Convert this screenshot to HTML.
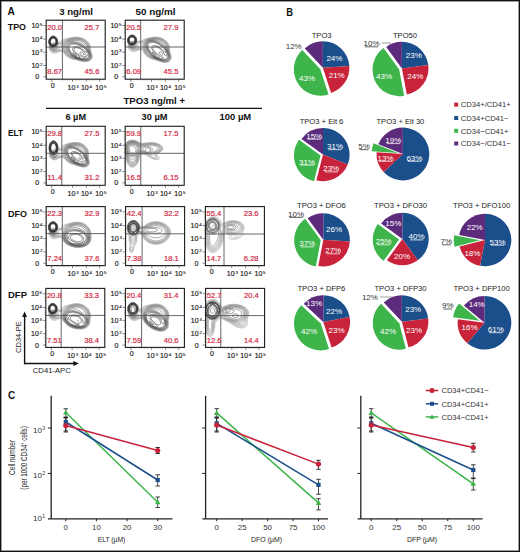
<!DOCTYPE html>
<html><head><meta charset="utf-8"><style>
html,body{margin:0;padding:0;background:#fff;}
svg{display:block;font-family:"Liberation Sans", sans-serif;}
</style></head><body>
<svg width="520" height="552" viewBox="0 0 520 552" font-family='"Liberation Sans", sans-serif'>
<rect x="0" y="0" width="520" height="552" fill="#fff" stroke="#111" stroke-width="2.8"/>
<text x="7.60" y="15.44" font-size="10.4" text-anchor="start" fill="#111" font-weight="bold" textLength="7.3" lengthAdjust="spacingAndGlyphs" >A</text>
<text x="59.20" y="15.00" font-size="8.6" text-anchor="start" fill="#111" font-weight="bold" textLength="33.7" lengthAdjust="spacingAndGlyphs" >3 ng/ml</text>
<text x="135.50" y="15.00" font-size="8.6" text-anchor="start" fill="#111" font-weight="bold" textLength="40" lengthAdjust="spacingAndGlyphs" >50 ng/ml</text>
<text x="7.80" y="29.81" font-size="9.2" text-anchor="start" fill="#111" font-weight="bold" textLength="18.2" lengthAdjust="spacingAndGlyphs" >TPO</text>
<text x="123.50" y="103.90" font-size="8.6" text-anchor="start" fill="#111" font-weight="bold" textLength="61.5" lengthAdjust="spacingAndGlyphs" >TPO3 ng/ml +</text>
<line x1="46" y1="108.3" x2="262" y2="108.3" stroke="#111" stroke-width="1.2"/>
<text x="65.50" y="119.70" font-size="8.6" text-anchor="start" fill="#111" font-weight="bold" textLength="20.5" lengthAdjust="spacingAndGlyphs" >6 µM</text>
<text x="141.60" y="119.70" font-size="8.6" text-anchor="start" fill="#111" font-weight="bold" textLength="26" lengthAdjust="spacingAndGlyphs" >30 µM</text>
<text x="219.50" y="119.70" font-size="8.6" text-anchor="start" fill="#111" font-weight="bold" textLength="31.7" lengthAdjust="spacingAndGlyphs" >100 µM</text>
<text x="8.00" y="136.31" font-size="9.2" text-anchor="start" fill="#111" font-weight="bold" textLength="15" lengthAdjust="spacingAndGlyphs" >ELT</text>
<text x="8.00" y="217.31" font-size="9.2" text-anchor="start" fill="#111" font-weight="bold" textLength="19" lengthAdjust="spacingAndGlyphs" >DFO</text>
<text x="8.00" y="298.31" font-size="9.2" text-anchor="start" fill="#111" font-weight="bold" textLength="19" lengthAdjust="spacingAndGlyphs" >DFP</text>
<g fill="none" stroke-width="0.5">
<path d="M87.7,61.5 85.2,61.7 82.2,61.4 71.0,58.6 68.5,57.4 66.5,56.0 64.9,54.5 63.1,52.0 62.2,51.4 61.2,51.3 59.7,51.7 56.5,53.2 55.2,53.5 53.5,53.4 52.0,52.8 50.0,51.0 49.1,48.7 49.0,47.2 49.5,45.5 48.8,43.0 48.7,41.2 49.0,39.7 49.5,38.5 50.5,37.2 51.7,36.3 53.2,36.0 54.7,36.3 56.0,37.2 56.9,38.5 57.6,40.2 57.9,42.5 58.2,42.5 59.6,42.0 62.0,40.1 64.0,39.2 68.5,38.0 73.0,37.2 76.2,37.0 79.5,37.3 82.2,38.1 85.0,39.4 87.8,41.7 89.8,44.7 90.5,47.2 90.9,51.2 92.3,55.7 92.2,57.7 91.4,59.5 89.7,60.8 87.7,61.5M51.4,43.5 53.0,42.8 55.5,42.7 55.7,42.4 55.7,40.3 55.2,39.3 54.3,38.5 53.2,38.2 52.2,38.4 51.0,39.7 50.5,42.0 50.7,42.9 51.0,43.3 51.4,43.5" stroke="#b9b9b9"/>
<path d="M86.2,61.5 84.0,61.4 81.7,61.1 73.2,59.0 70.5,58.1 68.5,57.1 66.7,55.9 65.0,54.2 63.2,51.7 62.2,51.1 60.1,51.2 55.0,52.9 53.5,52.8 52.0,52.1 50.2,50.5 49.4,48.5 49.3,47.2 49.6,45.7 49.0,43.7 48.8,41.7 49.1,39.7 49.6,38.5 50.7,37.1 52.0,36.3 53.5,36.1 55.0,36.5 56.1,37.5 57.1,39.0 57.6,40.5 58.0,42.9 60.5,42.2 62.7,40.4 65.0,39.4 69.7,38.1 73.5,37.4 76.7,37.3 79.7,37.6 82.5,38.4 85.0,39.6 87.7,42.0 89.5,44.7 90.2,47.2 90.6,51.0 91.8,54.5 92.1,56.2 91.8,58.2 90.7,59.8 88.7,61.0 86.2,61.5M51.5,43.7 53.2,43.1 55.5,43.0 55.7,42.7 55.9,41.5 55.7,40.2 55.2,39.2 54.3,38.5 53.7,38.2 52.6,38.2 51.7,38.7 51.0,39.6 50.5,41.1 50.5,42.2 51.0,43.5 51.5,43.7" stroke="#acacac"/>
<path d="M86.7,61.2 84.5,61.3 81.5,60.8 73.2,58.8 70.5,57.8 68.5,56.8 66.7,55.5 65.2,54.0 63.5,51.5 62.2,50.8 60.5,50.8 54.7,52.2 53.2,52.1 52.0,51.5 50.5,50.1 49.7,48.2 49.9,46.0 49.1,43.7 48.8,41.7 49.0,40.0 49.8,38.2 50.7,37.1 52.2,36.3 53.5,36.1 55.0,36.6 56.0,37.5 57.0,39.0 57.6,40.7 57.7,43.2 58.0,43.3 61.2,42.5 63.7,40.6 66.0,39.5 69.7,38.4 73.0,37.7 76.2,37.5 79.2,37.8 82.2,38.6 84.7,39.8 87.5,42.1 89.3,45.0 89.9,47.0 90.3,51.0 91.5,54.5 91.8,56.0 91.6,58.0 90.7,59.5 89.0,60.6 86.7,61.2M51.7,44.0 53.2,43.4 55.2,43.3 55.7,42.9 56.0,41.5 55.7,40.0 55.0,38.9 54.0,38.2 53.0,38.1 52.0,38.4 50.7,40.0 50.4,41.0 50.5,42.5 51.0,43.7 51.7,44.0" stroke="#9f9f9f"/>
<path d="M86.7,61.0 84.2,61.0 81.5,60.6 73.5,58.6 70.7,57.6 68.7,56.6 67.0,55.3 65.6,54.0 63.7,51.2 62.2,50.3 60.7,50.2 54.7,51.7 53.2,51.5 52.0,51.0 51.0,50.1 50.3,49.0 50.0,47.7 50.1,46.2 49.0,43.2 48.8,41.7 49.0,40.2 49.8,38.2 51.0,37.0 52.2,36.3 54.0,36.2 55.2,36.8 56.4,38.0 57.1,39.2 57.6,41.2 57.6,43.5 57.7,43.8 58.0,43.8 61.8,43.0 64.5,40.8 67.0,39.6 70.0,38.6 73.0,38.0 76.2,37.8 79.2,38.1 82.0,38.8 84.5,40.0 87.1,42.2 88.8,44.7 89.5,47.0 90.0,50.7 91.5,55.7 91.3,57.7 90.5,59.2 89.0,60.3 86.7,61.0M51.8,44.2 53.2,43.7 55.2,43.6 55.7,43.1 56.0,41.7 55.7,40.0 55.0,38.8 54.1,38.2 53.2,38.0 52.3,38.2 51.5,38.8 50.7,39.9 50.4,41.2 50.5,42.7 51.0,43.8 51.5,44.2 51.8,44.2" stroke="#929292"/>
<path d="M86.7,60.7 84.2,60.8 81.2,60.4 74.2,58.5 70.7,57.3 67.4,55.2 65.9,53.7 64.0,50.9 61.7,49.5 60.7,49.4 55.0,51.1 53.5,51.1 52.2,50.6 51.2,49.8 50.5,48.7 50.3,46.2 49.0,43.2 49.0,40.5 49.7,38.5 51.0,37.0 52.5,36.3 54.0,36.3 55.5,37.0 56.5,38.2 57.3,40.0 57.5,41.7 57.4,44.0 57.7,44.3 60.0,44.2 62.0,43.6 63.1,43.0 65.0,41.2 66.5,40.3 69.5,39.1 72.7,38.4 76.0,38.1 79.0,38.3 81.7,39.1 84.2,40.3 86.8,42.5 88.5,45.0 89.1,46.7 89.7,50.5 91.2,55.5 91.1,57.5 90.3,59.0 88.7,60.1 86.7,60.7M51.9,44.5 53.2,44.0 55.2,43.8 56.0,42.7 56.0,41.2 55.7,39.8 55.0,38.7 54.2,38.2 53.2,38.0 52.2,38.2 51.2,39.0 50.5,40.4 50.5,42.9 51.2,44.2 51.9,44.5" stroke="#868686"/>
<path d="M55.5,50.5 53.2,50.6 52.2,50.1 51.5,49.5 50.7,48.2 50.6,46.5 49.6,44.7 49.1,43.2 49.0,40.7 49.5,39.0 50.7,37.3 52.5,36.4 53.5,36.3 54.5,36.5 55.5,37.1 56.3,38.0 57.1,39.5 57.4,40.7 57.2,44.9 58.9,45.7 59.4,46.5 59.3,48.0 58.8,49.0 57.8,49.7 55.5,50.5M52.8,44.5 55.2,44.0 56.0,42.9 56.1,42.0 56.0,40.3 55.5,39.2 54.7,38.4 53.5,37.9 52.2,38.1 51.4,38.7 50.7,39.7 50.3,41.2 50.4,43.0 51.0,44.0 52.0,44.7 52.8,44.5M86.7,60.5 83.7,60.6 79.7,59.8 73.0,57.8 69.5,56.2 66.9,54.2 64.6,51.0 62.6,49.0 61.1,46.0 61.3,45.2 66.5,40.8 68.7,39.8 71.5,39.0 74.7,38.5 78.0,38.6 81.0,39.2 83.7,40.5 86.2,42.5 88.0,45.0 90.9,55.2 90.8,57.2 90.1,58.7 88.7,59.8 86.7,60.5" stroke="#797979"/>
<path d="M55.5,50.0 53.5,50.1 52.5,49.8 51.7,49.2 51.1,48.2 50.9,46.7 49.6,44.5 49.1,43.0 49.1,40.7 49.9,38.5 51.2,37.0 52.7,36.4 54.5,36.6 55.7,37.4 56.8,39.0 57.3,40.5 57.4,42.7 56.8,45.5 57.5,46.7 57.6,48.0 56.9,49.2 55.5,50.0M53.3,44.7 54.7,44.5 55.5,44.0 56.0,43.1 56.2,41.7 56.0,40.1 55.5,39.1 54.5,38.2 53.2,37.9 52.0,38.2 51.0,39.1 50.5,40.1 50.2,41.7 50.5,43.2 51.2,44.4 52.2,44.9 53.3,44.7M86.5,60.2 83.2,60.3 78.7,59.4 73.2,57.5 69.5,55.6 67.0,53.5 63.6,49.0 62.9,46.5 63.0,45.5 63.3,44.7 65.5,42.2 67.0,41.1 69.5,40.0 72.5,39.2 75.7,38.9 78.7,39.2 81.5,39.9 84.0,41.2 86.0,43.0 87.4,45.2 90.6,55.2 90.5,57.0 89.8,58.5 88.5,59.6 86.5,60.2" stroke="#6c6c6c"/>
<path d="M54.2,49.7 53.0,49.5 51.9,48.7 51.3,47.0 49.6,44.5 49.1,42.5 49.3,40.0 50.1,38.2 51.5,36.9 53.0,36.4 54.5,36.7 55.9,37.7 56.9,39.2 57.3,41.2 57.1,43.7 56.4,46.0 56.7,47.2 56.6,48.2 55.7,49.2 54.2,49.7M53.8,45.0 54.7,44.7 55.7,43.8 56.2,42.3 56.2,41.0 55.7,39.5 55.0,38.5 54.1,38.0 53.0,37.8 51.7,38.3 50.7,39.4 50.2,40.9 50.2,42.5 50.7,43.9 51.5,44.7 52.5,45.1 53.8,45.0M86.0,60.0 82.5,59.9 77.7,58.8 73.5,57.3 69.8,55.2 67.6,53.2 64.4,48.7 64.0,47.5 63.9,46.2 64.5,44.5 66.2,42.5 67.7,41.3 70.0,40.4 73.0,39.7 76.0,39.5 79.0,39.9 81.5,40.7 83.7,42.0 85.5,43.5 86.7,45.5 89.5,52.5 90.2,55.2 90.1,57.0 89.3,58.5 88.0,59.4 86.0,60.0" stroke="#606060"/>
<path d="M54.7,49.0 53.5,49.1 52.5,48.6 51.8,47.2 49.8,44.7 49.2,43.0 49.2,41.0 49.9,38.7 51.2,37.2 52.7,36.5 54.2,36.7 55.7,37.6 56.8,39.2 57.2,41.0 57.1,43.5 55.8,46.5 55.8,48.0 55.5,48.5 54.7,49.0M53.7,45.2 55.0,44.7 55.7,43.9 56.2,42.7 56.3,41.0 55.8,39.5 55.0,38.5 54.2,37.9 53.0,37.7 51.7,38.2 50.7,39.3 50.2,40.7 50.1,42.2 50.5,43.6 51.3,44.7 52.2,45.2 53.7,45.2M85.5,59.7 81.7,59.5 77.0,58.4 73.0,56.6 69.8,54.5 67.7,52.2 65.6,49.0 65.0,47.7 64.8,46.5 65.0,45.5 66.4,43.2 67.9,42.0 69.7,41.1 72.0,40.6 74.7,40.4 77.5,40.6 79.8,41.2 82.0,42.2 83.7,43.4 85.5,45.4 87.7,49.1 89.1,52.2 89.8,55.0 89.7,56.7 88.9,58.2 87.5,59.2 85.5,59.7" stroke="#535353"/>
<path d="M54.5,48.2 54.0,48.4 53.2,48.2 51.0,46.1 49.8,44.5 49.3,42.7 49.3,40.5 50.0,38.7 51.2,37.3 52.7,36.6 54.2,36.8 55.5,37.5 56.6,39.0 57.1,40.7 57.2,42.5 56.8,44.2 54.5,48.2M53.0,45.5 54.3,45.2 55.5,44.4 56.2,43.0 56.4,41.7 56.2,40.3 55.5,38.8 54.5,37.9 53.2,37.6 52.0,37.9 51.0,38.8 50.2,40.3 50.0,41.7 50.2,43.1 50.9,44.5 51.8,45.2 53.0,45.5M86.0,59.2 82.7,59.3 78.5,58.5 74.5,57.0 71.2,55.0 68.6,52.2 66.1,48.0 65.9,46.7 66.0,45.7 67.1,43.7 68.2,42.7 70.0,41.8 72.2,41.4 74.5,41.5 77.0,42.0 79.7,43.0 82.2,44.3 84.2,45.8 86.2,47.8 87.6,49.7 88.6,52.0 89.3,54.5 89.3,56.2 88.7,57.5 87.7,58.5 86.0,59.2" stroke="#464646"/>
<path d="M54.0,47.2 52.5,47.0 51.0,46.0 49.9,44.5 49.3,42.5 49.4,40.5 50.2,38.5 51.5,37.2 53.0,36.7 54.4,37.0 55.7,37.9 56.7,39.5 57.1,41.2 57.0,43.2 56.3,45.0 55.2,46.4 54.0,47.2M54.0,45.5 55.2,44.8 56.0,43.7 56.4,42.2 56.4,40.7 55.8,39.2 55.0,38.1 54.0,37.6 52.7,37.5 51.5,38.1 50.6,39.2 50.0,40.7 50.0,42.5 50.5,43.9 51.5,45.1 52.7,45.6 54.0,45.5M85.5,58.7 82.2,58.9 78.2,58.2 74.7,56.8 71.9,55.0 69.3,52.2 67.3,48.5 66.9,46.2 67.8,44.2 69.0,43.2 70.5,42.6 72.5,42.3 74.7,42.5 77.2,43.1 80.0,44.1 82.2,45.3 84.5,46.8 86.1,48.5 87.4,50.2 88.3,52.2 88.7,54.2 88.6,56.0 88.1,57.2 87.0,58.2 85.5,58.7M83.3,55.2 83.7,55.0 83.9,54.5 83.5,53.3 82.0,52.0 81.2,51.7 80.7,51.8 79.9,53.0 80.1,54.0 81.5,55.0 82.5,55.3 83.3,55.2" stroke="#3a3a3a"/>
<path d="M53.7,47.0 52.5,46.8 50.9,45.7 49.9,44.2 49.4,42.2 49.7,40.0 50.2,38.7 51.4,37.5 53.0,36.9 54.5,37.1 55.7,38.1 56.5,39.2 57.0,41.2 57.0,42.7 56.2,44.9 55.0,46.4 53.7,47.0M53.5,45.7 54.9,45.2 55.9,44.2 56.5,42.7 56.6,41.2 56.3,40.0 55.5,38.4 54.2,37.5 53.0,37.3 51.7,37.8 50.5,39.0 49.9,40.7 49.8,42.2 50.3,44.0 51.1,45.0 52.2,45.6 53.5,45.7M83.2,58.2 80.4,58.2 77.2,57.5 74.2,56.1 71.7,54.2 69.5,51.5 68.1,48.5 68.0,46.2 68.9,44.5 70.2,43.6 72.0,43.2 74.0,43.2 76.2,43.5 78.7,44.3 81.2,45.4 83.5,46.8 85.2,48.2 86.5,49.7 87.4,51.5 87.9,53.0 87.8,54.5 87.5,55.6 86.7,56.4 85.0,57.7 83.2,58.2M85.5,56.7 86.0,56.3 86.1,55.7 85.5,54.0 83.8,51.7 81.6,49.7 79.4,48.5 77.2,47.8 75.2,47.9 74.1,48.7 73.9,50.0 74.5,51.2 75.8,52.5 78.8,54.7 80.7,55.9 82.5,56.6 84.2,56.9 85.5,56.7" stroke="#2d2d2d"/>
<path d="M56.5,43.9 56.5,43.6 56.5,43.9M80.0,57.3 78.0,57.2 75.5,56.3 73.2,54.8 71.4,53.0 69.8,50.5 69.0,48.0 69.2,46.2 70.2,44.8 71.5,44.2 73.2,43.9 75.5,44.1 77.7,44.7 79.8,45.5 82.2,46.7 84.0,48.0 85.5,49.5 86.5,51.2 86.5,52.3 85.7,52.1 81.5,48.7 78.5,47.2 76.7,46.9 75.2,46.8 73.8,47.2 72.9,48.0 72.6,49.5 73.3,51.2 74.8,52.7 79.7,56.5 80.2,57.0 80.0,57.3M54.0,46.7 53.2,46.8 52.2,46.5 51.4,46.0 50.8,45.2 52.5,45.8 54.0,45.8 55.2,45.2 56.2,44.0 56.2,44.6 55.5,45.7 54.0,46.7M50.7,45.0 50.7,45.0" stroke="#202020"/>
<path d="M53.7,46.5 52.8,46.5 52.4,46.2 54.8,46.0 53.7,46.5M76.5,55.6 75.6,55.5 74.0,54.5 72.9,53.2 72.9,52.7 75.6,54.5 76.4,55.2 76.5,55.6" stroke="#141414"/>
</g>
<line x1="62.400000000000006" y1="20.2" x2="62.400000000000006" y2="79.2" stroke="#555" stroke-width="0.9"/>
<line x1="46.2" y1="47.0" x2="105.2" y2="47.0" stroke="#555" stroke-width="0.9"/>
<rect x="46.2" y="20.2" width="59" height="59" fill="none" stroke="#1a1a1a" stroke-width="1.1"/>
<text x="47.30" y="29.93" font-size="8.0" text-anchor="start" fill="#d2283f" font-weight="normal" textLength="14.8" lengthAdjust="spacingAndGlyphs" stroke="#d2283f" stroke-width="0.2">20.0</text>
<text x="99.40" y="29.93" font-size="8.0" text-anchor="end" fill="#d2283f" font-weight="normal" textLength="14.8" lengthAdjust="spacingAndGlyphs" stroke="#d2283f" stroke-width="0.2">25.7</text>
<text x="47.30" y="74.38" font-size="8.0" text-anchor="start" fill="#d2283f" font-weight="normal" textLength="14.8" lengthAdjust="spacingAndGlyphs" stroke="#d2283f" stroke-width="0.2">8.67</text>
<text x="99.40" y="74.38" font-size="8.0" text-anchor="end" fill="#d2283f" font-weight="normal" textLength="14.8" lengthAdjust="spacingAndGlyphs" stroke="#d2283f" stroke-width="0.2">45.6</text>
<line x1="43.400000000000006" y1="25.5" x2="46.2" y2="25.5" stroke="#333" stroke-width="0.6"/>
<text x="39.20" y="28.01" font-size="7.0" text-anchor="end" fill="#222" stroke="#222" stroke-width="0.18">10</text>
<text x="40.00" y="25.70" font-size="4.4" fill="#222" stroke="#222" stroke-width="0.12">5</text>
<line x1="43.400000000000006" y1="39.2" x2="46.2" y2="39.2" stroke="#333" stroke-width="0.6"/>
<text x="39.20" y="41.71" font-size="7.0" text-anchor="end" fill="#222" stroke="#222" stroke-width="0.18">10</text>
<text x="40.00" y="39.40" font-size="4.4" fill="#222" stroke="#222" stroke-width="0.12">4</text>
<line x1="43.400000000000006" y1="52.2" x2="46.2" y2="52.2" stroke="#333" stroke-width="0.6"/>
<text x="39.20" y="54.71" font-size="7.0" text-anchor="end" fill="#222" stroke="#222" stroke-width="0.18">10</text>
<text x="40.00" y="52.40" font-size="4.4" fill="#222" stroke="#222" stroke-width="0.12">3</text>
<line x1="43.400000000000006" y1="65.5" x2="46.2" y2="65.5" stroke="#333" stroke-width="0.6"/>
<text x="39.20" y="68.01" font-size="7.0" text-anchor="end" fill="#222" stroke="#222" stroke-width="0.18">10</text>
<text x="40.00" y="65.70" font-size="4.4" fill="#222" stroke="#222" stroke-width="0.12">2</text>
<line x1="43.400000000000006" y1="76.8" x2="46.2" y2="76.8" stroke="#333" stroke-width="0.6"/>
<text x="39.20" y="79.32" font-size="7.0" text-anchor="end" fill="#222" font-weight="normal" stroke="#222" stroke-width="0.18">0</text>
<line x1="44.800000000000004" y1="28.2" x2="46.2" y2="28.2" stroke="#555" stroke-width="0.4"/>
<line x1="44.800000000000004" y1="30.2" x2="46.2" y2="30.2" stroke="#555" stroke-width="0.4"/>
<line x1="44.800000000000004" y1="32.2" x2="46.2" y2="32.2" stroke="#555" stroke-width="0.4"/>
<line x1="44.800000000000004" y1="42.2" x2="46.2" y2="42.2" stroke="#555" stroke-width="0.4"/>
<line x1="44.800000000000004" y1="44.2" x2="46.2" y2="44.2" stroke="#555" stroke-width="0.4"/>
<line x1="44.800000000000004" y1="46.2" x2="46.2" y2="46.2" stroke="#555" stroke-width="0.4"/>
<line x1="44.800000000000004" y1="55.2" x2="46.2" y2="55.2" stroke="#555" stroke-width="0.4"/>
<line x1="44.800000000000004" y1="57.2" x2="46.2" y2="57.2" stroke="#555" stroke-width="0.4"/>
<line x1="44.800000000000004" y1="59.2" x2="46.2" y2="59.2" stroke="#555" stroke-width="0.4"/>
<line x1="44.800000000000004" y1="68.2" x2="46.2" y2="68.2" stroke="#555" stroke-width="0.4"/>
<line x1="44.800000000000004" y1="70.2" x2="46.2" y2="70.2" stroke="#555" stroke-width="0.4"/>
<line x1="44.800000000000004" y1="73.2" x2="46.2" y2="73.2" stroke="#555" stroke-width="0.4"/>
<line x1="51.800000000000004" y1="79.2" x2="51.800000000000004" y2="81.8" stroke="#333" stroke-width="0.6"/>
<line x1="72.5" y1="79.2" x2="72.5" y2="81.8" stroke="#333" stroke-width="0.6"/>
<line x1="86.4" y1="79.2" x2="86.4" y2="81.8" stroke="#333" stroke-width="0.6"/>
<line x1="99.7" y1="79.2" x2="99.7" y2="81.8" stroke="#333" stroke-width="0.6"/>
<line x1="60.2" y1="79.2" x2="60.2" y2="80.5" stroke="#555" stroke-width="0.4"/>
<line x1="63.2" y1="79.2" x2="63.2" y2="80.5" stroke="#555" stroke-width="0.4"/>
<line x1="65.2" y1="79.2" x2="65.2" y2="80.5" stroke="#555" stroke-width="0.4"/>
<line x1="67.2" y1="79.2" x2="67.2" y2="80.5" stroke="#555" stroke-width="0.4"/>
<line x1="69.2" y1="79.2" x2="69.2" y2="80.5" stroke="#555" stroke-width="0.4"/>
<line x1="75.2" y1="79.2" x2="75.2" y2="80.5" stroke="#555" stroke-width="0.4"/>
<line x1="77.2" y1="79.2" x2="77.2" y2="80.5" stroke="#555" stroke-width="0.4"/>
<line x1="79.2" y1="79.2" x2="79.2" y2="80.5" stroke="#555" stroke-width="0.4"/>
<line x1="81.2" y1="79.2" x2="81.2" y2="80.5" stroke="#555" stroke-width="0.4"/>
<line x1="83.2" y1="79.2" x2="83.2" y2="80.5" stroke="#555" stroke-width="0.4"/>
<line x1="89.2" y1="79.2" x2="89.2" y2="80.5" stroke="#555" stroke-width="0.4"/>
<line x1="91.2" y1="79.2" x2="91.2" y2="80.5" stroke="#555" stroke-width="0.4"/>
<line x1="93.2" y1="79.2" x2="93.2" y2="80.5" stroke="#555" stroke-width="0.4"/>
<line x1="95.2" y1="79.2" x2="95.2" y2="80.5" stroke="#555" stroke-width="0.4"/>
<line x1="97.2" y1="79.2" x2="97.2" y2="80.5" stroke="#555" stroke-width="0.4"/>
<text x="52.60" y="88.02" font-size="7.0" text-anchor="middle" fill="#222" font-weight="normal" stroke="#222" stroke-width="0.18">0</text>
<text x="75.40" y="90.01" font-size="7.0" text-anchor="end" fill="#222" stroke="#222" stroke-width="0.18">10</text>
<text x="76.20" y="87.70" font-size="4.4" fill="#222" stroke="#222" stroke-width="0.12">3</text>
<text x="88.70" y="90.01" font-size="7.0" text-anchor="end" fill="#222" stroke="#222" stroke-width="0.18">10</text>
<text x="89.50" y="87.70" font-size="4.4" fill="#222" stroke="#222" stroke-width="0.12">4</text>
<text x="103.10" y="90.01" font-size="7.0" text-anchor="end" fill="#222" stroke="#222" stroke-width="0.18">10</text>
<text x="103.90" y="87.70" font-size="4.4" fill="#222" stroke="#222" stroke-width="0.12">5</text>
<g fill="none" stroke-width="0.5">
<path d="M166.4,62.5 164.4,62.5 161.9,62.1 156.5,60.2 151.7,58.9 149.2,57.8 147.2,56.5 145.5,55.0 144.1,53.0 142.9,50.5 141.9,49.7 140.7,49.7 138.5,50.2 135.4,51.6 134.2,52.0 132.4,51.9 130.7,51.1 128.9,49.2 128.0,46.7 128.0,45.2 128.3,43.7 127.6,41.2 127.5,40.0 127.8,38.5 128.5,37.0 129.7,35.8 131.2,35.1 132.7,35.0 134.2,35.6 135.3,36.5 136.1,37.7 136.6,39.0 136.9,41.2 137.2,41.4 140.7,40.8 143.9,39.2 146.4,38.4 153.9,37.0 156.9,37.0 159.4,37.4 162.2,38.3 164.4,39.5 167.2,42.0 168.8,44.7 169.5,47.2 169.7,51.5 170.9,55.0 171.2,57.0 171.1,59.0 170.2,60.7 168.7,61.9 166.4,62.5M130.1,41.7 131.7,41.1 134.4,41.1 134.7,40.8 134.7,39.0 133.9,37.7 133.1,37.2 131.9,37.0 131.1,37.2 130.2,37.8 129.4,39.1 129.3,40.0 129.4,41.1 129.7,41.6 130.1,41.7" stroke="#b9b9b9"/>
<path d="M166.7,62.2 164.4,62.3 161.9,61.9 152.2,58.8 149.7,57.8 147.7,56.6 145.9,55.0 144.4,53.0 143.1,50.2 142.1,49.5 141.2,49.3 139.4,49.6 133.9,51.3 132.4,51.2 130.9,50.5 129.3,49.0 128.4,46.7 128.3,45.5 128.5,44.0 127.8,42.0 127.5,40.2 127.8,38.5 128.6,37.0 129.7,35.8 131.4,35.1 132.7,35.1 134.2,35.6 135.4,36.7 136.1,37.7 136.6,39.2 136.7,41.4 136.9,41.7 141.0,41.2 146.4,38.7 150.2,37.8 153.9,37.3 156.9,37.3 159.4,37.6 161.7,38.3 164.2,39.6 166.9,42.0 168.7,45.0 169.3,47.5 169.5,51.5 171.0,56.7 170.9,58.7 170.0,60.5 168.7,61.6 166.7,62.2M130.2,42.0 131.9,41.3 134.2,41.4 134.7,41.1 134.9,40.0 134.7,39.0 133.9,37.7 133.2,37.2 131.9,36.9 131.0,37.2 130.2,37.8 129.4,38.9 129.3,40.2 129.7,41.7 130.2,42.0" stroke="#acacac"/>
<path d="M166.7,62.0 164.4,62.1 161.7,61.6 152.2,58.5 149.7,57.5 147.7,56.2 146.0,54.7 144.6,52.7 143.3,50.0 142.2,49.1 140.4,49.0 133.7,50.6 132.2,50.4 130.9,49.8 129.4,48.4 128.6,46.5 128.7,44.0 127.8,42.0 127.6,40.5 127.8,38.7 128.3,37.5 129.4,36.1 130.7,35.3 132.2,35.1 133.9,35.5 135.4,36.7 136.2,38.0 136.6,39.5 136.6,41.7 136.9,42.0 141.9,41.5 145.2,39.7 147.2,38.9 150.4,38.0 153.9,37.5 156.7,37.5 159.2,37.8 161.7,38.6 163.9,39.8 166.5,42.0 167.6,43.5 168.3,45.0 168.9,47.2 169.3,51.2 170.7,56.2 170.7,58.2 170.0,60.0 168.7,61.2 166.7,62.0M130.3,42.2 132.2,41.6 134.2,41.7 134.7,41.3 134.9,40.5 134.9,39.5 134.4,38.3 133.7,37.5 132.7,37.0 131.5,37.0 129.9,38.0 129.4,38.8 129.2,40.3 129.4,41.4 129.9,42.1 130.3,42.2" stroke="#9f9f9f"/>
<path d="M166.4,61.7 164.2,61.8 161.4,61.3 152.2,58.3 149.7,57.2 147.8,56.0 146.2,54.5 144.8,52.5 143.4,49.6 142.2,48.6 140.7,48.5 133.7,50.0 132.2,49.8 130.9,49.2 129.9,48.3 129.2,47.2 128.9,46.0 129.0,44.2 127.8,41.5 127.8,39.0 128.5,37.2 129.4,36.1 130.9,35.3 132.4,35.2 134.2,35.7 135.3,36.7 136.1,38.0 136.6,39.7 136.5,42.2 136.9,42.4 142.4,41.8 145.7,39.9 147.4,39.1 150.4,38.3 153.7,37.8 156.4,37.8 158.9,38.1 161.4,38.8 163.7,40.0 166.3,42.2 168.0,45.0 168.6,47.2 169.0,51.0 170.4,56.2 170.4,58.2 169.7,60.0 168.4,61.0 166.4,61.7M131.0,42.2 132.4,41.8 134.2,41.9 134.7,41.5 134.9,40.8 134.9,39.4 134.5,38.2 133.8,37.5 132.8,37.0 131.7,36.9 130.8,37.2 129.9,37.9 129.4,38.7 129.2,40.2 129.4,41.5 130.2,42.4 131.0,42.2" stroke="#929292"/>
<path d="M166.4,61.5 164.2,61.6 161.4,61.1 152.4,58.0 149.7,56.8 147.9,55.6 146.5,54.2 145.2,52.5 143.7,49.2 141.9,47.8 140.4,47.7 137.2,48.8 133.9,49.4 132.4,49.3 130.9,48.7 130.1,48.0 129.5,47.0 129.2,46.0 129.2,44.5 128.4,43.0 127.8,41.5 127.8,39.2 128.6,37.2 129.7,36.0 131.2,35.3 132.9,35.3 134.2,35.8 135.6,37.2 136.3,38.7 136.6,40.2 136.4,42.7 137.4,43.0 139.9,42.9 142.7,42.4 143.7,41.9 145.9,40.2 147.4,39.5 149.9,38.7 153.4,38.2 156.2,38.1 158.7,38.4 161.2,39.1 163.4,40.2 165.9,42.4 167.6,45.0 168.2,47.0 168.7,51.0 170.1,56.0 170.1,58.0 169.4,59.7 168.2,60.8 166.4,61.5M131.2,42.5 132.4,42.1 134.2,42.1 134.9,41.0 135.0,39.7 134.7,38.5 133.9,37.5 133.0,37.0 131.7,36.8 130.7,37.2 129.7,38.2 129.2,39.3 129.2,40.7 129.4,41.7 130.2,42.5 130.7,42.6 131.2,42.5" stroke="#868686"/>
<path d="M134.7,48.7 132.2,48.7 130.4,47.7 129.7,46.5 129.5,44.7 128.3,42.7 127.9,41.5 127.8,39.5 128.3,37.7 129.7,36.1 131.2,35.4 132.4,35.3 133.7,35.6 134.7,36.2 135.6,37.2 136.3,38.7 136.5,40.0 136.1,43.2 137.8,44.5 138.3,45.2 138.3,46.5 137.7,47.5 136.6,48.2 134.7,48.7M131.4,42.7 133.9,42.4 134.4,42.1 135.0,41.2 135.1,39.7 134.7,38.4 133.9,37.4 132.7,36.8 131.7,36.8 130.6,37.2 129.7,38.1 129.2,39.2 129.2,41.0 129.7,42.2 130.4,42.8 131.4,42.7M165.9,61.2 163.4,61.2 160.4,60.6 152.2,57.6 148.9,55.9 147.3,54.5 146.1,53.0 144.2,49.1 141.6,45.5 141.2,44.7 141.4,44.2 146.9,40.1 148.9,39.3 151.4,38.8 154.9,38.4 157.9,38.6 160.9,39.4 163.4,40.7 165.7,42.7 167.2,45.2 167.7,47.0 168.4,51.0 169.8,56.0 169.8,58.0 169.2,59.5 167.9,60.6 165.9,61.2" stroke="#797979"/>
<path d="M134.2,48.3 132.2,48.2 130.7,47.3 130.0,46.2 129.9,45.0 128.4,42.7 127.9,41.2 127.8,39.5 128.5,37.5 129.7,36.1 131.4,35.4 132.9,35.4 134.4,36.1 135.7,37.5 136.3,39.2 136.3,41.5 135.7,43.7 136.4,45.2 136.5,46.5 135.7,47.6 134.2,48.3M131.7,43.0 133.7,42.7 134.2,42.5 134.9,41.4 135.2,40.5 135.0,39.0 134.4,37.9 133.7,37.2 132.4,36.7 131.2,36.8 130.2,37.4 129.4,38.4 129.1,39.7 129.2,41.2 129.7,42.3 130.5,43.0 131.7,43.0M165.7,61.0 162.7,60.9 158.9,59.8 152.4,57.3 148.9,55.2 147.5,54.0 146.4,52.5 143.6,47.0 143.2,45.2 143.7,43.7 145.7,41.5 147.2,40.4 149.4,39.5 152.4,39.0 155.7,38.9 158.7,39.2 161.4,40.2 163.7,41.5 165.4,43.3 166.7,45.5 169.5,56.0 169.4,58.0 168.7,59.4 167.4,60.4 165.7,61.0" stroke="#6c6c6c"/>
<path d="M133.7,47.8 132.2,47.7 130.9,47.0 130.5,46.2 130.2,45.0 128.6,43.0 127.9,41.0 128.1,38.7 128.8,37.2 129.9,36.0 131.7,35.4 133.2,35.5 134.7,36.4 135.7,37.7 136.3,39.5 136.1,42.0 135.2,44.2 135.5,45.5 135.5,46.2 134.9,47.2 133.7,47.8M132.1,43.2 133.6,43.0 134.4,42.4 134.9,41.6 135.2,40.2 135.0,38.7 134.4,37.8 133.4,37.0 132.2,36.6 130.9,36.9 129.9,37.6 129.2,38.8 128.9,40.2 129.2,41.6 129.9,42.7 130.8,43.2 132.1,43.2M164.7,60.7 161.2,60.3 155.4,58.3 151.3,56.2 148.4,54.0 146.5,51.5 144.2,46.2 144.3,44.2 146.1,41.7 147.7,40.6 149.9,39.8 152.7,39.4 155.7,39.4 158.2,39.8 160.5,40.5 162.4,41.5 164.2,43.0 165.4,44.6 166.3,46.5 168.6,53.5 169.2,56.5 168.9,58.2 168.1,59.5 166.7,60.3 164.7,60.7" stroke="#606060"/>
<path d="M133.2,47.2 132.2,47.1 131.2,46.5 130.7,45.2 128.8,43.2 128.0,41.2 128.0,39.2 128.5,37.7 129.7,36.3 131.4,35.5 132.9,35.5 134.4,36.3 135.7,37.7 136.2,39.5 136.1,41.7 134.7,44.7 134.6,46.2 133.9,46.9 133.2,47.2M132.0,43.5 133.4,43.2 134.4,42.5 135.0,41.7 135.3,40.2 135.0,38.7 134.4,37.7 133.4,36.9 132.2,36.6 131.2,36.7 129.9,37.5 129.2,38.6 128.9,40.0 129.1,41.5 129.7,42.5 130.7,43.3 132.0,43.5M165.4,60.2 163.7,60.3 161.9,60.1 156.9,58.6 152.7,56.6 149.5,54.2 147.2,51.2 145.0,46.5 144.9,45.2 145.1,44.2 146.6,42.0 147.9,40.9 149.7,40.3 151.9,39.9 154.7,40.0 157.4,40.4 159.7,41.2 161.6,42.2 163.2,43.5 164.9,45.7 166.6,48.7 167.9,52.0 168.7,55.5 168.7,57.2 168.1,58.7 167.0,59.7 165.4,60.2" stroke="#535353"/>
<path d="M132.9,46.5 132.0,46.2 131.4,45.5 129.3,43.7 128.4,42.2 128.0,41.0 128.1,39.2 128.8,37.5 130.2,36.1 131.7,35.6 133.4,35.8 134.7,36.6 135.7,38.0 136.2,39.7 136.1,41.5 135.6,43.0 134.0,45.0 133.7,46.0 132.9,46.5M133.1,43.5 134.2,42.9 134.9,41.9 135.3,40.7 135.3,39.2 134.7,38.0 133.7,37.0 132.7,36.5 131.4,36.5 130.2,37.2 129.3,38.2 128.8,39.7 128.9,41.2 129.4,42.3 130.4,43.3 131.7,43.6 133.1,43.5M165.4,59.7 163.9,59.9 162.2,59.8 157.7,58.6 153.7,56.8 150.6,54.5 147.9,51.2 145.8,46.7 145.6,45.5 145.7,44.5 146.9,42.3 148.4,41.2 150.2,40.6 152.2,40.4 154.4,40.6 156.7,41.1 158.9,42.1 160.9,43.3 163.2,45.1 164.9,47.0 166.3,49.2 167.5,52.0 168.2,54.7 168.3,56.5 167.9,58.0 166.9,59.0 165.4,59.7" stroke="#464646"/>
<path d="M132.9,45.2 131.4,45.1 129.9,44.2 128.7,42.7 128.1,41.0 128.2,39.2 128.9,37.5 130.2,36.2 131.7,35.7 133.2,35.8 134.4,36.5 135.5,37.7 136.1,39.5 136.1,41.2 135.6,42.7 134.4,44.2 132.9,45.2M132.6,43.7 133.9,43.2 134.7,42.5 135.3,41.2 135.4,39.7 135.0,38.2 134.2,37.2 132.9,36.5 131.7,36.4 130.4,36.9 129.4,38.0 128.8,39.2 128.8,40.7 129.1,42.0 129.9,43.1 131.2,43.7 132.6,43.7M164.7,59.2 161.4,59.2 157.4,58.2 153.9,56.5 151.2,54.4 148.4,51.0 146.6,47.0 146.4,44.7 146.7,43.7 147.4,42.6 148.7,41.7 150.4,41.1 152.4,40.9 154.7,41.3 156.9,42.0 159.2,43.1 161.4,44.6 163.4,46.3 165.2,48.2 166.3,50.0 167.2,52.2 167.6,54.5 167.6,56.2 167.1,57.7 166.1,58.7 164.7,59.2M162.4,55.2 162.8,54.5 162.2,53.2 160.9,51.9 160.4,51.7 159.9,51.8 159.3,53.0 159.7,54.0 160.9,55.0 161.7,55.2 162.4,55.2" stroke="#3a3a3a"/>
<path d="M132.7,45.0 131.2,44.8 129.7,43.8 128.7,42.4 128.2,40.5 128.4,38.7 129.2,37.2 130.4,36.2 131.7,35.8 133.2,35.9 134.5,36.7 135.5,38.0 136.0,39.7 135.9,41.1 135.2,43.1 134.2,44.3 132.7,45.0M133.1,43.7 134.2,43.1 135.0,42.2 135.6,40.7 135.5,39.2 134.8,37.7 133.9,36.8 132.7,36.3 131.2,36.3 129.9,37.1 129.1,38.2 128.6,39.7 128.8,41.5 129.4,42.7 130.4,43.5 131.7,43.9 133.1,43.7M161.9,58.5 158.9,58.2 155.9,57.2 153.1,55.5 150.8,53.2 148.5,50.0 147.2,46.7 147.1,45.5 147.2,44.5 148.4,42.7 149.7,41.9 151.4,41.5 153.4,41.6 155.4,42.1 157.9,43.2 160.4,44.6 162.7,46.4 164.3,48.0 165.9,50.2 166.7,52.5 166.8,54.7 166.4,55.6 165.9,56.1 165.4,56.0 163.7,53.0 161.9,50.5 158.9,47.9 156.9,47.0 154.9,46.7 153.7,47.0 152.9,48.1 153.2,49.7 154.9,51.7 159.4,55.5 163.4,57.7 163.5,58.0 163.1,58.2 161.9,58.5" stroke="#2d2d2d"/>
<path d="M135.4,42.0 135.4,42.0M132.9,44.7 131.2,44.6 129.6,43.5 131.4,44.0 132.7,44.0 134.2,43.3 135.2,42.3 135.2,42.8 134.5,43.7 132.9,44.7M159.2,57.2 157.4,57.2 154.7,56.0 152.4,54.2 150.3,51.7 148.7,48.7 148.0,46.2 148.2,44.5 149.4,43.0 150.9,42.4 152.7,42.3 154.7,42.6 156.7,43.3 159.0,44.5 161.2,46.0 163.2,47.7 164.7,49.5 165.5,51.2 165.6,52.0 165.4,52.5 164.7,52.3 160.4,48.0 157.4,46.2 155.7,45.7 154.2,45.6 152.9,45.9 152.0,46.7 151.6,48.2 152.4,50.2 154.0,52.0 158.7,56.2 159.3,57.0 159.2,57.2" stroke="#202020"/>
<path d="M132.9,44.5 131.5,44.5 133.5,44.2 132.9,44.5M155.7,55.5 154.6,55.0 153.3,54.0 152.4,52.9 152.2,52.1 152.9,52.4 155.1,54.2 155.9,55.2 155.7,55.5" stroke="#141414"/>
</g>
<line x1="140.7" y1="20.2" x2="140.7" y2="79.2" stroke="#555" stroke-width="0.9"/>
<line x1="125.2" y1="47.0" x2="184.2" y2="47.0" stroke="#555" stroke-width="0.9"/>
<rect x="125.2" y="20.2" width="59" height="59" fill="none" stroke="#1a1a1a" stroke-width="1.1"/>
<text x="126.30" y="29.93" font-size="8.0" text-anchor="start" fill="#d2283f" font-weight="normal" textLength="14.8" lengthAdjust="spacingAndGlyphs" stroke="#d2283f" stroke-width="0.2">20.5</text>
<text x="178.40" y="29.93" font-size="8.0" text-anchor="end" fill="#d2283f" font-weight="normal" textLength="14.8" lengthAdjust="spacingAndGlyphs" stroke="#d2283f" stroke-width="0.2">27.9</text>
<text x="126.30" y="74.38" font-size="8.0" text-anchor="start" fill="#d2283f" font-weight="normal" textLength="14.8" lengthAdjust="spacingAndGlyphs" stroke="#d2283f" stroke-width="0.2">6.09</text>
<text x="178.40" y="74.38" font-size="8.0" text-anchor="end" fill="#d2283f" font-weight="normal" textLength="14.8" lengthAdjust="spacingAndGlyphs" stroke="#d2283f" stroke-width="0.2">45.5</text>
<line x1="122.4" y1="25.5" x2="125.2" y2="25.5" stroke="#333" stroke-width="0.6"/>
<text x="118.20" y="28.01" font-size="7.0" text-anchor="end" fill="#222" stroke="#222" stroke-width="0.18">10</text>
<text x="119.00" y="25.70" font-size="4.4" fill="#222" stroke="#222" stroke-width="0.12">5</text>
<line x1="122.4" y1="39.2" x2="125.2" y2="39.2" stroke="#333" stroke-width="0.6"/>
<text x="118.20" y="41.71" font-size="7.0" text-anchor="end" fill="#222" stroke="#222" stroke-width="0.18">10</text>
<text x="119.00" y="39.40" font-size="4.4" fill="#222" stroke="#222" stroke-width="0.12">4</text>
<line x1="122.4" y1="52.2" x2="125.2" y2="52.2" stroke="#333" stroke-width="0.6"/>
<text x="118.20" y="54.71" font-size="7.0" text-anchor="end" fill="#222" stroke="#222" stroke-width="0.18">10</text>
<text x="119.00" y="52.40" font-size="4.4" fill="#222" stroke="#222" stroke-width="0.12">3</text>
<line x1="122.4" y1="65.5" x2="125.2" y2="65.5" stroke="#333" stroke-width="0.6"/>
<text x="118.20" y="68.01" font-size="7.0" text-anchor="end" fill="#222" stroke="#222" stroke-width="0.18">10</text>
<text x="119.00" y="65.70" font-size="4.4" fill="#222" stroke="#222" stroke-width="0.12">2</text>
<line x1="122.4" y1="76.8" x2="125.2" y2="76.8" stroke="#333" stroke-width="0.6"/>
<text x="118.20" y="79.32" font-size="7.0" text-anchor="end" fill="#222" font-weight="normal" stroke="#222" stroke-width="0.18">0</text>
<line x1="123.8" y1="28.2" x2="125.2" y2="28.2" stroke="#555" stroke-width="0.4"/>
<line x1="123.8" y1="30.2" x2="125.2" y2="30.2" stroke="#555" stroke-width="0.4"/>
<line x1="123.8" y1="32.2" x2="125.2" y2="32.2" stroke="#555" stroke-width="0.4"/>
<line x1="123.8" y1="42.2" x2="125.2" y2="42.2" stroke="#555" stroke-width="0.4"/>
<line x1="123.8" y1="44.2" x2="125.2" y2="44.2" stroke="#555" stroke-width="0.4"/>
<line x1="123.8" y1="46.2" x2="125.2" y2="46.2" stroke="#555" stroke-width="0.4"/>
<line x1="123.8" y1="55.2" x2="125.2" y2="55.2" stroke="#555" stroke-width="0.4"/>
<line x1="123.8" y1="57.2" x2="125.2" y2="57.2" stroke="#555" stroke-width="0.4"/>
<line x1="123.8" y1="59.2" x2="125.2" y2="59.2" stroke="#555" stroke-width="0.4"/>
<line x1="123.8" y1="68.2" x2="125.2" y2="68.2" stroke="#555" stroke-width="0.4"/>
<line x1="123.8" y1="70.2" x2="125.2" y2="70.2" stroke="#555" stroke-width="0.4"/>
<line x1="123.8" y1="73.2" x2="125.2" y2="73.2" stroke="#555" stroke-width="0.4"/>
<line x1="130.8" y1="79.2" x2="130.8" y2="81.8" stroke="#333" stroke-width="0.6"/>
<line x1="151.5" y1="79.2" x2="151.5" y2="81.8" stroke="#333" stroke-width="0.6"/>
<line x1="165.4" y1="79.2" x2="165.4" y2="81.8" stroke="#333" stroke-width="0.6"/>
<line x1="178.7" y1="79.2" x2="178.7" y2="81.8" stroke="#333" stroke-width="0.6"/>
<line x1="139.2" y1="79.2" x2="139.2" y2="80.5" stroke="#555" stroke-width="0.4"/>
<line x1="142.2" y1="79.2" x2="142.2" y2="80.5" stroke="#555" stroke-width="0.4"/>
<line x1="144.2" y1="79.2" x2="144.2" y2="80.5" stroke="#555" stroke-width="0.4"/>
<line x1="146.2" y1="79.2" x2="146.2" y2="80.5" stroke="#555" stroke-width="0.4"/>
<line x1="148.2" y1="79.2" x2="148.2" y2="80.5" stroke="#555" stroke-width="0.4"/>
<line x1="154.2" y1="79.2" x2="154.2" y2="80.5" stroke="#555" stroke-width="0.4"/>
<line x1="156.2" y1="79.2" x2="156.2" y2="80.5" stroke="#555" stroke-width="0.4"/>
<line x1="158.2" y1="79.2" x2="158.2" y2="80.5" stroke="#555" stroke-width="0.4"/>
<line x1="160.2" y1="79.2" x2="160.2" y2="80.5" stroke="#555" stroke-width="0.4"/>
<line x1="162.2" y1="79.2" x2="162.2" y2="80.5" stroke="#555" stroke-width="0.4"/>
<line x1="168.2" y1="79.2" x2="168.2" y2="80.5" stroke="#555" stroke-width="0.4"/>
<line x1="170.2" y1="79.2" x2="170.2" y2="80.5" stroke="#555" stroke-width="0.4"/>
<line x1="172.2" y1="79.2" x2="172.2" y2="80.5" stroke="#555" stroke-width="0.4"/>
<line x1="174.2" y1="79.2" x2="174.2" y2="80.5" stroke="#555" stroke-width="0.4"/>
<line x1="176.2" y1="79.2" x2="176.2" y2="80.5" stroke="#555" stroke-width="0.4"/>
<text x="131.60" y="88.02" font-size="7.0" text-anchor="middle" fill="#222" font-weight="normal" stroke="#222" stroke-width="0.18">0</text>
<text x="154.40" y="90.01" font-size="7.0" text-anchor="end" fill="#222" stroke="#222" stroke-width="0.18">10</text>
<text x="155.20" y="87.70" font-size="4.4" fill="#222" stroke="#222" stroke-width="0.12">3</text>
<text x="167.70" y="90.01" font-size="7.0" text-anchor="end" fill="#222" stroke="#222" stroke-width="0.18">10</text>
<text x="168.50" y="87.70" font-size="4.4" fill="#222" stroke="#222" stroke-width="0.12">4</text>
<text x="182.10" y="90.01" font-size="7.0" text-anchor="end" fill="#222" stroke="#222" stroke-width="0.18">10</text>
<text x="182.90" y="87.70" font-size="4.4" fill="#222" stroke="#222" stroke-width="0.12">5</text>
<g fill="none" stroke-width="0.5">
<path d="M85.7,167.1 83.7,167.2 81.2,166.9 70.7,163.7 67.2,161.6 65.7,160.2 64.0,158.0 63.0,157.4 62.0,157.4 60.1,157.8 57.0,159.5 55.5,159.9 53.5,159.9 51.5,159.0 49.9,157.3 49.3,155.1 49.7,152.6 49.1,149.3 49.1,146.8 49.5,144.6 50.5,142.6 51.7,141.4 52.7,140.9 54.2,140.8 55.5,141.5 56.6,142.8 57.4,144.3 57.9,146.1 58.2,148.6 58.5,148.7 59.9,148.1 61.6,146.1 63.7,144.7 66.7,143.7 72.2,142.5 75.5,142.3 78.7,142.6 81.5,143.5 84.0,144.9 85.5,146.2 86.7,147.6 87.6,149.1 88.3,150.8 88.7,153.6 88.5,157.6 89.5,162.1 89.4,163.8 88.7,165.3 87.5,166.4 85.7,167.1M52.1,150.3 53.5,149.7 55.7,149.2 56.0,148.9 56.2,147.6 56.0,145.9 55.2,144.4 54.1,143.6 53.0,143.5 52.2,144.0 51.5,144.9 51.0,146.2 50.8,147.8 51.0,149.3 51.5,150.3 52.1,150.3" stroke="#b9b9b9"/>
<path d="M85.7,166.8 83.7,167.0 81.2,166.7 70.7,163.4 67.5,161.5 65.9,160.1 64.1,157.8 63.0,157.1 61.7,157.1 59.8,157.6 56.5,159.1 55.2,159.5 53.5,159.5 51.7,158.7 50.5,157.6 49.7,156.1 49.6,154.6 49.9,152.8 49.1,148.8 49.3,145.6 49.8,144.1 50.6,142.6 51.7,141.4 53.0,140.9 54.5,141.0 55.7,141.8 56.6,142.8 57.3,144.3 57.9,146.3 58.2,149.1 58.5,149.2 60.5,148.5 62.5,146.2 64.5,144.9 68.0,143.7 72.2,142.7 75.5,142.5 78.5,142.8 81.2,143.6 83.7,145.0 85.5,146.6 87.0,148.6 87.9,150.6 88.4,152.8 88.2,157.3 89.1,161.3 89.1,163.6 88.7,164.8 88.0,165.7 87.0,166.4 85.7,166.8M52.3,150.6 55.7,149.6 56.2,148.3 56.2,147.0 55.7,145.2 55.0,144.0 54.0,143.5 53.0,143.5 52.2,143.9 51.5,144.8 51.0,146.0 50.7,147.8 51.0,149.5 51.5,150.6 51.7,150.7 52.3,150.6" stroke="#acacac"/>
<path d="M85.7,166.6 83.5,166.8 81.0,166.4 70.7,163.1 67.5,161.2 66.0,159.8 64.3,157.6 63.0,156.8 61.7,156.7 59.5,157.3 55.0,159.1 53.5,159.1 52.0,158.5 50.9,157.6 50.1,156.1 49.9,154.8 50.1,153.1 49.1,148.8 49.3,145.8 50.3,143.1 51.5,141.7 52.7,141.0 54.2,141.0 55.5,141.6 56.5,142.8 57.4,144.6 57.8,146.3 58.0,149.1 58.2,149.6 60.0,149.3 61.4,148.8 63.2,146.4 65.2,145.1 68.2,144.0 71.5,143.1 74.7,142.8 77.7,142.9 80.7,143.7 83.2,145.0 85.1,146.6 86.5,148.3 87.5,150.3 88.1,152.6 88.0,157.1 88.9,161.3 88.9,163.3 88.6,164.3 88.0,165.3 87.0,166.1 85.7,166.6M52.0,151.1 55.5,150.0 56.0,149.5 56.2,148.8 56.2,146.6 55.7,145.0 55.0,144.0 54.0,143.4 53.2,143.4 52.2,143.8 51.5,144.7 51.0,145.9 50.7,147.8 51.0,149.7 51.5,150.7 52.0,151.1" stroke="#9f9f9f"/>
<path d="M84.2,166.6 82.2,166.5 80.0,166.0 70.5,162.7 67.7,161.0 66.2,159.6 64.5,157.3 62.7,156.3 61.5,156.3 59.2,156.9 55.0,158.7 53.5,158.7 52.0,158.1 51.1,157.3 50.4,156.1 50.2,155.1 50.3,153.3 49.2,149.3 49.4,145.8 49.8,144.3 50.5,142.8 52.0,141.4 53.2,140.9 54.5,141.1 55.7,141.9 56.6,143.1 57.3,144.6 57.8,146.8 58.0,149.9 58.2,150.1 60.7,149.7 62.0,149.3 62.5,148.8 64.0,146.6 66.0,145.2 68.7,144.1 71.7,143.4 75.0,143.0 78.0,143.3 81.0,144.1 83.5,145.5 85.8,147.8 87.4,150.8 87.8,153.3 87.7,157.3 88.7,162.1 88.5,163.8 87.6,165.3 86.2,166.2 84.2,166.6M52.3,151.3 55.5,150.4 56.2,149.1 56.3,147.3 56.0,145.5 55.1,144.1 53.9,143.3 53.0,143.4 52.0,144.0 51.2,145.1 50.7,146.8 50.7,148.8 51.0,149.9 51.5,150.9 52.0,151.3 52.3,151.3" stroke="#929292"/>
<path d="M84.2,166.3 82.0,166.2 79.7,165.7 70.5,162.4 67.4,160.3 64.2,156.6 62.0,155.2 61.2,155.4 55.0,158.2 53.5,158.3 52.0,157.6 50.8,156.1 50.6,153.6 49.6,150.8 49.3,149.3 49.4,146.1 49.8,144.3 50.6,142.8 51.7,141.6 53.2,141.0 54.5,141.2 55.8,142.1 56.6,143.1 57.4,144.8 57.8,147.3 57.8,150.3 58.0,150.7 58.2,150.7 60.5,150.5 62.0,150.1 63.0,149.3 64.3,147.1 65.7,145.8 68.2,144.7 71.7,143.7 75.0,143.3 78.0,143.6 80.7,144.4 83.2,145.8 85.6,148.1 87.0,150.8 87.4,153.1 87.5,157.1 88.5,161.8 88.3,163.6 87.5,165.0 86.0,165.9 84.2,166.3M52.5,151.6 55.5,150.7 56.0,150.0 56.3,148.8 56.2,146.3 55.7,144.8 54.9,143.8 53.7,143.2 52.9,143.3 52.0,143.9 51.2,145.0 50.7,146.6 50.6,148.6 51.0,150.1 51.7,151.3 52.5,151.6" stroke="#868686"/>
<path d="M55.0,157.8 54.0,157.9 53.0,157.7 51.4,156.6 51.0,155.6 50.8,153.8 49.8,151.3 49.3,149.1 49.3,146.6 50.1,143.8 51.5,141.9 52.2,141.4 53.2,141.1 54.2,141.2 55.2,141.6 56.8,143.6 57.6,146.3 57.7,151.6 58.9,152.3 59.4,153.6 59.3,154.8 58.8,155.6 56.5,157.1 55.0,157.8M52.8,151.8 55.0,151.3 55.5,150.9 56.2,149.6 56.4,148.3 56.2,146.1 55.7,144.7 54.7,143.6 53.7,143.1 52.7,143.3 51.7,144.1 51.0,145.5 50.6,147.1 50.7,149.3 51.2,150.8 52.0,151.6 52.8,151.8M84.0,166.1 80.5,165.7 73.7,163.4 70.0,161.7 67.5,159.8 63.4,155.1 62.3,152.3 62.5,151.1 65.2,146.8 67.0,145.6 69.5,144.6 72.5,143.9 75.5,143.7 78.0,144.0 80.5,144.7 82.6,145.8 84.4,147.3 85.9,149.3 86.8,151.6 87.1,156.6 88.2,162.1 87.9,163.6 87.1,164.8 85.7,165.7 84.0,166.1" stroke="#797979"/>
<path d="M55.0,157.4 53.2,157.4 52.5,157.0 51.7,156.3 51.1,154.1 49.8,151.3 49.3,149.1 49.5,145.8 50.3,143.6 51.7,141.8 53.2,141.2 54.7,141.4 56.1,142.6 57.1,144.3 57.6,146.6 57.6,149.6 57.2,152.3 57.8,153.8 57.9,154.8 57.5,155.6 56.8,156.3 55.0,157.4M53.0,152.1 54.7,151.7 55.5,151.1 56.2,149.8 56.5,148.6 56.5,147.0 56.0,145.1 55.0,143.6 53.7,143.0 52.5,143.3 51.5,144.3 50.7,146.1 50.5,147.3 50.7,149.6 51.2,150.9 52.0,151.8 53.0,152.1M83.2,165.8 79.5,165.2 73.5,163.0 70.0,161.2 67.5,159.1 64.2,155.1 63.4,152.6 63.6,150.8 64.8,148.1 65.9,146.8 67.7,145.6 70.0,144.9 73.2,144.2 76.0,144.2 78.2,144.5 80.5,145.2 82.5,146.3 84.1,147.8 85.4,149.6 86.2,151.6 86.7,156.0 87.7,160.6 87.9,162.1 87.5,163.6 86.6,164.8 85.2,165.5 83.2,165.8" stroke="#6c6c6c"/>
<path d="M54.2,157.1 53.0,156.8 52.0,155.8 51.5,154.3 49.8,151.1 49.4,148.3 49.6,145.8 50.4,143.6 51.7,141.9 52.5,141.5 53.5,141.2 55.0,141.7 56.3,143.1 57.3,145.3 57.6,147.3 57.6,149.8 56.7,153.1 56.9,155.1 56.0,156.3 54.2,157.1M54.4,152.1 55.5,151.3 56.2,150.0 56.5,148.6 56.5,146.6 56.0,144.9 55.2,143.8 54.2,143.1 53.2,143.0 52.0,143.6 51.2,144.6 50.6,146.3 50.5,148.6 51.0,150.6 51.7,151.7 52.7,152.3 54.4,152.1M84.7,165.3 83.2,165.5 81.5,165.4 76.5,163.9 72.0,161.9 68.7,159.6 65.2,155.3 64.3,153.3 64.2,152.1 64.3,150.8 65.1,148.6 66.0,147.3 67.5,146.2 69.5,145.4 72.5,144.8 75.2,144.7 77.5,144.9 79.6,145.6 81.6,146.6 83.1,147.8 84.5,149.4 85.4,151.3 87.5,161.1 87.4,162.6 86.9,163.8 86.0,164.8 84.7,165.3" stroke="#606060"/>
<path d="M55.0,156.3 53.7,156.5 52.6,155.8 50.3,152.1 49.5,149.3 49.5,146.3 50.3,143.8 51.7,142.0 53.2,141.4 54.7,141.6 56.1,142.8 57.0,144.6 57.5,146.8 57.6,148.8 57.3,150.8 56.2,153.7 56.0,155.3 55.0,156.3M54.3,152.3 55.5,151.5 56.2,150.2 56.6,148.6 56.5,146.8 56.2,145.4 55.5,144.0 54.4,143.1 53.2,142.9 52.0,143.5 51.0,145.0 50.4,146.8 50.4,148.8 51.0,150.8 51.7,151.9 53.0,152.5 54.3,152.3M84.0,165.1 80.7,164.9 76.0,163.5 72.2,161.6 69.2,159.3 65.9,155.1 65.0,153.1 64.8,151.6 65.0,150.3 65.7,148.6 66.5,147.5 68.0,146.5 69.7,145.8 72.2,145.5 74.7,145.4 77.0,145.7 79.0,146.4 80.8,147.3 82.3,148.6 83.5,150.1 84.5,151.8 86.3,157.1 87.1,160.8 87.0,162.6 86.5,163.7 85.5,164.6 84.0,165.1" stroke="#535353"/>
<path d="M54.2,155.8 53.2,155.5 50.8,152.8 49.9,150.8 49.5,148.6 49.7,146.1 50.5,143.6 52.0,142.0 53.5,141.5 55.0,141.9 56.3,143.3 57.1,145.1 57.5,147.6 57.3,150.1 56.9,151.8 55.1,155.3 54.2,155.8M54.1,152.6 55.2,151.9 56.0,151.0 56.5,149.3 56.7,147.3 56.3,145.6 55.7,144.2 54.7,143.1 53.5,142.7 52.2,143.2 51.1,144.6 50.4,146.6 50.3,148.6 50.7,150.3 51.7,152.0 52.7,152.6 54.1,152.6M84.2,164.6 83.0,164.8 81.2,164.7 77.0,163.6 73.2,161.9 70.1,159.6 68.6,157.8 66.8,155.3 65.7,153.1 65.5,151.8 65.6,150.3 66.2,148.8 66.9,147.8 68.2,146.9 70.0,146.3 72.0,146.1 74.2,146.3 76.2,146.9 78.0,147.7 80.2,149.2 82.0,150.7 83.7,152.7 85.0,154.8 86.0,157.3 86.6,159.6 86.7,161.3 86.4,162.8 85.5,163.9 84.2,164.6" stroke="#464646"/>
<path d="M54.2,154.9 53.5,154.9 52.7,154.6 51.1,153.1 50.1,151.1 49.6,148.6 49.8,145.8 50.7,143.6 52.0,142.1 53.5,141.6 55.0,142.0 56.2,143.3 57.0,145.1 57.4,147.6 57.2,150.1 56.6,152.1 55.5,153.9 54.2,154.9M53.8,152.8 55.0,152.3 56.0,151.2 56.6,149.6 56.8,147.6 56.5,145.8 55.8,144.1 54.7,143.0 53.5,142.6 52.2,143.0 51.1,144.3 50.4,146.1 50.2,148.1 50.6,150.3 51.4,151.8 52.5,152.7 53.8,152.8M83.7,164.1 80.7,164.2 77.0,163.3 73.5,161.6 70.7,159.6 68.3,156.6 66.3,153.1 66.1,151.8 66.2,150.6 66.6,149.3 67.2,148.3 68.5,147.4 70.0,146.9 71.7,146.7 73.7,147.0 75.7,147.7 78.0,148.9 82.2,152.1 83.8,153.8 84.9,155.6 85.6,157.3 86.1,159.3 86.1,161.1 85.7,162.5 85.0,163.4 83.7,164.1M80.6,159.8 80.8,159.3 80.5,158.4 79.7,157.6 79.0,157.7 78.7,158.3 78.9,159.1 79.7,159.7 80.6,159.8" stroke="#3a3a3a"/>
<path d="M54.0,154.6 52.5,154.2 51.0,152.6 50.0,150.1 49.7,148.2 50.0,145.7 50.7,143.8 52.0,142.3 53.5,141.8 55.0,142.2 56.2,143.6 57.0,145.3 57.3,147.6 57.2,149.6 56.5,152.1 55.2,153.9 54.0,154.6M54.4,152.8 55.5,152.1 56.3,150.8 56.8,149.1 56.8,146.8 56.3,144.8 55.6,143.6 54.5,142.6 53.2,142.4 52.0,143.0 50.8,144.6 50.1,146.8 50.1,148.8 50.6,150.8 51.6,152.3 53.0,153.0 54.4,152.8M82.2,163.3 79.7,163.5 76.5,162.7 73.5,161.2 70.8,159.1 68.5,156.1 67.0,153.1 66.8,151.8 66.9,150.6 67.2,149.6 67.9,148.6 69.2,147.7 70.7,147.4 72.5,147.5 74.2,147.9 78.5,149.9 82.5,153.1 83.7,154.6 84.7,156.2 85.3,157.8 85.5,159.3 85.2,160.8 84.7,161.7 83.4,162.8 82.2,163.3M82.8,161.8 83.1,161.3 83.2,160.8 82.6,159.1 81.0,156.6 79.2,154.6 77.3,153.3 75.5,152.5 73.7,152.5 72.6,153.1 72.3,154.1 72.7,155.3 73.7,156.6 76.2,158.8 78.1,160.3 80.0,161.4 81.7,161.9 82.8,161.8" stroke="#2d2d2d"/>
<path d="M78.5,162.4 76.7,162.3 74.0,161.0 71.8,159.3 69.9,157.1 68.2,154.1 67.6,152.1 67.9,150.1 69.0,148.8 70.2,148.2 71.7,148.1 73.5,148.4 75.5,149.1 77.9,150.3 80.1,151.8 82.0,153.4 83.3,155.1 84.3,157.1 84.4,158.1 84.2,158.5 83.5,158.2 79.7,154.1 77.0,152.3 75.2,151.6 73.7,151.4 72.5,151.6 71.5,152.3 71.1,153.8 71.8,155.6 73.4,157.3 78.2,161.6 78.6,162.1 78.5,162.4M56.7,151.0 56.5,150.8 56.7,150.3 56.7,151.0M53.7,154.3 52.2,153.8 51.1,152.3 52.7,153.1 54.2,153.1 55.5,152.3 56.5,150.9 56.7,151.1 56.5,151.7 55.5,153.3 54.7,154.0 53.7,154.3M51.0,152.1 51.0,152.1" stroke="#202020"/>
<path d="M71.5,149.8 71.2,149.8 71.5,149.8M54.2,153.9 53.5,154.0 52.7,153.6 55.0,153.2 54.8,153.6 54.2,153.9M75.2,160.7 74.1,160.3 72.8,159.3 71.7,158.1 71.2,157.0 72.0,157.3 74.3,159.3 75.2,160.3 75.2,160.7" stroke="#141414"/>
</g>
<line x1="61.800000000000004" y1="126.3" x2="61.800000000000004" y2="185.3" stroke="#555" stroke-width="0.9"/>
<line x1="46.2" y1="153.3" x2="105.2" y2="153.3" stroke="#555" stroke-width="0.9"/>
<rect x="46.2" y="126.3" width="59" height="59" fill="none" stroke="#1a1a1a" stroke-width="1.1"/>
<text x="47.30" y="136.03" font-size="8.0" text-anchor="start" fill="#d2283f" font-weight="normal" textLength="14.8" lengthAdjust="spacingAndGlyphs" stroke="#d2283f" stroke-width="0.2">29.8</text>
<text x="99.40" y="136.03" font-size="8.0" text-anchor="end" fill="#d2283f" font-weight="normal" textLength="14.8" lengthAdjust="spacingAndGlyphs" stroke="#d2283f" stroke-width="0.2">27.5</text>
<text x="47.30" y="180.48" font-size="8.0" text-anchor="start" fill="#d2283f" font-weight="normal" textLength="14.8" lengthAdjust="spacingAndGlyphs" stroke="#d2283f" stroke-width="0.2">11.4</text>
<text x="99.40" y="180.48" font-size="8.0" text-anchor="end" fill="#d2283f" font-weight="normal" textLength="14.8" lengthAdjust="spacingAndGlyphs" stroke="#d2283f" stroke-width="0.2">31.2</text>
<line x1="43.400000000000006" y1="131.6" x2="46.2" y2="131.6" stroke="#333" stroke-width="0.6"/>
<text x="39.20" y="134.11" font-size="7.0" text-anchor="end" fill="#222" stroke="#222" stroke-width="0.18">10</text>
<text x="40.00" y="131.80" font-size="4.4" fill="#222" stroke="#222" stroke-width="0.12">5</text>
<line x1="43.400000000000006" y1="145.3" x2="46.2" y2="145.3" stroke="#333" stroke-width="0.6"/>
<text x="39.20" y="147.81" font-size="7.0" text-anchor="end" fill="#222" stroke="#222" stroke-width="0.18">10</text>
<text x="40.00" y="145.50" font-size="4.4" fill="#222" stroke="#222" stroke-width="0.12">4</text>
<line x1="43.400000000000006" y1="158.3" x2="46.2" y2="158.3" stroke="#333" stroke-width="0.6"/>
<text x="39.20" y="160.81" font-size="7.0" text-anchor="end" fill="#222" stroke="#222" stroke-width="0.18">10</text>
<text x="40.00" y="158.50" font-size="4.4" fill="#222" stroke="#222" stroke-width="0.12">3</text>
<line x1="43.400000000000006" y1="171.6" x2="46.2" y2="171.6" stroke="#333" stroke-width="0.6"/>
<text x="39.20" y="174.11" font-size="7.0" text-anchor="end" fill="#222" stroke="#222" stroke-width="0.18">10</text>
<text x="40.00" y="171.80" font-size="4.4" fill="#222" stroke="#222" stroke-width="0.12">2</text>
<line x1="43.400000000000006" y1="182.9" x2="46.2" y2="182.9" stroke="#333" stroke-width="0.6"/>
<text x="39.20" y="185.42" font-size="7.0" text-anchor="end" fill="#222" font-weight="normal" stroke="#222" stroke-width="0.18">0</text>
<line x1="44.800000000000004" y1="134.3" x2="46.2" y2="134.3" stroke="#555" stroke-width="0.4"/>
<line x1="44.800000000000004" y1="136.3" x2="46.2" y2="136.3" stroke="#555" stroke-width="0.4"/>
<line x1="44.800000000000004" y1="138.3" x2="46.2" y2="138.3" stroke="#555" stroke-width="0.4"/>
<line x1="44.800000000000004" y1="148.3" x2="46.2" y2="148.3" stroke="#555" stroke-width="0.4"/>
<line x1="44.800000000000004" y1="150.3" x2="46.2" y2="150.3" stroke="#555" stroke-width="0.4"/>
<line x1="44.800000000000004" y1="152.3" x2="46.2" y2="152.3" stroke="#555" stroke-width="0.4"/>
<line x1="44.800000000000004" y1="161.3" x2="46.2" y2="161.3" stroke="#555" stroke-width="0.4"/>
<line x1="44.800000000000004" y1="163.3" x2="46.2" y2="163.3" stroke="#555" stroke-width="0.4"/>
<line x1="44.800000000000004" y1="165.3" x2="46.2" y2="165.3" stroke="#555" stroke-width="0.4"/>
<line x1="44.800000000000004" y1="174.3" x2="46.2" y2="174.3" stroke="#555" stroke-width="0.4"/>
<line x1="44.800000000000004" y1="176.3" x2="46.2" y2="176.3" stroke="#555" stroke-width="0.4"/>
<line x1="44.800000000000004" y1="179.3" x2="46.2" y2="179.3" stroke="#555" stroke-width="0.4"/>
<line x1="51.800000000000004" y1="185.3" x2="51.800000000000004" y2="187.9" stroke="#333" stroke-width="0.6"/>
<line x1="72.5" y1="185.3" x2="72.5" y2="187.9" stroke="#333" stroke-width="0.6"/>
<line x1="86.4" y1="185.3" x2="86.4" y2="187.9" stroke="#333" stroke-width="0.6"/>
<line x1="99.7" y1="185.3" x2="99.7" y2="187.9" stroke="#333" stroke-width="0.6"/>
<line x1="60.2" y1="185.3" x2="60.2" y2="186.60000000000002" stroke="#555" stroke-width="0.4"/>
<line x1="63.2" y1="185.3" x2="63.2" y2="186.60000000000002" stroke="#555" stroke-width="0.4"/>
<line x1="65.2" y1="185.3" x2="65.2" y2="186.60000000000002" stroke="#555" stroke-width="0.4"/>
<line x1="67.2" y1="185.3" x2="67.2" y2="186.60000000000002" stroke="#555" stroke-width="0.4"/>
<line x1="69.2" y1="185.3" x2="69.2" y2="186.60000000000002" stroke="#555" stroke-width="0.4"/>
<line x1="75.2" y1="185.3" x2="75.2" y2="186.60000000000002" stroke="#555" stroke-width="0.4"/>
<line x1="77.2" y1="185.3" x2="77.2" y2="186.60000000000002" stroke="#555" stroke-width="0.4"/>
<line x1="79.2" y1="185.3" x2="79.2" y2="186.60000000000002" stroke="#555" stroke-width="0.4"/>
<line x1="81.2" y1="185.3" x2="81.2" y2="186.60000000000002" stroke="#555" stroke-width="0.4"/>
<line x1="83.2" y1="185.3" x2="83.2" y2="186.60000000000002" stroke="#555" stroke-width="0.4"/>
<line x1="89.2" y1="185.3" x2="89.2" y2="186.60000000000002" stroke="#555" stroke-width="0.4"/>
<line x1="91.2" y1="185.3" x2="91.2" y2="186.60000000000002" stroke="#555" stroke-width="0.4"/>
<line x1="93.2" y1="185.3" x2="93.2" y2="186.60000000000002" stroke="#555" stroke-width="0.4"/>
<line x1="95.2" y1="185.3" x2="95.2" y2="186.60000000000002" stroke="#555" stroke-width="0.4"/>
<line x1="97.2" y1="185.3" x2="97.2" y2="186.60000000000002" stroke="#555" stroke-width="0.4"/>
<text x="52.60" y="194.12" font-size="7.0" text-anchor="middle" fill="#222" font-weight="normal" stroke="#222" stroke-width="0.18">0</text>
<text x="75.40" y="196.11" font-size="7.0" text-anchor="end" fill="#222" stroke="#222" stroke-width="0.18">10</text>
<text x="76.20" y="193.80" font-size="4.4" fill="#222" stroke="#222" stroke-width="0.12">3</text>
<text x="88.70" y="196.11" font-size="7.0" text-anchor="end" fill="#222" stroke="#222" stroke-width="0.18">10</text>
<text x="89.50" y="193.80" font-size="4.4" fill="#222" stroke="#222" stroke-width="0.12">4</text>
<text x="103.10" y="196.11" font-size="7.0" text-anchor="end" fill="#222" stroke="#222" stroke-width="0.18">10</text>
<text x="103.90" y="193.80" font-size="4.4" fill="#222" stroke="#222" stroke-width="0.12">5</text>
<g fill="none" stroke-width="0.5">
<path d="M125.2,143.6 127.0,141.8 128.9,140.7 131.2,140.1 133.9,140.1 136.7,140.9 140.0,142.8 141.4,143.3 150.9,142.6 153.9,142.7 157.2,143.4 159.7,144.4 161.4,145.6 162.6,147.1 163.0,148.6 162.6,150.1 161.6,151.3 157.0,154.3 157.1,155.1 158.7,156.8 159.3,157.8 159.4,158.8 158.7,159.6 156.9,159.9 154.2,159.4 150.9,158.1 146.1,155.1 143.7,154.5 141.4,154.6 140.4,155.1 139.7,156.1 138.5,161.3 137.1,164.3 135.2,166.4 133.2,167.3 131.7,167.2 130.2,166.6 128.9,165.6 127.7,164.1 126.3,160.6 125.2,154.3" stroke="#b9b9b9"/>
<path d="M125.2,143.9 126.7,142.2 128.9,140.9 131.4,140.2 133.7,140.2 136.4,141.0 140.2,143.2 141.3,143.6 150.7,142.7 153.9,142.9 156.7,143.5 159.2,144.4 161.0,145.6 162.3,147.1 162.7,148.6 162.2,150.1 161.2,151.3 157.0,153.8 156.5,154.3 156.6,155.1 158.6,157.6 158.7,158.6 158.2,159.1 156.7,159.5 154.2,159.1 151.2,157.9 147.7,155.6 146.2,154.8 143.4,154.2 141.2,154.3 140.2,154.9 139.5,156.1 138.3,161.1 136.9,164.1 135.2,166.0 133.9,166.7 132.9,166.9 131.7,166.9 130.2,166.2 128.9,165.2 127.9,163.8 126.5,160.6 125.8,155.6 125.2,153.8" stroke="#b1b1b1"/>
<path d="M125.2,144.2 126.7,142.5 128.7,141.2 131.2,140.4 133.7,140.4 136.4,141.2 140.0,143.3 141.2,143.8 150.7,142.9 153.9,143.1 156.7,143.7 159.2,144.6 160.9,145.8 161.9,147.1 162.3,148.6 162.0,149.8 160.9,151.2 159.4,152.2 156.5,153.8 156.0,154.3 156.0,155.1 157.3,156.6 157.9,157.6 157.8,158.3 156.9,158.9 154.9,158.9 152.7,158.2 150.7,157.2 148.0,155.3 145.5,154.3 142.2,153.8 140.5,154.3 139.7,155.1 139.2,156.0 138.1,160.8 136.9,163.6 134.9,165.7 132.9,166.5 131.4,166.4 130.2,165.8 128.9,164.7 128.0,163.3 126.8,160.6 126.0,155.6 125.2,153.4" stroke="#a9a9a9"/>
<path d="M125.2,144.5 126.7,142.7 128.7,141.4 130.9,140.6 133.4,140.6 136.4,141.4 140.2,143.7 141.2,144.1 150.2,143.1 153.2,143.2 156.2,143.7 158.7,144.7 160.5,145.8 161.5,147.1 161.9,148.6 161.5,150.1 160.4,151.2 158.9,152.2 156.3,153.6 155.3,154.3 155.3,155.1 156.9,157.3 156.7,158.0 156.1,158.3 154.7,158.3 152.9,157.8 151.3,157.1 148.3,155.1 145.6,154.1 142.2,153.5 140.4,154.0 139.7,154.6 139.0,155.8 137.9,160.6 136.7,163.3 134.9,165.2 132.9,166.1 131.7,166.0 130.4,165.5 129.2,164.5 128.2,163.1 127.1,160.6 126.2,155.6 125.2,152.9" stroke="#a2a2a2"/>
<path d="M125.2,144.9 126.6,143.1 128.4,141.7 130.7,140.9 133.4,140.7 136.4,141.6 140.2,144.0 141.2,144.4 150.2,143.3 153.2,143.4 156.2,144.0 158.4,144.8 160.2,146.0 161.2,147.3 161.5,148.6 161.0,150.1 159.9,151.2 154.6,154.3 154.4,155.1 155.6,156.8 155.5,157.3 154.9,157.5 152.7,157.1 149.3,155.1 145.7,153.8 142.2,153.2 140.4,153.6 139.4,154.5 138.7,155.8 137.6,160.6 136.4,163.0 134.8,164.8 132.9,165.6 131.7,165.5 130.4,165.0 129.3,164.1 128.4,162.8 127.3,160.3 126.5,155.6 125.2,152.4" stroke="#9a9a9a"/>
<path d="M125.2,145.4 126.5,143.5 128.4,141.9 130.7,141.1 133.2,140.9 136.2,141.7 140.2,144.3 141.2,144.7 150.2,143.5 153.2,143.7 155.9,144.2 158.2,145.1 159.7,146.1 160.7,147.3 161.0,148.6 160.7,149.8 159.6,151.1 158.0,152.1 154.3,153.8 152.4,155.4 143.7,153.1 141.7,152.9 140.4,153.2 139.4,154.1 138.5,155.6 137.3,160.3 136.2,162.7 134.4,164.5 132.7,165.1 131.4,164.9 130.4,164.4 129.4,163.5 128.6,162.3 127.5,159.8 126.6,155.3 125.2,151.9" stroke="#929292"/>
<path d="M125.2,146.0 126.5,143.8 128.4,142.2 130.7,141.3 133.2,141.1 136.2,142.0 140.0,144.6 141.2,145.0 149.9,143.8 152.7,143.9 155.4,144.4 157.4,145.1 159.0,146.1 160.1,147.3 160.4,148.6 159.9,150.1 158.6,151.3 156.7,152.3 151.9,154.2 149.9,154.2 142.4,152.5 141.4,152.5 140.4,152.8 139.2,153.9 138.2,155.6 137.0,160.1 135.9,162.3 134.4,163.8 132.7,164.5 131.7,164.4 130.5,163.8 128.8,161.8 127.9,159.6 127.0,155.6 125.2,151.3" stroke="#8b8b8b"/>
<path d="M125.2,146.8 126.2,144.6 128.0,142.8 130.2,141.7 132.9,141.4 134.7,141.7 136.2,142.2 139.9,144.9 141.2,145.4 149.7,144.2 152.7,144.3 155.2,144.7 156.9,145.3 158.5,146.3 159.4,147.3 159.7,148.6 159.2,150.1 157.7,151.3 154.9,152.5 151.7,153.6 149.2,153.6 142.2,152.1 140.4,152.4 139.2,153.5 137.9,155.3 136.5,160.1 135.6,161.8 134.2,163.2 132.7,163.8 131.7,163.7 130.7,163.2 129.1,161.3 128.3,159.6 127.5,155.8 125.2,150.4" stroke="#838383"/>
<path d="M133.2,162.8 132.2,162.9 131.2,162.6 129.7,161.1 128.9,159.6 127.9,156.1 126.1,152.3 125.5,150.3 125.3,148.1 125.7,146.1 126.7,144.3 128.4,142.8 130.9,141.8 133.7,141.7 136.4,142.7 139.9,145.3 141.2,145.8 142.4,145.8 148.4,144.8 152.2,144.7 156.0,145.6 157.4,146.3 158.4,147.3 158.8,148.8 157.9,150.3 155.9,151.6 152.4,152.8 149.4,153.1 142.2,151.7 141.2,151.7 140.4,152.0 138.9,153.3 137.4,155.6 136.0,159.8 135.2,161.3 134.2,162.3 133.2,162.8" stroke="#7b7b7b"/>
<path d="M133.2,161.6 131.7,161.6 130.2,160.3 128.6,156.3 126.5,152.3 125.8,150.3 125.6,148.1 126.1,146.1 127.1,144.3 128.7,143.0 131.2,142.0 133.7,142.0 136.4,143.0 139.9,145.7 141.2,146.4 142.2,146.4 147.9,145.5 151.7,145.4 154.9,146.1 156.3,146.8 157.0,147.6 157.3,148.8 156.5,150.1 154.9,151.1 151.4,152.3 147.9,152.5 145.7,152.1 141.9,151.1 140.4,151.4 138.9,152.8 137.0,155.6 134.7,160.4 133.2,161.6" stroke="#747474"/>
<path d="M132.9,159.7 131.9,159.6 130.9,158.8 127.6,153.8 126.1,150.3 125.9,148.1 126.4,146.1 127.6,144.3 129.2,143.1 131.7,142.3 134.2,142.5 136.7,143.6 140.2,146.5 141.4,147.2 142.4,147.2 146.2,146.5 148.7,146.5 151.2,147.2 152.7,148.6 152.9,149.6 152.4,150.6 151.2,151.5 149.7,151.9 147.9,152.1 145.9,151.8 141.9,150.4 140.7,150.6 138.7,152.6 133.9,158.9 132.9,159.7" stroke="#6c6c6c"/>
<path d="M133.4,156.8 131.2,156.7 130.2,156.2 129.2,155.3 127.3,152.6 126.4,149.6 126.5,147.1 127.5,145.1 129.2,143.5 131.4,142.7 133.9,142.8 136.3,143.8 139.0,146.1 140.3,147.6 140.9,148.6 140.6,149.6 136.4,154.8 134.9,156.1 133.4,156.8M150.2,150.8 149.7,150.8 150.6,150.1 150.8,149.3 150.3,148.6 149.4,148.1 147.7,148.0 146.2,148.5 145.5,149.3 145.5,150.8 145.2,150.9 143.9,150.6 143.2,150.1 142.6,149.3 142.6,148.8 143.3,148.1 144.9,147.4 146.7,147.1 148.5,147.3 150.2,148.1 150.9,149.0 151.0,150.1 150.2,150.8M149.7,151.1 149.4,151.1 149.7,151.1" stroke="#646464"/>
<path d="M133.4,155.8 131.2,155.7 129.4,154.8 128.0,152.8 127.0,150.1 126.9,147.6 127.7,145.6 129.2,144.0 131.2,143.2 133.7,143.3 136.1,144.3 138.7,146.6 139.4,147.6 139.7,148.6 139.7,149.3 139.2,150.3 136.7,153.8 135.2,155.2 133.4,155.8" stroke="#5d5d5d"/>
<path d="M133.4,155.1 131.2,155.0 129.7,154.1 128.4,152.6 127.6,150.1 127.5,147.8 128.0,146.1 129.4,144.6 131.2,143.8 133.4,143.9 135.7,144.8 137.8,146.6 138.8,148.3 138.5,150.1 136.8,152.8 135.2,154.4 133.4,155.1" stroke="#555555"/>
<path d="M133.9,154.1 132.2,154.3 130.7,153.9 129.5,152.8 128.7,151.3 128.2,149.1 128.4,147.1 129.3,145.6 130.7,144.7 132.4,144.5 134.4,145.2 136.7,146.8 137.7,148.3 137.7,149.8 136.7,151.8 135.4,153.2 133.9,154.1" stroke="#4d4d4d"/>
<path d="M133.2,153.1 131.9,153.0 130.9,152.6 130.2,151.8 129.7,150.6 129.3,148.6 129.4,147.3 130.0,146.3 130.9,145.7 131.9,145.6 133.2,146.1 135.3,147.8 136.1,149.1 136.1,150.3 135.4,151.6 134.4,152.6 133.2,153.1" stroke="#464646"/>
</g>
<line x1="140.8" y1="126.3" x2="140.8" y2="185.3" stroke="#555" stroke-width="0.9"/>
<line x1="125.2" y1="153.3" x2="184.2" y2="153.3" stroke="#555" stroke-width="0.9"/>
<rect x="125.2" y="126.3" width="59" height="59" fill="none" stroke="#1a1a1a" stroke-width="1.1"/>
<text x="126.30" y="136.03" font-size="8.0" text-anchor="start" fill="#d2283f" font-weight="normal" textLength="14.8" lengthAdjust="spacingAndGlyphs" stroke="#d2283f" stroke-width="0.2">59.9</text>
<text x="178.40" y="136.03" font-size="8.0" text-anchor="end" fill="#d2283f" font-weight="normal" textLength="14.8" lengthAdjust="spacingAndGlyphs" stroke="#d2283f" stroke-width="0.2">17.5</text>
<text x="126.30" y="180.48" font-size="8.0" text-anchor="start" fill="#d2283f" font-weight="normal" textLength="14.8" lengthAdjust="spacingAndGlyphs" stroke="#d2283f" stroke-width="0.2">16.5</text>
<text x="178.40" y="180.48" font-size="8.0" text-anchor="end" fill="#d2283f" font-weight="normal" textLength="14.8" lengthAdjust="spacingAndGlyphs" stroke="#d2283f" stroke-width="0.2">6.15</text>
<line x1="122.4" y1="131.6" x2="125.2" y2="131.6" stroke="#333" stroke-width="0.6"/>
<text x="118.20" y="134.11" font-size="7.0" text-anchor="end" fill="#222" stroke="#222" stroke-width="0.18">10</text>
<text x="119.00" y="131.80" font-size="4.4" fill="#222" stroke="#222" stroke-width="0.12">5</text>
<line x1="122.4" y1="145.3" x2="125.2" y2="145.3" stroke="#333" stroke-width="0.6"/>
<text x="118.20" y="147.81" font-size="7.0" text-anchor="end" fill="#222" stroke="#222" stroke-width="0.18">10</text>
<text x="119.00" y="145.50" font-size="4.4" fill="#222" stroke="#222" stroke-width="0.12">4</text>
<line x1="122.4" y1="158.3" x2="125.2" y2="158.3" stroke="#333" stroke-width="0.6"/>
<text x="118.20" y="160.81" font-size="7.0" text-anchor="end" fill="#222" stroke="#222" stroke-width="0.18">10</text>
<text x="119.00" y="158.50" font-size="4.4" fill="#222" stroke="#222" stroke-width="0.12">3</text>
<line x1="122.4" y1="171.6" x2="125.2" y2="171.6" stroke="#333" stroke-width="0.6"/>
<text x="118.20" y="174.11" font-size="7.0" text-anchor="end" fill="#222" stroke="#222" stroke-width="0.18">10</text>
<text x="119.00" y="171.80" font-size="4.4" fill="#222" stroke="#222" stroke-width="0.12">2</text>
<line x1="122.4" y1="182.9" x2="125.2" y2="182.9" stroke="#333" stroke-width="0.6"/>
<text x="118.20" y="185.42" font-size="7.0" text-anchor="end" fill="#222" font-weight="normal" stroke="#222" stroke-width="0.18">0</text>
<line x1="123.8" y1="134.3" x2="125.2" y2="134.3" stroke="#555" stroke-width="0.4"/>
<line x1="123.8" y1="136.3" x2="125.2" y2="136.3" stroke="#555" stroke-width="0.4"/>
<line x1="123.8" y1="138.3" x2="125.2" y2="138.3" stroke="#555" stroke-width="0.4"/>
<line x1="123.8" y1="148.3" x2="125.2" y2="148.3" stroke="#555" stroke-width="0.4"/>
<line x1="123.8" y1="150.3" x2="125.2" y2="150.3" stroke="#555" stroke-width="0.4"/>
<line x1="123.8" y1="152.3" x2="125.2" y2="152.3" stroke="#555" stroke-width="0.4"/>
<line x1="123.8" y1="161.3" x2="125.2" y2="161.3" stroke="#555" stroke-width="0.4"/>
<line x1="123.8" y1="163.3" x2="125.2" y2="163.3" stroke="#555" stroke-width="0.4"/>
<line x1="123.8" y1="165.3" x2="125.2" y2="165.3" stroke="#555" stroke-width="0.4"/>
<line x1="123.8" y1="174.3" x2="125.2" y2="174.3" stroke="#555" stroke-width="0.4"/>
<line x1="123.8" y1="176.3" x2="125.2" y2="176.3" stroke="#555" stroke-width="0.4"/>
<line x1="123.8" y1="179.3" x2="125.2" y2="179.3" stroke="#555" stroke-width="0.4"/>
<line x1="130.8" y1="185.3" x2="130.8" y2="187.9" stroke="#333" stroke-width="0.6"/>
<line x1="151.5" y1="185.3" x2="151.5" y2="187.9" stroke="#333" stroke-width="0.6"/>
<line x1="165.4" y1="185.3" x2="165.4" y2="187.9" stroke="#333" stroke-width="0.6"/>
<line x1="178.7" y1="185.3" x2="178.7" y2="187.9" stroke="#333" stroke-width="0.6"/>
<line x1="139.2" y1="185.3" x2="139.2" y2="186.60000000000002" stroke="#555" stroke-width="0.4"/>
<line x1="142.2" y1="185.3" x2="142.2" y2="186.60000000000002" stroke="#555" stroke-width="0.4"/>
<line x1="144.2" y1="185.3" x2="144.2" y2="186.60000000000002" stroke="#555" stroke-width="0.4"/>
<line x1="146.2" y1="185.3" x2="146.2" y2="186.60000000000002" stroke="#555" stroke-width="0.4"/>
<line x1="148.2" y1="185.3" x2="148.2" y2="186.60000000000002" stroke="#555" stroke-width="0.4"/>
<line x1="154.2" y1="185.3" x2="154.2" y2="186.60000000000002" stroke="#555" stroke-width="0.4"/>
<line x1="156.2" y1="185.3" x2="156.2" y2="186.60000000000002" stroke="#555" stroke-width="0.4"/>
<line x1="158.2" y1="185.3" x2="158.2" y2="186.60000000000002" stroke="#555" stroke-width="0.4"/>
<line x1="160.2" y1="185.3" x2="160.2" y2="186.60000000000002" stroke="#555" stroke-width="0.4"/>
<line x1="162.2" y1="185.3" x2="162.2" y2="186.60000000000002" stroke="#555" stroke-width="0.4"/>
<line x1="168.2" y1="185.3" x2="168.2" y2="186.60000000000002" stroke="#555" stroke-width="0.4"/>
<line x1="170.2" y1="185.3" x2="170.2" y2="186.60000000000002" stroke="#555" stroke-width="0.4"/>
<line x1="172.2" y1="185.3" x2="172.2" y2="186.60000000000002" stroke="#555" stroke-width="0.4"/>
<line x1="174.2" y1="185.3" x2="174.2" y2="186.60000000000002" stroke="#555" stroke-width="0.4"/>
<line x1="176.2" y1="185.3" x2="176.2" y2="186.60000000000002" stroke="#555" stroke-width="0.4"/>
<text x="131.60" y="194.12" font-size="7.0" text-anchor="middle" fill="#222" font-weight="normal" stroke="#222" stroke-width="0.18">0</text>
<text x="154.40" y="196.11" font-size="7.0" text-anchor="end" fill="#222" stroke="#222" stroke-width="0.18">10</text>
<text x="155.20" y="193.80" font-size="4.4" fill="#222" stroke="#222" stroke-width="0.12">3</text>
<text x="167.70" y="196.11" font-size="7.0" text-anchor="end" fill="#222" stroke="#222" stroke-width="0.18">10</text>
<text x="168.50" y="193.80" font-size="4.4" fill="#222" stroke="#222" stroke-width="0.12">4</text>
<text x="182.10" y="196.11" font-size="7.0" text-anchor="end" fill="#222" stroke="#222" stroke-width="0.18">10</text>
<text x="182.90" y="193.80" font-size="4.4" fill="#222" stroke="#222" stroke-width="0.12">5</text>
<g fill="none" stroke-width="0.5">
<path d="M79.5,247.6 76.2,247.5 73.2,247.0 70.7,246.2 68.0,245.0 66.0,243.7 64.1,242.1 62.8,240.3 61.5,237.8 61.0,237.3 59.3,237.3 56.2,238.7 54.7,239.0 53.0,238.8 51.2,237.9 49.7,236.1 48.9,233.8 48.8,232.6 49.2,230.8 48.6,228.8 48.4,227.1 48.8,225.1 49.5,223.6 50.7,222.4 52.2,221.7 53.7,221.7 55.0,222.2 56.1,223.1 57.1,224.6 57.6,226.3 57.7,228.0 58.0,228.3 60.7,227.8 63.0,225.5 65.2,224.3 71.2,222.8 74.7,222.2 78.0,222.0 81.0,222.5 83.7,223.5 86.5,225.2 89.0,227.8 90.0,229.6 90.6,231.3 91.0,233.3 91.2,235.8 91.2,238.8 90.8,240.8 90.4,242.1 89.3,243.6 87.0,245.6 83.5,247.0 79.5,247.6M51.3,228.8 53.0,228.3 55.5,228.1 55.7,227.6 55.7,226.3 55.2,225.1 54.2,224.1 53.5,223.8 52.3,223.8 51.4,224.3 50.7,225.2 50.2,226.6 50.2,227.5 50.7,228.8 51.3,228.8" stroke="#b9b9b9"/>
<path d="M80.5,247.4 77.2,247.4 74.0,247.0 71.2,246.2 68.2,244.9 66.0,243.5 64.4,242.1 63.1,240.3 61.7,237.5 61.0,236.9 59.2,237.0 55.7,238.2 54.5,238.4 52.7,238.1 51.2,237.2 50.0,235.8 49.3,234.3 49.1,232.8 49.4,231.1 48.5,228.3 48.6,225.8 49.6,223.6 50.7,222.4 52.2,221.8 53.5,221.7 55.0,222.2 56.0,223.1 57.0,224.6 57.5,226.3 57.7,228.6 58.0,228.7 61.5,228.0 63.7,225.8 66.0,224.6 70.7,223.2 74.5,222.4 77.7,222.3 81.0,222.7 83.7,223.7 86.2,225.3 87.6,226.6 88.8,228.1 90.4,231.3 90.9,235.8 90.9,238.8 90.6,240.6 89.4,243.1 87.2,245.1 84.5,246.5 80.5,247.4M51.4,229.1 53.0,228.6 55.5,228.4 55.7,227.6 55.7,226.1 55.2,225.0 54.3,224.1 53.2,223.7 52.2,223.8 51.4,224.3 50.7,225.1 50.2,226.4 50.2,227.8 50.7,229.0 51.4,229.1" stroke="#acacac"/>
<path d="M81.0,247.1 77.7,247.3 74.5,246.9 71.2,246.0 68.2,244.7 66.0,243.2 64.3,241.6 63.1,239.8 62.0,237.2 61.2,236.6 59.5,236.5 54.5,237.7 53.0,237.5 51.5,236.8 50.3,235.6 49.7,234.3 49.5,233.1 49.6,231.3 48.5,228.1 48.6,225.8 49.6,223.6 50.7,222.5 52.5,221.8 53.7,221.8 55.2,222.4 56.4,223.6 57.1,224.8 57.5,226.8 57.6,228.8 58.0,229.1 60.5,228.8 62.2,228.4 63.0,227.8 64.5,226.1 66.1,225.1 70.7,223.5 74.5,222.7 77.7,222.5 80.7,223.0 83.5,223.9 85.7,225.3 88.3,227.8 90.0,231.1 90.6,235.1 90.7,238.1 90.5,240.1 89.5,242.6 87.5,244.7 84.5,246.3 81.0,247.1M51.5,229.3 53.2,228.8 55.2,228.8 55.7,228.1 55.7,225.9 55.0,224.6 54.0,223.8 53.0,223.7 52.0,223.8 51.2,224.4 50.5,225.5 50.2,226.6 50.2,228.1 50.7,229.1 51.2,229.4 51.5,229.3" stroke="#9f9f9f"/>
<path d="M81.2,246.9 78.0,247.1 74.7,246.8 71.7,246.0 68.7,244.8 66.2,243.1 64.6,241.6 63.3,239.6 62.2,236.9 61.2,236.1 59.7,236.0 54.2,237.1 52.7,236.9 51.5,236.2 50.6,235.3 50.1,234.3 49.8,233.1 49.9,231.6 49.1,229.8 48.6,228.1 48.6,226.1 49.5,223.8 50.5,222.8 52.0,221.9 54.0,221.9 55.2,222.5 56.3,223.6 57.0,224.8 57.4,226.3 57.4,229.3 58.0,229.5 61.0,229.3 63.0,228.9 63.7,228.3 65.3,226.3 66.8,225.3 70.2,224.0 74.2,223.0 77.2,222.8 80.2,223.2 83.0,224.0 85.5,225.5 88.1,228.1 89.6,231.1 90.3,235.3 90.3,239.8 89.3,242.3 87.5,244.4 84.7,245.9 81.2,246.9M51.7,229.6 53.0,229.1 55.0,229.1 55.7,228.4 55.9,227.1 55.7,225.8 55.2,224.8 54.1,223.8 53.0,223.6 51.9,223.8 51.0,224.6 50.5,225.4 50.1,226.8 50.2,228.2 51.0,229.5 51.7,229.6" stroke="#929292"/>
<path d="M79.5,246.9 76.2,246.8 73.2,246.3 70.2,245.2 67.7,243.9 65.9,242.6 64.5,241.1 63.3,239.1 62.5,236.6 61.2,235.3 60.2,235.2 54.5,236.6 53.0,236.4 51.5,235.6 50.3,234.1 50.1,231.8 49.0,229.6 48.6,227.8 48.8,225.6 49.7,223.6 51.0,222.5 52.5,221.9 54.0,222.0 55.5,222.7 56.6,224.1 57.3,225.8 57.3,229.8 59.0,230.2 61.0,230.1 63.2,229.6 64.4,228.8 66.0,226.6 67.5,225.6 70.5,224.3 74.0,223.4 77.2,223.2 80.2,223.5 83.0,224.4 85.5,225.9 87.8,228.3 88.7,229.8 89.4,231.6 90.1,236.8 89.9,240.3 88.6,242.8 86.5,244.8 83.2,246.2 79.5,246.9M51.8,229.8 53.2,229.4 55.0,229.4 55.5,229.0 55.9,227.8 55.9,226.6 55.5,225.1 54.6,224.1 53.5,223.6 52.5,223.6 51.5,224.1 50.7,224.8 50.2,225.9 50.0,227.1 50.2,228.4 51.0,229.6 51.8,229.8" stroke="#868686"/>
<path d="M55.5,235.9 53.2,236.0 51.4,235.1 50.7,234.1 50.4,232.1 48.8,228.8 48.7,226.6 49.3,224.3 50.7,222.7 52.2,222.0 54.0,222.0 55.5,222.8 56.5,224.1 57.3,226.1 57.4,228.1 57.0,230.3 58.6,231.8 58.9,232.8 58.8,233.8 58.4,234.6 57.7,235.1 55.5,235.9M52.0,230.1 53.2,229.7 55.0,229.6 55.5,229.1 56.0,227.9 56.0,226.3 55.5,225.0 54.7,224.1 53.7,223.6 52.7,223.5 51.7,223.8 50.7,224.8 50.2,225.8 50.0,227.1 50.2,228.6 51.0,229.7 52.0,230.1M80.0,246.6 75.2,246.5 70.7,245.2 68.7,244.3 66.7,243.0 65.2,241.6 64.2,240.1 62.2,234.8 62.3,233.1 63.3,230.8 65.0,229.3 66.5,227.1 68.2,225.8 71.0,224.6 74.0,223.8 77.0,223.6 79.7,223.9 82.2,224.6 84.6,225.8 86.6,227.6 88.0,229.6 89.1,232.3 89.8,236.8 89.8,239.3 89.1,241.6 87.7,243.5 85.7,244.9 83.2,246.0 80.0,246.6" stroke="#797979"/>
<path d="M54.2,235.6 52.5,235.3 51.3,234.3 50.9,233.3 50.7,232.1 49.4,230.1 48.7,228.1 48.8,225.8 49.5,224.1 50.7,222.8 51.7,222.2 52.7,222.0 54.2,222.2 55.7,223.1 56.9,224.8 57.3,226.6 57.3,228.3 56.6,230.8 57.3,232.6 57.3,233.8 56.2,235.0 54.2,235.6M53.1,230.1 54.5,230.0 55.2,229.5 56.0,228.2 56.1,227.1 56.0,226.1 55.2,224.6 54.0,223.6 53.0,223.4 51.7,223.8 50.7,224.7 50.2,225.6 49.9,227.3 50.2,228.7 51.0,229.9 52.0,230.3 53.1,230.1M80.2,246.4 78.0,246.5 75.5,246.3 73.0,245.8 70.7,245.0 68.7,244.0 66.7,242.7 65.4,241.3 64.4,239.8 63.7,238.3 63.0,235.6 63.1,233.6 64.1,231.3 66.7,227.8 67.6,226.8 69.0,225.9 71.5,224.9 74.2,224.3 77.0,224.1 79.7,224.4 82.2,225.2 84.3,226.3 86.0,227.8 87.5,229.8 88.5,232.3 89.4,236.3 89.5,238.8 89.0,241.1 87.6,243.1 85.7,244.6 83.2,245.7 80.2,246.4" stroke="#6c6c6c"/>
<path d="M54.0,235.1 52.7,234.9 51.7,234.1 51.1,232.3 49.3,229.8 48.8,227.8 48.8,226.1 49.6,224.1 51.0,222.7 52.7,222.0 54.2,222.2 55.8,223.3 56.8,224.8 57.3,226.8 57.0,229.1 56.2,231.3 56.4,232.6 56.3,233.6 55.5,234.7 54.0,235.1M53.8,230.3 55.0,229.9 55.7,229.0 56.1,227.6 56.1,226.3 55.7,225.2 54.9,224.1 54.0,223.5 52.7,223.4 51.5,223.8 50.5,224.9 49.9,226.3 49.9,228.1 50.5,229.4 51.5,230.3 52.2,230.5 53.8,230.3M80.2,246.1 78.0,246.2 75.5,246.0 73.0,245.5 70.7,244.7 68.7,243.8 67.0,242.6 65.8,241.3 64.7,239.8 64.1,238.3 63.6,235.8 63.5,234.6 63.8,233.3 64.7,231.6 67.5,228.0 68.5,227.0 69.7,226.2 72.0,225.3 74.5,224.8 77.2,224.8 79.7,225.1 82.0,225.9 84.0,227.1 85.7,228.7 87.0,230.5 88.3,233.8 89.1,236.6 89.1,239.1 88.6,241.1 87.4,242.8 85.5,244.4 83.0,245.5 80.2,246.1" stroke="#606060"/>
<path d="M54.5,234.4 53.2,234.5 52.2,233.9 51.6,232.6 49.5,230.1 48.9,228.1 48.9,226.3 49.5,224.3 50.7,222.9 52.5,222.2 54.0,222.2 55.5,223.1 56.6,224.6 57.1,226.1 57.2,227.8 56.8,229.6 55.6,231.8 55.5,233.6 54.5,234.4M53.7,230.6 54.9,230.1 55.7,229.2 56.1,227.8 56.2,226.6 55.7,225.1 55.0,224.1 53.7,223.4 52.5,223.3 51.3,223.8 50.4,224.8 49.9,226.3 49.9,228.1 50.5,229.5 51.2,230.3 52.2,230.7 53.7,230.6M80.0,245.9 77.7,246.0 75.2,245.7 70.7,244.5 68.7,243.4 67.2,242.3 66.0,241.1 65.0,239.6 64.4,238.1 64.1,236.1 64.0,234.8 64.3,233.6 65.3,231.8 68.2,228.4 70.2,226.8 72.5,226.0 75.2,225.7 78.0,225.9 80.6,226.6 82.5,227.6 84.4,229.1 86.0,231.0 87.5,233.6 88.5,235.8 88.8,237.8 88.6,239.8 87.9,241.6 86.7,243.1 84.7,244.5 82.5,245.4 80.0,245.9" stroke="#535353"/>
<path d="M54.2,233.7 53.5,233.8 53.0,233.6 50.5,231.3 49.4,229.6 49.0,228.1 49.0,226.1 49.6,224.3 50.7,223.1 52.5,222.2 54.0,222.3 55.5,223.2 56.5,224.6 57.1,226.3 57.1,228.1 56.6,229.8 54.2,233.7M53.1,230.8 54.7,230.4 55.5,229.7 56.0,228.6 56.3,227.1 56.0,225.6 55.3,224.3 54.2,223.5 53.0,223.2 51.7,223.5 50.7,224.3 50.0,225.7 49.7,227.3 50.0,228.7 50.7,230.0 51.7,230.7 53.1,230.8M79.2,245.6 75.0,245.4 70.5,244.0 67.4,242.1 66.2,240.8 65.3,239.3 64.8,237.8 64.5,235.8 64.6,234.6 65.0,233.3 66.7,231.1 69.2,228.8 70.7,227.8 72.7,227.2 75.0,227.3 76.7,227.7 81.0,229.4 83.5,230.7 85.2,232.0 86.5,233.3 87.6,235.1 88.3,237.1 88.3,238.8 87.9,240.6 87.0,242.1 85.7,243.4 83.7,244.6 81.7,245.2 79.2,245.6" stroke="#464646"/>
<path d="M53.7,232.6 52.5,232.5 50.7,231.4 49.6,229.8 49.0,227.8 49.1,225.8 49.9,224.1 51.2,222.8 52.7,222.3 54.2,222.5 55.5,223.3 56.5,224.8 57.0,226.6 56.9,228.6 56.2,230.3 55.0,231.9 53.7,232.6M53.9,230.8 55.2,230.1 55.9,229.1 56.3,227.8 56.3,226.3 55.8,224.8 55.0,223.8 53.7,223.2 52.5,223.1 51.2,223.7 50.2,224.8 49.7,226.3 49.7,227.8 50.1,229.3 51.2,230.5 52.5,231.0 53.9,230.8M80.2,245.1 76.7,245.3 73.2,244.7 70.0,243.4 67.4,241.6 65.8,239.1 65.1,236.3 65.4,234.1 66.9,231.8 68.7,230.4 70.5,229.4 72.2,229.0 74.0,229.0 78.0,229.7 81.2,230.7 83.7,231.9 85.7,233.5 87.0,235.1 87.7,236.8 87.8,238.8 87.4,240.6 86.4,242.1 84.7,243.5 82.7,244.5 80.2,245.1" stroke="#3a3a3a"/>
<path d="M53.5,232.4 52.2,232.2 50.6,231.1 49.7,229.8 49.1,227.8 49.2,226.1 50.0,224.2 51.0,223.1 52.7,222.5 54.0,222.6 55.5,223.6 56.5,225.0 56.9,226.8 56.7,228.8 56.1,230.3 55.0,231.7 53.5,232.4M53.5,231.1 54.7,230.6 55.8,229.6 56.3,228.3 56.5,226.8 56.1,225.1 55.2,223.9 54.2,223.2 52.7,222.9 51.2,223.5 50.1,224.8 49.6,226.1 49.5,227.8 50.0,229.3 51.0,230.5 52.2,231.1 53.5,231.1M80.2,244.6 77.0,244.8 73.7,244.4 70.7,243.3 68.4,241.8 66.8,239.8 65.9,237.1 66.0,234.6 67.1,232.6 68.7,231.3 70.5,230.4 72.5,230.0 74.7,230.0 77.7,230.4 80.7,231.3 83.2,232.5 85.1,233.8 86.3,235.3 87.0,236.8 87.2,238.6 86.7,240.3 85.8,241.8 84.3,243.1 82.2,244.1 80.2,244.6M78.6,241.8 80.8,241.1 81.6,240.3 82.0,239.6 82.2,238.6 81.9,237.6 80.4,235.8 77.7,234.6 75.0,234.3 72.5,234.9 71.3,235.6 70.7,236.3 70.4,237.1 70.4,237.8 70.7,238.6 71.5,239.3 75.7,241.5 77.2,241.9 78.6,241.8" stroke="#2d2d2d"/>
<path d="M56.2,229.7 56.2,229.3 56.2,229.7M53.7,232.1 53.0,232.2 52.0,231.9 50.5,230.6 52.0,231.2 53.5,231.3 55.0,230.7 56.0,229.7 56.0,230.1 55.3,231.1 53.7,232.1M78.5,243.9 75.7,243.9 73.0,243.5 70.6,242.6 68.9,241.3 67.9,239.8 67.0,235.6 67.3,234.1 68.4,232.6 69.9,231.6 71.7,231.0 73.7,230.8 76.2,230.9 79.0,231.5 81.2,232.3 83.4,233.6 84.9,234.8 85.7,236.1 86.2,237.6 86.1,239.1 85.5,240.4 84.5,241.5 83.1,242.3 80.7,243.3 78.5,243.9M80.0,243.1 81.5,242.7 82.7,241.9 83.5,240.8 83.8,239.6 83.6,238.3 83.1,237.1 82.0,235.8 80.7,234.8 77.5,233.6 74.0,233.5 72.2,233.9 70.7,234.5 69.6,235.3 68.8,236.3 68.3,237.3 68.4,238.1 69.2,239.1 70.5,240.0 75.7,242.7 78.0,243.2 80.0,243.1" stroke="#202020"/>
<path d="M53.7,231.9 52.7,231.9 52.2,231.6 54.6,231.3 53.7,231.9" stroke="#141414"/>
</g>
<line x1="62.300000000000004" y1="206.6" x2="62.300000000000004" y2="265.6" stroke="#555" stroke-width="0.9"/>
<line x1="46.2" y1="233.6" x2="105.2" y2="233.6" stroke="#555" stroke-width="0.9"/>
<rect x="46.2" y="206.6" width="59" height="59" fill="none" stroke="#1a1a1a" stroke-width="1.1"/>
<text x="47.30" y="216.33" font-size="8.0" text-anchor="start" fill="#d2283f" font-weight="normal" textLength="14.8" lengthAdjust="spacingAndGlyphs" stroke="#d2283f" stroke-width="0.2">22.3</text>
<text x="99.40" y="216.33" font-size="8.0" text-anchor="end" fill="#d2283f" font-weight="normal" textLength="14.8" lengthAdjust="spacingAndGlyphs" stroke="#d2283f" stroke-width="0.2">32.9</text>
<text x="47.30" y="260.78" font-size="8.0" text-anchor="start" fill="#d2283f" font-weight="normal" textLength="14.8" lengthAdjust="spacingAndGlyphs" stroke="#d2283f" stroke-width="0.2">7.24</text>
<text x="99.40" y="260.78" font-size="8.0" text-anchor="end" fill="#d2283f" font-weight="normal" textLength="14.8" lengthAdjust="spacingAndGlyphs" stroke="#d2283f" stroke-width="0.2">37.6</text>
<line x1="43.400000000000006" y1="211.9" x2="46.2" y2="211.9" stroke="#333" stroke-width="0.6"/>
<text x="39.20" y="214.41" font-size="7.0" text-anchor="end" fill="#222" stroke="#222" stroke-width="0.18">10</text>
<text x="40.00" y="212.10" font-size="4.4" fill="#222" stroke="#222" stroke-width="0.12">5</text>
<line x1="43.400000000000006" y1="225.6" x2="46.2" y2="225.6" stroke="#333" stroke-width="0.6"/>
<text x="39.20" y="228.11" font-size="7.0" text-anchor="end" fill="#222" stroke="#222" stroke-width="0.18">10</text>
<text x="40.00" y="225.80" font-size="4.4" fill="#222" stroke="#222" stroke-width="0.12">4</text>
<line x1="43.400000000000006" y1="238.6" x2="46.2" y2="238.6" stroke="#333" stroke-width="0.6"/>
<text x="39.20" y="241.11" font-size="7.0" text-anchor="end" fill="#222" stroke="#222" stroke-width="0.18">10</text>
<text x="40.00" y="238.80" font-size="4.4" fill="#222" stroke="#222" stroke-width="0.12">3</text>
<line x1="43.400000000000006" y1="251.89999999999998" x2="46.2" y2="251.89999999999998" stroke="#333" stroke-width="0.6"/>
<text x="39.20" y="254.41" font-size="7.0" text-anchor="end" fill="#222" stroke="#222" stroke-width="0.18">10</text>
<text x="40.00" y="252.10" font-size="4.4" fill="#222" stroke="#222" stroke-width="0.12">2</text>
<line x1="43.400000000000006" y1="263.2" x2="46.2" y2="263.2" stroke="#333" stroke-width="0.6"/>
<text x="39.20" y="265.72" font-size="7.0" text-anchor="end" fill="#222" font-weight="normal" stroke="#222" stroke-width="0.18">0</text>
<line x1="44.800000000000004" y1="214.6" x2="46.2" y2="214.6" stroke="#555" stroke-width="0.4"/>
<line x1="44.800000000000004" y1="216.6" x2="46.2" y2="216.6" stroke="#555" stroke-width="0.4"/>
<line x1="44.800000000000004" y1="218.6" x2="46.2" y2="218.6" stroke="#555" stroke-width="0.4"/>
<line x1="44.800000000000004" y1="228.6" x2="46.2" y2="228.6" stroke="#555" stroke-width="0.4"/>
<line x1="44.800000000000004" y1="230.6" x2="46.2" y2="230.6" stroke="#555" stroke-width="0.4"/>
<line x1="44.800000000000004" y1="232.6" x2="46.2" y2="232.6" stroke="#555" stroke-width="0.4"/>
<line x1="44.800000000000004" y1="241.6" x2="46.2" y2="241.6" stroke="#555" stroke-width="0.4"/>
<line x1="44.800000000000004" y1="243.6" x2="46.2" y2="243.6" stroke="#555" stroke-width="0.4"/>
<line x1="44.800000000000004" y1="245.6" x2="46.2" y2="245.6" stroke="#555" stroke-width="0.4"/>
<line x1="44.800000000000004" y1="254.6" x2="46.2" y2="254.6" stroke="#555" stroke-width="0.4"/>
<line x1="44.800000000000004" y1="256.6" x2="46.2" y2="256.6" stroke="#555" stroke-width="0.4"/>
<line x1="44.800000000000004" y1="259.6" x2="46.2" y2="259.6" stroke="#555" stroke-width="0.4"/>
<line x1="51.800000000000004" y1="265.6" x2="51.800000000000004" y2="268.20000000000005" stroke="#333" stroke-width="0.6"/>
<line x1="72.5" y1="265.6" x2="72.5" y2="268.20000000000005" stroke="#333" stroke-width="0.6"/>
<line x1="86.4" y1="265.6" x2="86.4" y2="268.20000000000005" stroke="#333" stroke-width="0.6"/>
<line x1="99.7" y1="265.6" x2="99.7" y2="268.20000000000005" stroke="#333" stroke-width="0.6"/>
<line x1="60.2" y1="265.6" x2="60.2" y2="266.90000000000003" stroke="#555" stroke-width="0.4"/>
<line x1="63.2" y1="265.6" x2="63.2" y2="266.90000000000003" stroke="#555" stroke-width="0.4"/>
<line x1="65.2" y1="265.6" x2="65.2" y2="266.90000000000003" stroke="#555" stroke-width="0.4"/>
<line x1="67.2" y1="265.6" x2="67.2" y2="266.90000000000003" stroke="#555" stroke-width="0.4"/>
<line x1="69.2" y1="265.6" x2="69.2" y2="266.90000000000003" stroke="#555" stroke-width="0.4"/>
<line x1="75.2" y1="265.6" x2="75.2" y2="266.90000000000003" stroke="#555" stroke-width="0.4"/>
<line x1="77.2" y1="265.6" x2="77.2" y2="266.90000000000003" stroke="#555" stroke-width="0.4"/>
<line x1="79.2" y1="265.6" x2="79.2" y2="266.90000000000003" stroke="#555" stroke-width="0.4"/>
<line x1="81.2" y1="265.6" x2="81.2" y2="266.90000000000003" stroke="#555" stroke-width="0.4"/>
<line x1="83.2" y1="265.6" x2="83.2" y2="266.90000000000003" stroke="#555" stroke-width="0.4"/>
<line x1="89.2" y1="265.6" x2="89.2" y2="266.90000000000003" stroke="#555" stroke-width="0.4"/>
<line x1="91.2" y1="265.6" x2="91.2" y2="266.90000000000003" stroke="#555" stroke-width="0.4"/>
<line x1="93.2" y1="265.6" x2="93.2" y2="266.90000000000003" stroke="#555" stroke-width="0.4"/>
<line x1="95.2" y1="265.6" x2="95.2" y2="266.90000000000003" stroke="#555" stroke-width="0.4"/>
<line x1="97.2" y1="265.6" x2="97.2" y2="266.90000000000003" stroke="#555" stroke-width="0.4"/>
<text x="52.60" y="274.42" font-size="7.0" text-anchor="middle" fill="#222" font-weight="normal" stroke="#222" stroke-width="0.18">0</text>
<text x="75.40" y="276.41" font-size="7.0" text-anchor="end" fill="#222" stroke="#222" stroke-width="0.18">10</text>
<text x="76.20" y="274.10" font-size="4.4" fill="#222" stroke="#222" stroke-width="0.12">3</text>
<text x="88.70" y="276.41" font-size="7.0" text-anchor="end" fill="#222" stroke="#222" stroke-width="0.18">10</text>
<text x="89.50" y="274.10" font-size="4.4" fill="#222" stroke="#222" stroke-width="0.12">4</text>
<text x="103.10" y="276.41" font-size="7.0" text-anchor="end" fill="#222" stroke="#222" stroke-width="0.18">10</text>
<text x="103.90" y="274.10" font-size="4.4" fill="#222" stroke="#222" stroke-width="0.12">5</text>
<g fill="none" stroke-width="0.5">
<path d="M132.1,252.7 131.3,252.8 130.6,252.5 130.0,251.6 129.5,250.3 129.5,248.3 130.0,244.8 128.9,239.6 129.0,234.3 127.5,230.6 127.1,228.6 127.2,226.3 127.8,224.3 129.0,222.3 130.3,221.2 131.8,220.5 133.1,220.3 134.8,220.4 136.1,221.0 138.2,222.8 139.0,224.3 139.8,226.8 140.3,227.0 143.3,226.5 147.3,223.8 151.1,222.2 155.1,221.6 159.1,221.8 162.3,222.7 165.1,224.0 167.6,225.9 169.5,228.1 170.5,230.3 170.6,232.6 169.9,235.3 168.5,238.1 166.6,240.3 164.3,242.0 161.8,243.3 158.6,244.1 155.8,244.3 153.3,244.1 150.8,243.5 148.3,242.4 146.0,240.8 144.1,238.8 142.6,236.6 141.3,233.5 139.8,232.9 138.3,233.1 137.6,234.0 137.3,234.8 137.1,239.3 136.5,242.3 135.8,244.0 134.2,246.8 133.3,251.3 132.1,252.7" stroke="#b9b9b9"/>
<path d="M132.1,252.1 131.3,252.3 130.8,252.1 130.2,251.3 129.9,250.3 129.8,248.3 130.5,244.8 129.3,239.6 129.4,234.6 127.7,230.8 127.2,228.3 127.3,226.3 128.0,224.1 129.2,222.3 130.6,221.1 132.1,220.5 133.6,220.4 135.1,220.6 136.3,221.2 137.4,222.1 138.4,223.3 139.2,225.1 139.7,226.8 140.1,227.2 141.7,227.1 143.7,226.6 147.6,223.9 150.6,222.6 153.6,222.0 156.6,221.8 160.1,222.3 163.8,223.7 166.8,225.6 169.1,228.1 170.0,230.3 170.2,232.6 169.6,235.3 168.1,238.1 166.2,240.3 163.8,242.0 161.1,243.3 158.3,243.9 155.6,244.1 153.1,243.8 150.6,243.2 148.3,242.1 146.1,240.6 144.2,238.6 143.0,236.6 141.6,233.3 139.8,232.7 138.3,232.9 136.9,234.8 136.7,239.1 136.3,241.6 135.5,243.6 133.8,246.1 133.3,250.3 132.8,251.3 132.1,252.1" stroke="#adadad"/>
<path d="M131.8,251.6 131.3,251.7 130.8,251.4 130.2,250.1 130.2,248.1 131.3,245.6 131.4,244.8 129.8,239.8 129.8,234.6 128.0,231.3 127.5,229.8 127.2,228.1 127.4,226.1 128.0,224.3 129.1,222.6 130.6,221.2 131.8,220.7 133.3,220.4 134.8,220.7 136.1,221.2 137.3,222.2 138.3,223.3 139.1,224.8 139.6,226.9 140.1,227.4 142.6,227.1 144.3,226.6 147.6,224.3 150.6,222.9 153.6,222.2 156.6,222.1 160.3,222.6 163.8,224.0 166.8,226.1 168.8,228.3 169.7,230.6 169.8,232.8 169.2,235.3 167.7,238.1 165.8,240.2 163.6,241.8 161.1,242.9 158.1,243.6 155.6,243.8 153.1,243.5 150.8,242.9 148.6,241.9 146.3,240.3 144.5,238.3 143.2,236.3 142.0,233.3 140.2,232.6 139.1,232.5 138.3,232.7 136.4,235.1 136.3,238.8 135.9,241.1 134.9,243.3 133.0,245.6 133.0,249.8 132.6,250.9 131.8,251.6" stroke="#a1a1a1"/>
<path d="M133.3,243.7 132.6,243.8 132.1,243.5 130.9,241.6 130.2,238.8 130.3,234.8 128.2,231.6 127.4,228.8 127.4,226.3 128.2,224.1 129.6,222.1 131.3,221.0 132.3,220.7 133.8,220.6 135.3,220.9 136.6,221.6 137.6,222.6 138.5,223.8 139.6,227.2 140.1,227.6 142.3,227.4 144.3,226.8 148.3,224.3 151.8,222.9 155.6,222.4 159.6,222.8 162.6,223.8 165.4,225.3 167.6,227.3 168.9,229.6 169.3,231.3 169.3,233.1 168.8,235.1 167.9,237.1 166.7,238.8 165.3,240.2 163.6,241.4 161.6,242.4 158.6,243.2 155.6,243.4 152.6,243.1 149.8,242.2 147.2,240.6 145.1,238.6 143.7,236.3 142.5,233.3 141.1,232.6 139.1,232.3 138.1,232.7 135.9,235.1 135.8,238.8 135.4,240.8 134.6,242.6 133.3,243.7M131.8,250.7 131.1,250.6 130.6,249.3 130.8,248.0 131.6,247.2 132.1,247.4 132.5,248.6 132.4,249.8 131.8,250.7" stroke="#969696"/>
<path d="M158.3,242.9 155.8,243.1 153.3,242.8 151.1,242.2 148.8,241.2 147.0,239.8 145.3,238.1 144.2,236.3 142.8,233.2 141.3,232.4 139.3,232.0 138.3,232.4 135.3,235.3 135.1,238.8 134.6,240.8 133.6,242.1 132.8,242.3 132.3,242.1 131.6,241.3 131.0,239.6 130.9,235.1 128.7,232.3 128.0,230.8 127.5,229.3 127.5,226.3 127.9,224.8 128.7,223.3 129.8,222.0 131.6,221.0 133.3,220.6 135.1,220.9 136.6,221.8 137.9,223.1 139.0,225.1 139.6,227.5 140.1,227.8 144.2,227.1 145.5,226.6 147.8,225.0 149.8,224.0 152.1,223.2 154.3,222.8 157.1,222.8 159.8,223.2 162.3,224.1 164.6,225.3 167.0,227.3 168.5,229.8 168.9,232.3 168.4,235.1 166.9,237.8 164.6,240.2 161.6,242.0 158.3,242.9" stroke="#8a8a8a"/>
<path d="M158.3,242.4 155.8,242.6 153.6,242.4 151.3,241.8 149.3,240.8 147.3,239.5 145.8,237.8 144.7,236.1 143.7,233.6 143.3,233.1 141.6,232.2 139.6,231.7 138.6,232.0 136.6,233.9 134.3,235.6 134.0,239.3 133.3,240.3 132.6,240.3 132.1,239.6 131.8,238.6 131.9,235.6 129.0,232.6 127.7,229.8 127.6,226.8 127.9,225.1 128.7,223.6 130.1,222.0 131.8,221.0 133.6,220.7 135.3,221.1 136.8,222.1 138.0,223.3 138.8,224.8 139.6,227.8 140.1,228.2 145.0,227.1 150.1,224.4 152.1,223.7 154.3,223.3 156.8,223.2 159.3,223.6 161.8,224.3 164.1,225.5 166.5,227.6 167.9,229.8 168.3,232.3 167.9,234.8 166.4,237.6 164.2,239.8 161.6,241.4 158.3,242.4" stroke="#7f7f7f"/>
<path d="M157.1,241.9 155.1,241.9 153.1,241.6 151.1,241.0 149.3,240.1 147.7,238.8 146.3,237.3 144.0,233.1 142.1,232.0 140.1,231.3 139.1,231.3 136.3,233.9 134.6,235.0 132.8,235.3 131.1,234.5 128.9,232.3 128.2,230.8 127.7,229.3 127.7,226.3 128.8,223.6 130.1,222.1 131.6,221.2 133.6,220.9 135.3,221.3 136.8,222.2 138.0,223.6 138.8,225.1 139.6,228.3 140.1,228.7 146.5,226.8 151.1,224.6 154.3,223.8 156.8,223.8 159.3,224.1 161.6,224.8 163.8,226.0 166.0,227.8 167.3,230.1 167.6,232.6 167.0,235.1 165.3,237.8 163.1,239.8 160.3,241.2 157.1,241.9M130.8,228.3 131.4,226.3 132.6,225.2 133.6,225.1 134.4,225.3 135.1,225.9 136.1,227.4 136.3,226.8 136.1,226.2 135.3,225.0 134.4,224.3 133.3,224.2 132.4,224.3 131.3,225.1 130.6,226.4 130.5,227.8 130.6,228.5 130.8,228.3" stroke="#737373"/>
<path d="M134.1,234.9 133.1,235.0 132.1,234.8 129.8,233.3 128.3,230.8 127.7,228.3 128.0,225.6 129.1,223.3 130.8,221.7 133.1,221.0 134.3,221.1 135.6,221.5 137.5,223.1 138.7,225.3 139.5,229.1 139.2,230.6 137.6,232.6 136.1,234.0 134.1,234.9M131.9,230.6 131.7,229.3 131.7,228.1 132.0,227.1 132.6,226.3 133.3,226.1 134.1,226.3 135.8,228.3 136.1,228.3 136.5,227.8 136.6,226.8 136.1,225.6 135.3,224.6 134.5,224.1 133.3,223.9 132.3,224.1 131.1,225.0 130.3,226.3 130.1,227.6 130.3,229.0 131.1,230.2 131.9,230.6M156.6,240.9 154.6,240.8 152.5,240.3 150.6,239.6 148.8,238.4 146.8,236.4 145.2,233.3 141.9,231.1 141.5,230.3 141.9,229.3 143.4,228.3 148.4,226.6 151.1,225.4 154.6,224.6 157.3,224.6 159.8,225.0 162.1,225.9 164.1,227.1 165.7,228.8 166.6,230.8 166.6,233.1 165.8,235.3 164.3,237.3 162.1,239.2 159.5,240.3 156.6,240.9" stroke="#686868"/>
<path d="M134.3,234.6 133.1,234.8 132.1,234.6 130.1,233.3 128.5,231.1 127.8,228.6 128.0,226.1 129.0,223.6 130.6,222.0 132.8,221.1 135.1,221.4 137.2,222.8 138.5,225.1 139.2,228.3 139.1,230.1 138.3,231.6 136.1,233.8 134.3,234.6M133.8,231.6 134.8,231.1 136.3,228.9 136.8,227.1 136.3,225.6 135.6,224.6 134.4,223.8 133.1,223.7 131.8,224.1 130.8,225.0 130.1,226.6 130.0,228.1 130.3,229.6 131.3,230.8 132.6,231.6 133.8,231.6M156.6,237.9 152.8,237.5 151.1,237.0 149.6,236.2 148.3,235.2 147.0,233.6 143.6,231.6 143.2,230.6 143.6,229.3 144.3,228.6 145.9,227.8 154.6,225.7 156.8,225.7 158.8,226.0 160.8,226.5 162.6,227.4 164.2,228.8 165.2,230.6 165.2,232.3 164.6,234.1 163.3,235.5 161.3,236.8 159.1,237.5 156.6,237.9M134.6,230.1 133.8,230.2 133.1,229.8 132.9,228.8 133.3,228.2 134.1,228.3 135.0,229.1 135.1,229.7 134.6,230.1" stroke="#5c5c5c"/>
<path d="M134.6,234.4 133.6,234.6 132.3,234.4 130.3,233.4 128.8,231.3 128.0,228.8 128.0,226.3 129.0,223.8 130.8,222.0 132.8,221.3 135.1,221.6 137.1,223.0 138.4,225.1 139.0,227.8 139.0,229.6 138.3,231.3 136.3,233.4 134.6,234.4M134.1,231.8 135.1,231.3 136.1,230.1 136.8,228.3 136.9,226.8 136.4,225.3 135.6,224.3 134.3,223.6 132.8,223.5 131.6,224.0 130.6,225.1 129.9,226.8 129.8,228.5 130.3,230.0 131.3,231.2 132.6,231.8 134.1,231.8M158.1,233.1 154.1,233.3 147.8,232.7 145.3,231.8 144.8,231.3 144.7,230.6 145.6,228.8 147.8,227.8 152.6,227.3 157.6,227.7 159.3,228.1 160.8,228.8 161.7,229.6 162.1,230.3 161.8,231.3 161.1,232.1 159.8,232.7 158.1,233.1" stroke="#515151"/>
<path d="M133.6,234.4 131.6,234.0 129.8,232.6 128.5,230.3 128.0,227.8 128.5,225.3 129.6,223.3 131.3,221.9 133.3,221.4 135.6,222.0 137.3,223.5 138.4,225.6 138.9,228.6 138.5,230.6 137.3,232.3 135.6,233.7 133.6,234.4M134.1,232.1 135.2,231.6 136.1,230.6 136.8,229.0 137.1,227.1 136.7,225.6 135.8,224.3 134.6,223.5 133.1,223.3 131.6,223.8 130.5,224.8 129.8,226.3 129.7,228.3 130.1,229.9 131.2,231.3 132.6,232.1 134.1,232.1M153.1,231.9 148.3,231.8 147.1,231.3 146.9,230.6 147.3,229.6 148.1,228.8 150.3,228.3 154.8,228.6 156.5,229.1 157.5,229.8 157.3,230.6 156.5,231.1 153.1,231.9" stroke="#454545"/>
<path d="M133.8,234.1 131.8,233.9 130.1,232.7 128.8,230.8 128.2,228.3 128.5,225.8 129.6,223.6 131.1,222.2 133.1,221.6 135.3,222.1 137.0,223.3 138.2,225.3 138.7,228.1 138.4,230.1 137.5,231.8 135.6,233.5 133.8,234.1M134.0,232.3 135.3,231.8 136.3,230.6 137.1,228.8 137.3,227.1 136.8,225.5 135.8,224.1 134.6,223.3 133.1,223.1 131.6,223.6 130.3,224.8 129.6,226.6 129.5,228.3 130.0,230.1 131.1,231.6 132.6,232.3 134.0,232.3" stroke="#3a3a3a"/>
<path d="M133.8,233.9 131.9,233.6 130.3,232.6 129.1,230.8 128.5,228.3 128.6,226.3 129.6,224.0 131.1,222.5 133.1,221.9 135.3,222.3 136.8,223.5 137.9,225.3 138.5,228.1 138.2,230.1 137.3,231.7 135.8,233.1 133.8,233.9M134.1,232.6 135.6,231.9 136.6,230.7 137.4,228.6 137.5,226.8 136.9,225.1 136.0,223.8 134.6,223.0 133.1,222.8 131.6,223.3 130.2,224.6 129.4,226.1 129.2,228.3 129.7,230.1 130.8,231.7 132.3,232.5 134.1,232.6" stroke="#2e2e2e"/>
<path d="M136.8,231.6 136.6,231.6 137.8,228.3 138.1,228.4 137.8,230.1 136.8,231.6M132.6,233.2 132.1,233.1 132.6,233.2M133.8,233.4 132.7,233.3 133.8,233.4" stroke="#232323"/>
</g>
<line x1="142.1" y1="206.6" x2="142.1" y2="265.6" stroke="#555" stroke-width="0.9"/>
<line x1="125.6" y1="233.79999999999998" x2="184.6" y2="233.79999999999998" stroke="#555" stroke-width="0.9"/>
<rect x="125.6" y="206.6" width="59" height="59" fill="none" stroke="#1a1a1a" stroke-width="1.1"/>
<text x="126.70" y="216.33" font-size="8.0" text-anchor="start" fill="#d2283f" font-weight="normal" textLength="14.8" lengthAdjust="spacingAndGlyphs" stroke="#d2283f" stroke-width="0.2">42.4</text>
<text x="178.80" y="216.33" font-size="8.0" text-anchor="end" fill="#d2283f" font-weight="normal" textLength="14.8" lengthAdjust="spacingAndGlyphs" stroke="#d2283f" stroke-width="0.2">32.2</text>
<text x="126.70" y="260.78" font-size="8.0" text-anchor="start" fill="#d2283f" font-weight="normal" textLength="14.8" lengthAdjust="spacingAndGlyphs" stroke="#d2283f" stroke-width="0.2">7.38</text>
<text x="178.80" y="260.78" font-size="8.0" text-anchor="end" fill="#d2283f" font-weight="normal" textLength="14.8" lengthAdjust="spacingAndGlyphs" stroke="#d2283f" stroke-width="0.2">18.1</text>
<line x1="122.8" y1="211.9" x2="125.6" y2="211.9" stroke="#333" stroke-width="0.6"/>
<text x="118.60" y="214.41" font-size="7.0" text-anchor="end" fill="#222" stroke="#222" stroke-width="0.18">10</text>
<text x="119.40" y="212.10" font-size="4.4" fill="#222" stroke="#222" stroke-width="0.12">5</text>
<line x1="122.8" y1="225.6" x2="125.6" y2="225.6" stroke="#333" stroke-width="0.6"/>
<text x="118.60" y="228.11" font-size="7.0" text-anchor="end" fill="#222" stroke="#222" stroke-width="0.18">10</text>
<text x="119.40" y="225.80" font-size="4.4" fill="#222" stroke="#222" stroke-width="0.12">4</text>
<line x1="122.8" y1="238.6" x2="125.6" y2="238.6" stroke="#333" stroke-width="0.6"/>
<text x="118.60" y="241.11" font-size="7.0" text-anchor="end" fill="#222" stroke="#222" stroke-width="0.18">10</text>
<text x="119.40" y="238.80" font-size="4.4" fill="#222" stroke="#222" stroke-width="0.12">3</text>
<line x1="122.8" y1="251.89999999999998" x2="125.6" y2="251.89999999999998" stroke="#333" stroke-width="0.6"/>
<text x="118.60" y="254.41" font-size="7.0" text-anchor="end" fill="#222" stroke="#222" stroke-width="0.18">10</text>
<text x="119.40" y="252.10" font-size="4.4" fill="#222" stroke="#222" stroke-width="0.12">2</text>
<line x1="122.8" y1="263.2" x2="125.6" y2="263.2" stroke="#333" stroke-width="0.6"/>
<text x="118.60" y="265.72" font-size="7.0" text-anchor="end" fill="#222" font-weight="normal" stroke="#222" stroke-width="0.18">0</text>
<line x1="124.19999999999999" y1="214.6" x2="125.6" y2="214.6" stroke="#555" stroke-width="0.4"/>
<line x1="124.19999999999999" y1="216.6" x2="125.6" y2="216.6" stroke="#555" stroke-width="0.4"/>
<line x1="124.19999999999999" y1="218.6" x2="125.6" y2="218.6" stroke="#555" stroke-width="0.4"/>
<line x1="124.19999999999999" y1="228.6" x2="125.6" y2="228.6" stroke="#555" stroke-width="0.4"/>
<line x1="124.19999999999999" y1="230.6" x2="125.6" y2="230.6" stroke="#555" stroke-width="0.4"/>
<line x1="124.19999999999999" y1="232.6" x2="125.6" y2="232.6" stroke="#555" stroke-width="0.4"/>
<line x1="124.19999999999999" y1="241.6" x2="125.6" y2="241.6" stroke="#555" stroke-width="0.4"/>
<line x1="124.19999999999999" y1="243.6" x2="125.6" y2="243.6" stroke="#555" stroke-width="0.4"/>
<line x1="124.19999999999999" y1="245.6" x2="125.6" y2="245.6" stroke="#555" stroke-width="0.4"/>
<line x1="124.19999999999999" y1="254.6" x2="125.6" y2="254.6" stroke="#555" stroke-width="0.4"/>
<line x1="124.19999999999999" y1="256.6" x2="125.6" y2="256.6" stroke="#555" stroke-width="0.4"/>
<line x1="124.19999999999999" y1="259.6" x2="125.6" y2="259.6" stroke="#555" stroke-width="0.4"/>
<line x1="131.2" y1="265.6" x2="131.2" y2="268.20000000000005" stroke="#333" stroke-width="0.6"/>
<line x1="151.9" y1="265.6" x2="151.9" y2="268.20000000000005" stroke="#333" stroke-width="0.6"/>
<line x1="165.8" y1="265.6" x2="165.8" y2="268.20000000000005" stroke="#333" stroke-width="0.6"/>
<line x1="179.1" y1="265.6" x2="179.1" y2="268.20000000000005" stroke="#333" stroke-width="0.6"/>
<line x1="139.6" y1="265.6" x2="139.6" y2="266.90000000000003" stroke="#555" stroke-width="0.4"/>
<line x1="142.6" y1="265.6" x2="142.6" y2="266.90000000000003" stroke="#555" stroke-width="0.4"/>
<line x1="144.6" y1="265.6" x2="144.6" y2="266.90000000000003" stroke="#555" stroke-width="0.4"/>
<line x1="146.6" y1="265.6" x2="146.6" y2="266.90000000000003" stroke="#555" stroke-width="0.4"/>
<line x1="148.6" y1="265.6" x2="148.6" y2="266.90000000000003" stroke="#555" stroke-width="0.4"/>
<line x1="154.6" y1="265.6" x2="154.6" y2="266.90000000000003" stroke="#555" stroke-width="0.4"/>
<line x1="156.6" y1="265.6" x2="156.6" y2="266.90000000000003" stroke="#555" stroke-width="0.4"/>
<line x1="158.6" y1="265.6" x2="158.6" y2="266.90000000000003" stroke="#555" stroke-width="0.4"/>
<line x1="160.6" y1="265.6" x2="160.6" y2="266.90000000000003" stroke="#555" stroke-width="0.4"/>
<line x1="162.6" y1="265.6" x2="162.6" y2="266.90000000000003" stroke="#555" stroke-width="0.4"/>
<line x1="168.6" y1="265.6" x2="168.6" y2="266.90000000000003" stroke="#555" stroke-width="0.4"/>
<line x1="170.6" y1="265.6" x2="170.6" y2="266.90000000000003" stroke="#555" stroke-width="0.4"/>
<line x1="172.6" y1="265.6" x2="172.6" y2="266.90000000000003" stroke="#555" stroke-width="0.4"/>
<line x1="174.6" y1="265.6" x2="174.6" y2="266.90000000000003" stroke="#555" stroke-width="0.4"/>
<line x1="176.6" y1="265.6" x2="176.6" y2="266.90000000000003" stroke="#555" stroke-width="0.4"/>
<text x="132.00" y="274.42" font-size="7.0" text-anchor="middle" fill="#222" font-weight="normal" stroke="#222" stroke-width="0.18">0</text>
<text x="154.80" y="276.41" font-size="7.0" text-anchor="end" fill="#222" stroke="#222" stroke-width="0.18">10</text>
<text x="155.60" y="274.10" font-size="4.4" fill="#222" stroke="#222" stroke-width="0.12">3</text>
<text x="168.10" y="276.41" font-size="7.0" text-anchor="end" fill="#222" stroke="#222" stroke-width="0.18">10</text>
<text x="168.90" y="274.10" font-size="4.4" fill="#222" stroke="#222" stroke-width="0.12">4</text>
<text x="182.50" y="276.41" font-size="7.0" text-anchor="end" fill="#222" stroke="#222" stroke-width="0.18">10</text>
<text x="183.30" y="274.10" font-size="4.4" fill="#222" stroke="#222" stroke-width="0.12">5</text>
<g fill="none" stroke-width="0.5">
<path d="M205.4,222.9 206.8,220.3 209.2,218.0 212.2,216.5 214.7,216.2 216.7,216.9 218.4,218.1 219.9,219.8 221.7,222.6 222.4,223.2 223.4,223.2 227.2,221.5 230.2,220.7 233.4,220.5 236.4,220.8 239.4,221.7 242.1,223.3 243.7,225.3 244.3,227.6 244.1,229.1 243.3,232.1 243.4,234.3 243.1,235.3 242.3,236.3 240.9,237.3 237.2,239.0 232.9,239.6 231.2,239.5 229.7,239.1 229.0,238.6 228.6,237.8 229.3,235.6 229.0,234.8 226.2,233.3 225.2,233.1 224.4,233.2 223.9,234.2 223.9,237.6 223.7,239.3 221.3,245.8 220.0,248.1 218.5,249.8 216.9,251.2 214.9,252.4 213.2,252.8 211.7,252.8 210.4,252.3 209.1,251.3 207.9,249.9 207.0,248.1 205.4,243.1" stroke="#c3c3c3"/>
<path d="M205.4,223.5 206.8,220.6 208.9,218.5 211.7,217.2 214.4,216.9 216.4,217.5 218.2,218.7 219.6,220.3 221.4,223.2 222.2,223.8 223.2,223.8 226.9,221.9 229.7,221.1 232.7,220.7 235.9,221.0 239.2,221.9 241.7,223.4 243.3,225.3 243.9,227.6 243.7,229.1 242.3,232.6 242.1,234.6 241.7,235.6 240.7,236.6 239.6,237.3 236.4,238.6 233.2,239.0 230.9,238.5 230.0,237.6 230.4,235.6 230.0,234.8 225.7,232.7 224.7,232.5 223.9,232.7 223.4,233.8 223.3,237.6 223.0,239.6 222.0,242.8 220.8,245.6 219.4,247.8 217.9,249.6 216.2,251.0 214.2,251.9 212.7,252.2 211.2,252.0 209.9,251.3 208.7,250.1 207.7,248.6 206.8,246.6 205.4,240.9" stroke="#b5b5b5"/>
<path d="M205.4,224.1 206.5,221.3 208.4,219.2 211.2,217.7 213.9,217.4 215.9,218.0 217.9,219.3 219.3,220.8 221.2,223.9 221.9,224.6 223.2,224.4 226.4,222.5 229.2,221.5 232.2,221.1 235.4,221.2 238.4,222.0 241.2,223.5 242.8,225.3 243.4,227.6 242.9,229.8 241.0,233.3 240.1,235.6 238.7,236.9 236.0,237.8 233.9,238.1 232.4,237.7 231.8,237.1 231.7,235.3 230.9,234.6 224.9,232.0 223.9,231.8 223.4,232.0 222.9,233.3 222.5,239.3 221.7,242.1 220.5,244.8 219.2,247.1 217.7,248.9 215.7,250.4 213.7,251.3 212.2,251.5 210.7,251.1 209.4,250.1 208.2,248.6 206.7,244.6 205.4,237.7" stroke="#a8a8a8"/>
<path d="M205.4,225.1 206.3,222.1 208.2,219.7 210.7,218.2 213.4,217.8 215.4,218.2 217.7,219.7 219.0,221.3 220.9,224.8 221.9,225.6 222.9,225.4 225.9,223.2 228.4,222.1 231.4,221.5 234.4,221.4 237.7,222.1 240.4,223.5 242.2,225.3 242.6,226.3 242.8,227.6 242.4,229.6 241.0,231.8 237.4,235.6 235.9,236.2 235.0,236.1 233.3,234.8 228.2,232.9 224.2,231.0 223.4,230.9 222.9,231.1 222.4,232.3 222.2,236.8 221.8,239.3 221.0,242.1 219.9,244.6 218.4,246.9 216.4,249.0 214.4,250.2 212.4,250.7 210.9,250.4 209.5,249.3 208.4,247.8 207.5,245.6 206.7,242.3 206.0,238.1 205.7,234.8 205.8,230.8 205.4,228.1" stroke="#9b9b9b"/>
<path d="M212.7,249.9 211.7,249.8 210.7,249.4 209.7,248.5 208.9,247.3 207.7,244.3 206.7,239.1 206.4,235.6 206.4,231.8 205.6,227.8 205.5,225.6 205.8,223.8 206.5,222.1 208.4,219.7 210.2,218.6 212.2,218.1 214.2,218.2 216.2,219.0 217.4,219.9 218.6,221.3 220.9,226.3 222.2,227.8 222.7,227.5 224.5,225.1 226.2,223.7 228.4,222.6 230.9,221.9 233.9,221.8 236.9,222.3 239.3,223.3 241.1,224.8 241.9,226.1 242.2,227.3 242.0,228.6 241.6,229.8 240.7,231.2 239.4,232.4 237.9,233.3 236.4,233.9 233.7,234.0 229.4,232.9 226.5,231.6 222.9,229.0 222.4,228.9 221.7,231.1 221.6,236.1 221.3,238.6 219.8,243.1 218.4,245.6 216.6,247.6 214.7,249.1 212.7,249.9" stroke="#8e8e8e"/>
<path d="M212.4,248.9 211.2,248.6 210.1,247.8 209.3,246.6 208.5,244.6 207.3,238.1 207.0,232.3 205.9,228.6 205.7,226.1 206.3,223.1 207.8,220.6 210.2,218.9 211.4,218.5 212.9,218.3 214.9,218.7 216.4,219.5 217.9,220.8 219.0,222.6 219.8,224.8 220.6,228.8 220.9,234.6 220.3,239.3 219.6,241.6 218.6,243.6 217.2,245.6 215.4,247.4 213.9,248.4 212.4,248.9M235.4,233.1 233.4,233.2 231.2,232.8 228.9,232.1 226.9,231.1 225.3,229.8 224.4,228.6 224.1,227.3 224.6,226.1 225.7,224.9 227.2,223.8 228.9,223.0 230.9,222.5 233.2,222.3 235.2,222.5 237.2,223.0 238.9,223.9 240.1,224.8 241.0,226.1 241.3,227.3 241.1,228.8 240.3,230.3 238.9,231.7 237.2,232.7 235.4,233.1" stroke="#818181"/>
<path d="M212.7,247.6 211.7,247.5 210.7,246.9 209.9,245.9 209.3,244.6 208.5,240.3 207.9,233.1 206.3,229.1 205.9,226.3 206.3,223.6 207.0,222.1 207.9,220.8 210.2,219.1 212.7,218.6 214.7,218.9 216.2,219.7 217.7,221.1 218.8,222.8 219.3,224.3 219.7,226.3 220.0,234.1 219.5,238.3 218.1,242.1 216.8,244.1 215.2,246.1 213.9,247.1 212.7,247.6M235.4,232.1 233.7,232.2 231.7,232.0 229.7,231.5 227.7,230.5 226.2,229.5 225.2,228.3 225.0,227.3 225.3,226.3 226.2,225.4 227.4,224.5 229.2,223.7 231.2,223.2 234.7,223.2 236.3,223.6 237.9,224.3 239.2,225.3 239.8,226.3 240.1,227.3 239.9,228.6 239.3,229.8 238.3,230.8 236.9,231.7 235.4,232.1" stroke="#737373"/>
<path d="M212.7,245.9 211.9,245.8 211.2,245.4 210.3,243.8 209.8,241.3 209.3,234.1 206.7,229.6 206.3,228.1 206.1,226.3 206.5,223.6 207.9,221.1 210.2,219.4 212.7,218.9 215.2,219.4 216.4,220.2 217.4,221.1 218.8,223.6 219.3,226.8 218.5,231.8 218.4,236.1 217.8,238.8 216.7,241.1 215.0,243.8 213.7,245.3 212.7,245.9M211.1,227.3 212.6,226.1 214.2,225.6 214.6,225.1 214.4,223.8 213.3,222.8 212.2,222.6 211.2,222.8 210.4,223.3 209.7,224.3 209.4,225.6 209.7,226.6 210.4,227.4 211.1,227.3M233.2,230.6 230.2,230.4 227.4,229.5 225.9,228.1 225.8,227.1 226.1,226.3 226.8,225.6 227.9,225.0 230.7,224.2 233.4,224.3 236.2,225.2 237.1,225.8 237.6,226.6 237.8,227.3 237.6,228.3 236.9,229.2 235.9,229.9 233.2,230.6" stroke="#666666"/>
<path d="M213.2,234.4 211.9,234.3 210.7,233.7 208.4,231.8 206.9,229.3 206.3,226.6 206.7,223.8 208.1,221.3 210.2,219.7 212.4,219.2 214.9,219.6 217.0,221.1 218.4,223.3 219.0,226.1 218.7,228.8 217.4,231.8 216.4,232.9 215.4,233.7 213.2,234.4M213.2,228.8 214.4,228.2 215.2,227.3 215.6,226.1 215.5,224.8 215.0,223.6 214.2,222.7 212.9,222.2 211.7,222.2 210.4,222.8 209.5,223.8 209.0,225.1 209.1,226.6 209.7,227.8 210.7,228.6 211.9,229.0 213.2,228.8M232.9,229.6 230.9,229.7 228.8,229.3 227.6,228.6 227.2,227.6 227.4,227.4 228.1,228.1 229.7,228.7 232.2,228.7 233.2,228.3 233.9,227.6 233.8,226.8 233.2,226.3 231.9,225.9 230.2,225.8 228.4,226.2 227.4,227.0 227.5,226.3 228.8,225.3 230.9,224.9 233.2,225.1 234.9,225.8 235.9,226.8 235.9,227.8 234.9,228.9 232.9,229.6" stroke="#595959"/>
<path d="M212.9,233.4 210.7,233.0 208.7,231.5 207.3,229.3 206.6,226.6 206.9,224.1 208.2,221.7 210.1,220.1 212.4,219.5 214.7,219.9 216.8,221.3 218.2,223.6 218.7,226.1 218.3,228.8 217.2,231.1 215.2,232.8 212.9,233.4M213.2,229.6 214.7,228.9 215.5,227.8 216.0,226.3 216.0,224.8 215.4,223.4 214.4,222.3 213.2,221.8 211.7,221.8 210.2,222.5 209.2,223.6 208.6,225.1 208.7,226.6 209.3,228.1 210.3,229.1 211.7,229.6 213.2,229.6" stroke="#4c4c4c"/>
<path d="M213.9,232.6 211.7,232.7 209.7,231.8 208.1,230.1 207.2,227.6 207.2,225.3 208.2,222.6 209.9,220.8 211.7,220.1 213.8,220.1 215.8,221.1 217.4,222.9 218.2,225.1 218.2,227.6 217.4,229.8 215.9,231.7 213.9,232.6M213.4,230.1 214.9,229.3 215.9,228.1 216.5,226.3 216.5,224.6 215.8,223.1 214.7,221.9 213.2,221.2 211.4,221.2 209.9,221.9 208.8,223.1 208.1,225.1 208.2,226.8 208.9,228.3 210.2,229.6 211.7,230.2 213.4,230.1" stroke="#3f3f3f"/>
<path d="M213.2,232.1 211.9,232.1 210.7,231.7 209.6,230.8 209.4,230.2 212.2,230.9 214.2,230.5 216.0,229.1 217.4,226.9 217.2,228.8 216.3,230.3 214.8,231.6 213.2,232.1" stroke="#323232"/>
</g>
<line x1="224.0" y1="206.6" x2="224.0" y2="265.6" stroke="#555" stroke-width="0.9"/>
<line x1="205.4" y1="234.0" x2="264.4" y2="234.0" stroke="#555" stroke-width="0.9"/>
<rect x="205.4" y="206.6" width="59" height="59" fill="none" stroke="#1a1a1a" stroke-width="1.1"/>
<text x="206.50" y="216.33" font-size="8.0" text-anchor="start" fill="#d2283f" font-weight="normal" textLength="14.8" lengthAdjust="spacingAndGlyphs" stroke="#d2283f" stroke-width="0.2">55.4</text>
<text x="258.60" y="216.33" font-size="8.0" text-anchor="end" fill="#d2283f" font-weight="normal" textLength="14.8" lengthAdjust="spacingAndGlyphs" stroke="#d2283f" stroke-width="0.2">23.6</text>
<text x="206.50" y="260.78" font-size="8.0" text-anchor="start" fill="#d2283f" font-weight="normal" textLength="14.8" lengthAdjust="spacingAndGlyphs" stroke="#d2283f" stroke-width="0.2">14.7</text>
<text x="258.60" y="260.78" font-size="8.0" text-anchor="end" fill="#d2283f" font-weight="normal" textLength="14.8" lengthAdjust="spacingAndGlyphs" stroke="#d2283f" stroke-width="0.2">6.28</text>
<line x1="202.6" y1="211.9" x2="205.4" y2="211.9" stroke="#333" stroke-width="0.6"/>
<text x="198.40" y="214.41" font-size="7.0" text-anchor="end" fill="#222" stroke="#222" stroke-width="0.18">10</text>
<text x="199.20" y="212.10" font-size="4.4" fill="#222" stroke="#222" stroke-width="0.12">5</text>
<line x1="202.6" y1="225.6" x2="205.4" y2="225.6" stroke="#333" stroke-width="0.6"/>
<text x="198.40" y="228.11" font-size="7.0" text-anchor="end" fill="#222" stroke="#222" stroke-width="0.18">10</text>
<text x="199.20" y="225.80" font-size="4.4" fill="#222" stroke="#222" stroke-width="0.12">4</text>
<line x1="202.6" y1="238.6" x2="205.4" y2="238.6" stroke="#333" stroke-width="0.6"/>
<text x="198.40" y="241.11" font-size="7.0" text-anchor="end" fill="#222" stroke="#222" stroke-width="0.18">10</text>
<text x="199.20" y="238.80" font-size="4.4" fill="#222" stroke="#222" stroke-width="0.12">3</text>
<line x1="202.6" y1="251.89999999999998" x2="205.4" y2="251.89999999999998" stroke="#333" stroke-width="0.6"/>
<text x="198.40" y="254.41" font-size="7.0" text-anchor="end" fill="#222" stroke="#222" stroke-width="0.18">10</text>
<text x="199.20" y="252.10" font-size="4.4" fill="#222" stroke="#222" stroke-width="0.12">2</text>
<line x1="202.6" y1="263.2" x2="205.4" y2="263.2" stroke="#333" stroke-width="0.6"/>
<text x="198.40" y="265.72" font-size="7.0" text-anchor="end" fill="#222" font-weight="normal" stroke="#222" stroke-width="0.18">0</text>
<line x1="204.0" y1="214.6" x2="205.4" y2="214.6" stroke="#555" stroke-width="0.4"/>
<line x1="204.0" y1="216.6" x2="205.4" y2="216.6" stroke="#555" stroke-width="0.4"/>
<line x1="204.0" y1="218.6" x2="205.4" y2="218.6" stroke="#555" stroke-width="0.4"/>
<line x1="204.0" y1="228.6" x2="205.4" y2="228.6" stroke="#555" stroke-width="0.4"/>
<line x1="204.0" y1="230.6" x2="205.4" y2="230.6" stroke="#555" stroke-width="0.4"/>
<line x1="204.0" y1="232.6" x2="205.4" y2="232.6" stroke="#555" stroke-width="0.4"/>
<line x1="204.0" y1="241.6" x2="205.4" y2="241.6" stroke="#555" stroke-width="0.4"/>
<line x1="204.0" y1="243.6" x2="205.4" y2="243.6" stroke="#555" stroke-width="0.4"/>
<line x1="204.0" y1="245.6" x2="205.4" y2="245.6" stroke="#555" stroke-width="0.4"/>
<line x1="204.0" y1="254.6" x2="205.4" y2="254.6" stroke="#555" stroke-width="0.4"/>
<line x1="204.0" y1="256.6" x2="205.4" y2="256.6" stroke="#555" stroke-width="0.4"/>
<line x1="204.0" y1="259.6" x2="205.4" y2="259.6" stroke="#555" stroke-width="0.4"/>
<line x1="211.0" y1="265.6" x2="211.0" y2="268.20000000000005" stroke="#333" stroke-width="0.6"/>
<line x1="231.70000000000002" y1="265.6" x2="231.70000000000002" y2="268.20000000000005" stroke="#333" stroke-width="0.6"/>
<line x1="245.60000000000002" y1="265.6" x2="245.60000000000002" y2="268.20000000000005" stroke="#333" stroke-width="0.6"/>
<line x1="258.9" y1="265.6" x2="258.9" y2="268.20000000000005" stroke="#333" stroke-width="0.6"/>
<line x1="219.4" y1="265.6" x2="219.4" y2="266.90000000000003" stroke="#555" stroke-width="0.4"/>
<line x1="222.4" y1="265.6" x2="222.4" y2="266.90000000000003" stroke="#555" stroke-width="0.4"/>
<line x1="224.4" y1="265.6" x2="224.4" y2="266.90000000000003" stroke="#555" stroke-width="0.4"/>
<line x1="226.4" y1="265.6" x2="226.4" y2="266.90000000000003" stroke="#555" stroke-width="0.4"/>
<line x1="228.4" y1="265.6" x2="228.4" y2="266.90000000000003" stroke="#555" stroke-width="0.4"/>
<line x1="234.4" y1="265.6" x2="234.4" y2="266.90000000000003" stroke="#555" stroke-width="0.4"/>
<line x1="236.4" y1="265.6" x2="236.4" y2="266.90000000000003" stroke="#555" stroke-width="0.4"/>
<line x1="238.4" y1="265.6" x2="238.4" y2="266.90000000000003" stroke="#555" stroke-width="0.4"/>
<line x1="240.4" y1="265.6" x2="240.4" y2="266.90000000000003" stroke="#555" stroke-width="0.4"/>
<line x1="242.4" y1="265.6" x2="242.4" y2="266.90000000000003" stroke="#555" stroke-width="0.4"/>
<line x1="248.4" y1="265.6" x2="248.4" y2="266.90000000000003" stroke="#555" stroke-width="0.4"/>
<line x1="250.4" y1="265.6" x2="250.4" y2="266.90000000000003" stroke="#555" stroke-width="0.4"/>
<line x1="252.4" y1="265.6" x2="252.4" y2="266.90000000000003" stroke="#555" stroke-width="0.4"/>
<line x1="254.4" y1="265.6" x2="254.4" y2="266.90000000000003" stroke="#555" stroke-width="0.4"/>
<line x1="256.4" y1="265.6" x2="256.4" y2="266.90000000000003" stroke="#555" stroke-width="0.4"/>
<text x="211.80" y="274.42" font-size="7.0" text-anchor="middle" fill="#222" font-weight="normal" stroke="#222" stroke-width="0.18">0</text>
<text x="234.60" y="276.41" font-size="7.0" text-anchor="end" fill="#222" stroke="#222" stroke-width="0.18">10</text>
<text x="235.40" y="274.10" font-size="4.4" fill="#222" stroke="#222" stroke-width="0.12">3</text>
<text x="247.90" y="276.41" font-size="7.0" text-anchor="end" fill="#222" stroke="#222" stroke-width="0.18">10</text>
<text x="248.70" y="274.10" font-size="4.4" fill="#222" stroke="#222" stroke-width="0.12">4</text>
<text x="262.30" y="276.41" font-size="7.0" text-anchor="end" fill="#222" stroke="#222" stroke-width="0.18">10</text>
<text x="263.10" y="274.10" font-size="4.4" fill="#222" stroke="#222" stroke-width="0.12">5</text>
<g fill="none" stroke-width="0.5">
<path d="M79.8,329.2 77.3,329.0 74.5,328.5 72.0,327.8 69.3,326.5 67.0,325.0 65.3,323.5 64.0,321.9 62.3,319.3 61.5,318.6 60.5,318.6 59.3,318.8 56.0,320.2 54.5,320.6 52.8,320.4 51.0,319.5 49.4,317.6 48.6,315.4 48.6,313.9 48.9,312.4 48.4,310.4 48.3,308.4 48.6,306.6 49.4,305.1 50.5,304.0 51.8,303.5 53.5,303.5 54.8,304.0 56.0,305.1 56.7,306.4 57.2,307.9 57.3,309.8 57.5,310.0 60.6,309.4 62.8,307.1 65.0,305.8 74.0,303.7 77.3,303.5 80.5,304.0 83.3,304.9 85.8,306.5 87.4,307.9 88.7,309.6 89.6,311.4 90.2,313.1 90.5,316.6 89.6,323.6 88.5,325.9 86.3,327.7 83.3,328.8 79.8,329.2M50.9,310.4 52.5,309.8 55.0,309.7 55.3,309.3 55.3,307.8 54.8,306.6 54.1,305.9 53.0,305.5 52.3,305.5 51.3,305.9 50.5,306.7 50.0,307.9 50.0,309.4 50.3,310.2 50.5,310.4 50.9,310.4" stroke="#b9b9b9"/>
<path d="M81.0,328.9 78.3,328.9 75.3,328.5 72.5,327.8 69.8,326.6 67.3,325.0 65.5,323.4 63.8,321.4 62.3,318.9 61.5,318.3 59.4,318.4 55.5,319.7 54.3,319.9 52.5,319.7 51.0,318.8 49.6,317.1 48.9,315.1 49.1,312.6 48.4,310.1 48.3,308.1 48.6,306.6 49.4,305.1 50.3,304.3 51.8,303.5 53.5,303.5 54.8,304.1 56.0,305.1 56.7,306.4 57.1,308.1 57.3,310.1 57.5,310.3 59.8,310.1 61.5,309.6 63.5,307.4 65.8,306.1 70.3,304.7 74.0,304.0 77.0,303.8 80.0,304.1 83.0,305.1 85.5,306.6 87.0,307.9 88.4,309.6 89.3,311.4 89.9,313.1 90.3,316.4 89.5,323.1 88.6,325.4 86.8,327.2 84.3,328.3 81.0,328.9M51.0,310.6 52.8,310.1 54.8,310.1 55.3,309.6 55.3,307.6 54.8,306.6 53.8,305.6 52.8,305.4 51.6,305.6 50.3,307.1 50.0,308.1 50.0,309.7 50.5,310.6 51.0,310.6" stroke="#acacac"/>
<path d="M81.5,328.7 78.8,328.8 76.0,328.5 73.0,327.7 70.0,326.5 67.8,325.1 65.8,323.4 64.1,321.4 62.5,318.7 61.5,318.0 59.8,317.9 54.3,319.3 52.8,319.1 51.3,318.4 50.2,317.4 49.4,315.9 49.2,314.6 49.3,312.6 48.4,309.9 48.4,307.6 49.3,305.4 50.3,304.3 51.8,303.6 53.3,303.5 54.5,304.0 55.7,304.9 56.6,306.4 57.1,308.4 57.1,310.4 57.5,310.7 60.3,310.5 62.0,310.1 62.8,309.6 64.3,307.7 65.8,306.7 69.8,305.2 73.8,304.3 76.8,304.0 79.8,304.3 82.5,305.2 85.0,306.6 86.6,307.9 87.9,309.4 88.9,311.1 89.6,313.1 90.0,316.1 89.4,322.4 88.7,324.6 87.0,326.7 84.5,328.0 81.5,328.7M51.1,310.9 52.8,310.3 54.8,310.4 55.3,309.8 55.5,308.6 55.3,307.5 54.8,306.5 53.9,305.6 53.0,305.4 52.0,305.4 51.2,305.9 50.3,307.0 49.9,308.4 50.0,309.9 50.5,310.8 51.1,310.9" stroke="#9f9f9f"/>
<path d="M82.0,328.4 79.0,328.6 76.0,328.3 73.0,327.5 70.0,326.3 67.8,324.9 65.8,323.1 64.2,321.1 62.5,318.3 61.5,317.5 60.0,317.4 54.0,318.6 52.5,318.4 51.3,317.8 50.3,316.8 49.7,315.6 49.5,314.6 49.6,312.9 48.4,309.9 48.5,307.6 49.4,305.4 50.5,304.2 52.0,303.6 53.3,303.5 54.8,304.2 55.8,305.1 56.7,306.6 57.0,308.1 57.0,310.9 57.5,311.1 60.5,311.0 62.8,310.5 63.7,309.9 65.2,307.9 66.7,306.9 70.0,305.5 73.8,304.6 76.8,304.3 79.5,304.6 82.3,305.4 84.8,306.8 86.3,308.1 87.5,309.5 88.5,311.1 89.2,312.9 89.6,315.9 89.2,321.9 88.5,324.4 87.0,326.3 85.0,327.6 82.0,328.4M51.3,311.1 52.8,310.6 54.8,310.6 55.3,310.0 55.5,308.6 55.3,307.3 54.5,306.1 53.4,305.4 52.3,305.3 51.4,305.6 50.5,306.5 50.0,307.4 49.9,308.6 50.0,310.0 50.5,310.9 51.3,311.1" stroke="#929292"/>
<path d="M82.0,328.2 78.8,328.4 75.5,328.0 72.3,327.1 69.5,325.8 67.5,324.4 65.8,322.9 64.5,321.1 62.5,317.7 61.0,316.6 60.3,316.5 57.5,317.4 54.5,318.1 53.0,318.0 51.5,317.4 50.7,316.6 50.1,315.6 49.8,313.1 48.9,311.4 48.4,309.6 48.6,307.1 49.4,305.4 50.5,304.3 51.8,303.7 53.3,303.6 54.8,304.2 56.0,305.4 56.7,306.9 57.0,308.6 56.8,311.4 57.3,311.6 59.3,311.9 61.3,311.7 63.3,311.1 64.3,310.3 65.7,308.4 67.0,307.3 69.8,306.0 73.3,305.0 76.3,304.7 79.3,304.9 82.0,305.7 84.5,307.1 87.2,309.6 88.1,311.1 88.8,312.9 89.2,315.9 88.9,321.9 88.2,324.4 86.8,326.1 84.5,327.5 82.0,328.2M51.4,311.4 52.8,310.9 54.5,310.9 55.3,310.2 55.6,308.6 55.3,307.2 54.5,306.1 53.6,305.4 52.5,305.3 51.3,305.6 50.5,306.4 50.0,307.3 49.8,308.6 50.0,310.2 50.5,311.0 51.4,311.4" stroke="#868686"/>
<path d="M55.3,317.4 52.8,317.5 51.0,316.5 50.3,315.1 50.1,313.4 48.6,310.4 48.5,308.4 48.9,306.4 50.0,304.8 51.8,303.7 53.5,303.7 54.8,304.3 55.9,305.4 56.7,307.1 57.0,309.1 56.6,311.9 58.2,313.4 58.5,314.4 58.5,315.4 58.1,316.1 57.4,316.6 55.3,317.4M80.3,328.2 75.5,327.8 71.0,326.3 69.0,325.2 67.0,323.8 65.7,322.4 64.4,320.6 62.1,316.1 62.0,315.1 62.2,313.6 62.7,312.6 64.8,310.7 66.3,308.6 68.0,307.3 70.5,306.2 73.5,305.4 76.5,305.1 79.3,305.3 81.8,306.1 84.0,307.3 86.0,308.9 87.4,310.9 88.4,313.1 88.8,315.4 88.7,321.4 88.1,323.9 86.9,325.6 85.3,326.9 83.0,327.7 80.3,328.2M52.3,311.4 54.5,311.2 55.3,310.3 55.6,309.1 55.5,307.8 55.0,306.6 54.2,305.6 52.8,305.2 51.7,305.4 50.8,306.0 50.0,307.2 49.8,308.1 49.8,309.5 50.5,311.1 51.3,311.6 52.3,311.4" stroke="#797979"/>
<path d="M55.0,316.9 53.0,317.1 52.0,316.7 51.3,316.2 50.7,315.1 50.5,313.6 49.2,311.6 48.7,310.4 48.5,308.4 49.1,306.1 50.3,304.6 51.8,303.8 53.3,303.7 54.8,304.4 56.0,305.6 56.7,307.1 56.9,309.4 56.2,312.4 57.0,313.9 57.0,315.1 56.4,316.1 55.0,316.9M52.7,311.6 54.0,311.5 54.8,311.1 55.5,309.8 55.7,308.9 55.5,307.6 54.8,306.1 53.9,305.4 52.8,305.1 51.5,305.4 50.6,306.1 50.0,307.1 49.7,308.6 49.8,309.8 50.5,311.2 51.5,311.8 52.7,311.6M80.5,327.9 76.0,327.7 73.5,327.1 71.3,326.2 69.0,325.0 67.3,323.7 66.0,322.4 64.7,320.6 62.9,316.4 62.8,315.4 63.0,314.1 63.8,312.6 66.8,309.1 68.8,307.5 71.3,306.4 74.0,305.8 76.8,305.6 79.3,305.9 81.8,306.6 83.8,307.8 85.5,309.3 86.9,311.1 87.8,313.1 88.2,315.4 88.4,320.6 87.9,323.4 86.9,325.1 85.3,326.5 83.0,327.5 80.5,327.9" stroke="#6c6c6c"/>
<path d="M54.5,316.5 52.8,316.5 51.5,315.8 51.1,314.9 50.9,313.9 49.4,311.9 48.7,310.1 48.6,307.9 49.2,306.1 50.5,304.5 52.0,303.8 53.3,303.8 54.8,304.5 55.9,305.6 56.7,307.4 56.7,310.1 55.8,312.9 56.1,314.9 55.5,315.9 54.5,316.5M53.3,311.9 54.3,311.6 55.3,310.6 55.7,309.4 55.7,308.1 55.3,306.8 54.5,305.8 53.4,305.1 52.3,305.1 51.0,305.6 50.3,306.5 49.8,307.6 49.7,309.4 50.0,310.6 50.9,311.6 51.8,312.0 53.3,311.9M80.5,327.7 76.0,327.4 73.5,326.8 71.3,326.0 69.3,324.9 67.5,323.6 66.1,322.1 64.9,320.4 63.5,316.6 63.4,315.4 63.7,314.1 64.5,312.6 67.3,309.5 69.3,307.9 71.5,306.9 74.0,306.4 76.5,306.2 79.0,306.5 81.3,307.2 83.4,308.4 85.0,309.9 86.3,311.6 87.2,314.1 87.9,318.9 88.0,321.1 87.7,323.1 86.7,324.9 85.0,326.3 83.0,327.2 80.5,327.7" stroke="#606060"/>
<path d="M54.0,316.0 52.8,316.0 51.9,315.4 51.2,313.9 49.5,311.9 48.7,309.6 48.7,307.6 49.4,305.9 50.5,304.6 52.3,303.8 53.8,304.0 55.0,304.7 56.2,306.1 56.7,307.9 56.7,310.1 56.2,311.6 55.3,313.4 55.2,314.9 54.8,315.5 54.0,316.0M53.2,312.1 54.1,311.9 55.0,311.1 55.6,310.1 55.8,308.4 55.5,307.2 54.7,305.9 53.6,305.1 52.5,305.0 51.3,305.4 50.3,306.3 49.7,307.6 49.6,309.1 50.0,310.6 50.8,311.7 51.8,312.2 53.2,312.1M80.3,327.4 78.0,327.4 75.5,327.1 71.3,325.7 67.7,323.4 66.3,321.9 65.3,320.4 63.9,316.6 64.2,314.4 65.5,312.3 68.3,309.6 69.9,308.4 71.8,307.6 74.0,307.2 76.3,307.2 78.8,307.6 80.9,308.4 82.6,309.4 84.0,310.8 85.2,312.4 86.5,315.8 87.4,318.6 87.7,320.9 87.4,322.9 86.4,324.6 84.8,326.1 82.8,326.9 80.3,327.4" stroke="#535353"/>
<path d="M53.8,315.2 52.8,315.1 50.3,312.9 49.3,311.4 48.8,309.6 48.8,307.9 49.5,305.9 50.8,304.5 52.3,303.9 53.8,304.1 55.0,304.8 56.1,306.1 56.6,307.9 56.7,309.6 56.2,311.4 54.5,313.9 54.3,314.7 53.8,315.2M53.8,312.1 54.8,311.5 55.5,310.5 55.9,309.1 55.8,307.9 55.3,306.5 54.3,305.4 53.0,304.9 52.0,305.0 50.8,305.6 50.0,306.6 49.5,308.1 49.6,309.9 50.3,311.3 51.3,312.1 52.5,312.4 53.8,312.1M79.0,327.2 75.0,326.7 71.0,325.3 67.8,323.1 66.5,321.6 65.5,320.1 64.4,316.6 64.8,314.4 66.3,312.3 70.0,309.5 71.5,308.9 73.3,308.6 74.8,308.8 76.3,309.2 83.3,313.6 85.0,315.2 86.3,317.1 87.0,318.9 87.2,320.9 87.0,322.6 86.2,324.1 85.0,325.4 83.3,326.4 81.3,326.9 79.0,327.2" stroke="#464646"/>
<path d="M53.8,314.0 52.3,314.0 50.8,313.2 49.5,311.6 48.9,309.9 48.9,307.9 49.4,306.1 50.5,304.8 52.0,304.1 53.5,304.1 55.0,304.9 56.0,306.3 56.6,307.9 56.6,309.6 56.1,311.4 55.0,313.0 53.8,314.0M53.5,312.4 54.8,311.7 55.6,310.6 55.9,309.4 55.9,307.9 55.3,306.4 54.5,305.5 53.3,304.8 52.3,304.8 51.0,305.3 50.0,306.4 49.5,307.9 49.5,309.6 49.9,310.9 50.8,312.0 52.0,312.5 53.5,312.4M80.5,326.7 77.3,326.7 73.8,326.0 70.5,324.7 68.1,322.9 66.1,320.4 65.1,317.4 65.1,315.1 66.3,313.1 68.0,311.7 69.8,310.8 71.5,310.4 73.3,310.5 76.3,311.3 79.5,312.6 82.3,314.1 84.3,315.6 85.7,317.4 86.5,319.1 86.7,320.9 86.4,322.6 85.6,324.1 84.3,325.3 82.5,326.2 80.5,326.7M78.1,321.1 78.4,320.6 78.0,320.4 77.5,320.9 77.5,321.2 78.1,321.1" stroke="#3a3a3a"/>
<path d="M53.8,313.7 52.3,313.8 51.0,313.2 49.8,311.9 49.0,309.9 49.0,307.6 49.5,306.2 50.7,304.9 52.3,304.2 53.8,304.4 55.0,305.1 55.8,306.1 56.4,307.6 56.5,309.4 56.1,311.1 55.0,312.8 53.8,313.7M52.8,312.6 54.3,312.2 55.2,311.4 55.9,310.1 56.1,308.6 55.7,306.9 54.9,305.6 53.8,304.8 52.5,304.6 51.3,305.0 50.2,305.9 49.5,307.4 49.3,308.9 49.5,310.1 50.3,311.6 51.5,312.5 52.8,312.6M80.3,326.2 77.0,326.3 73.8,325.6 70.8,324.4 68.5,322.8 66.7,320.4 65.8,317.6 65.8,315.4 66.8,313.6 68.3,312.4 69.8,311.7 71.5,311.4 73.8,311.5 76.8,312.3 79.5,313.3 81.8,314.6 83.8,316.1 85.1,317.6 85.9,319.1 86.1,320.9 85.8,322.4 85.0,323.8 83.8,324.9 82.3,325.7 80.3,326.2M78.8,323.4 79.8,323.1 80.7,322.6 81.2,321.9 81.4,321.1 80.9,319.4 79.4,317.6 77.1,316.4 74.5,315.9 72.1,316.1 70.6,317.1 70.2,317.9 70.3,318.9 70.8,319.8 71.8,320.6 75.7,322.9 77.3,323.4 78.8,323.4" stroke="#2d2d2d"/>
<path d="M55.8,311.3 55.8,310.9 55.8,311.3M53.0,313.7 51.3,313.2 50.5,312.4 50.5,312.2 51.8,312.7 53.0,312.8 54.3,312.4 55.5,311.3 55.7,311.4 54.5,313.0 53.0,313.7M50.3,312.2 50.5,312.1 50.3,312.2M78.3,325.4 75.8,325.4 73.3,324.9 70.5,323.7 68.8,322.1 67.5,320.0 66.8,316.6 67.0,315.0 68.0,313.6 69.3,312.8 71.0,312.3 72.8,312.2 75.0,312.5 77.8,313.4 80.1,314.4 82.1,315.6 83.7,317.1 84.9,318.9 85.1,320.9 84.5,322.4 83.8,323.1 83.0,323.4 82.9,321.1 82.1,319.1 80.5,317.4 78.3,316.0 75.5,315.1 72.8,315.0 70.4,315.6 68.9,316.9 68.5,317.6 68.5,318.4 68.9,319.4 69.6,320.1 71.6,321.6 75.3,323.8 77.3,324.5 79.3,324.9 79.4,325.1 78.3,325.4" stroke="#202020"/>
<path d="M53.0,313.4 52.0,313.1 54.2,312.9 53.0,313.4" stroke="#141414"/>
</g>
<line x1="61.199999999999996" y1="288.4" x2="61.199999999999996" y2="347.4" stroke="#555" stroke-width="0.9"/>
<line x1="45.8" y1="315.4" x2="104.8" y2="315.4" stroke="#555" stroke-width="0.9"/>
<rect x="45.8" y="288.4" width="59" height="59" fill="none" stroke="#1a1a1a" stroke-width="1.1"/>
<text x="46.90" y="298.13" font-size="8.0" text-anchor="start" fill="#d2283f" font-weight="normal" textLength="14.8" lengthAdjust="spacingAndGlyphs" stroke="#d2283f" stroke-width="0.2">20.8</text>
<text x="99.00" y="298.13" font-size="8.0" text-anchor="end" fill="#d2283f" font-weight="normal" textLength="14.8" lengthAdjust="spacingAndGlyphs" stroke="#d2283f" stroke-width="0.2">33.3</text>
<text x="46.90" y="342.58" font-size="8.0" text-anchor="start" fill="#d2283f" font-weight="normal" textLength="14.8" lengthAdjust="spacingAndGlyphs" stroke="#d2283f" stroke-width="0.2">7.51</text>
<text x="99.00" y="342.58" font-size="8.0" text-anchor="end" fill="#d2283f" font-weight="normal" textLength="14.8" lengthAdjust="spacingAndGlyphs" stroke="#d2283f" stroke-width="0.2">38.4</text>
<line x1="43.0" y1="293.7" x2="45.8" y2="293.7" stroke="#333" stroke-width="0.6"/>
<text x="38.80" y="296.21" font-size="7.0" text-anchor="end" fill="#222" stroke="#222" stroke-width="0.18">10</text>
<text x="39.60" y="293.90" font-size="4.4" fill="#222" stroke="#222" stroke-width="0.12">5</text>
<line x1="43.0" y1="307.4" x2="45.8" y2="307.4" stroke="#333" stroke-width="0.6"/>
<text x="38.80" y="309.91" font-size="7.0" text-anchor="end" fill="#222" stroke="#222" stroke-width="0.18">10</text>
<text x="39.60" y="307.60" font-size="4.4" fill="#222" stroke="#222" stroke-width="0.12">4</text>
<line x1="43.0" y1="320.4" x2="45.8" y2="320.4" stroke="#333" stroke-width="0.6"/>
<text x="38.80" y="322.91" font-size="7.0" text-anchor="end" fill="#222" stroke="#222" stroke-width="0.18">10</text>
<text x="39.60" y="320.60" font-size="4.4" fill="#222" stroke="#222" stroke-width="0.12">3</text>
<line x1="43.0" y1="333.7" x2="45.8" y2="333.7" stroke="#333" stroke-width="0.6"/>
<text x="38.80" y="336.21" font-size="7.0" text-anchor="end" fill="#222" stroke="#222" stroke-width="0.18">10</text>
<text x="39.60" y="333.90" font-size="4.4" fill="#222" stroke="#222" stroke-width="0.12">2</text>
<line x1="43.0" y1="345.0" x2="45.8" y2="345.0" stroke="#333" stroke-width="0.6"/>
<text x="38.80" y="347.52" font-size="7.0" text-anchor="end" fill="#222" font-weight="normal" stroke="#222" stroke-width="0.18">0</text>
<line x1="44.4" y1="296.4" x2="45.8" y2="296.4" stroke="#555" stroke-width="0.4"/>
<line x1="44.4" y1="298.4" x2="45.8" y2="298.4" stroke="#555" stroke-width="0.4"/>
<line x1="44.4" y1="300.4" x2="45.8" y2="300.4" stroke="#555" stroke-width="0.4"/>
<line x1="44.4" y1="310.4" x2="45.8" y2="310.4" stroke="#555" stroke-width="0.4"/>
<line x1="44.4" y1="312.4" x2="45.8" y2="312.4" stroke="#555" stroke-width="0.4"/>
<line x1="44.4" y1="314.4" x2="45.8" y2="314.4" stroke="#555" stroke-width="0.4"/>
<line x1="44.4" y1="323.4" x2="45.8" y2="323.4" stroke="#555" stroke-width="0.4"/>
<line x1="44.4" y1="325.4" x2="45.8" y2="325.4" stroke="#555" stroke-width="0.4"/>
<line x1="44.4" y1="327.4" x2="45.8" y2="327.4" stroke="#555" stroke-width="0.4"/>
<line x1="44.4" y1="336.4" x2="45.8" y2="336.4" stroke="#555" stroke-width="0.4"/>
<line x1="44.4" y1="338.4" x2="45.8" y2="338.4" stroke="#555" stroke-width="0.4"/>
<line x1="44.4" y1="341.4" x2="45.8" y2="341.4" stroke="#555" stroke-width="0.4"/>
<line x1="51.4" y1="347.4" x2="51.4" y2="350.0" stroke="#333" stroke-width="0.6"/>
<line x1="72.1" y1="347.4" x2="72.1" y2="350.0" stroke="#333" stroke-width="0.6"/>
<line x1="86.0" y1="347.4" x2="86.0" y2="350.0" stroke="#333" stroke-width="0.6"/>
<line x1="99.3" y1="347.4" x2="99.3" y2="350.0" stroke="#333" stroke-width="0.6"/>
<line x1="59.8" y1="347.4" x2="59.8" y2="348.7" stroke="#555" stroke-width="0.4"/>
<line x1="62.8" y1="347.4" x2="62.8" y2="348.7" stroke="#555" stroke-width="0.4"/>
<line x1="64.8" y1="347.4" x2="64.8" y2="348.7" stroke="#555" stroke-width="0.4"/>
<line x1="66.8" y1="347.4" x2="66.8" y2="348.7" stroke="#555" stroke-width="0.4"/>
<line x1="68.8" y1="347.4" x2="68.8" y2="348.7" stroke="#555" stroke-width="0.4"/>
<line x1="74.8" y1="347.4" x2="74.8" y2="348.7" stroke="#555" stroke-width="0.4"/>
<line x1="76.8" y1="347.4" x2="76.8" y2="348.7" stroke="#555" stroke-width="0.4"/>
<line x1="78.8" y1="347.4" x2="78.8" y2="348.7" stroke="#555" stroke-width="0.4"/>
<line x1="80.8" y1="347.4" x2="80.8" y2="348.7" stroke="#555" stroke-width="0.4"/>
<line x1="82.8" y1="347.4" x2="82.8" y2="348.7" stroke="#555" stroke-width="0.4"/>
<line x1="88.8" y1="347.4" x2="88.8" y2="348.7" stroke="#555" stroke-width="0.4"/>
<line x1="90.8" y1="347.4" x2="90.8" y2="348.7" stroke="#555" stroke-width="0.4"/>
<line x1="92.8" y1="347.4" x2="92.8" y2="348.7" stroke="#555" stroke-width="0.4"/>
<line x1="94.8" y1="347.4" x2="94.8" y2="348.7" stroke="#555" stroke-width="0.4"/>
<line x1="96.8" y1="347.4" x2="96.8" y2="348.7" stroke="#555" stroke-width="0.4"/>
<text x="52.20" y="356.22" font-size="7.0" text-anchor="middle" fill="#222" font-weight="normal" stroke="#222" stroke-width="0.18">0</text>
<text x="75.00" y="358.21" font-size="7.0" text-anchor="end" fill="#222" stroke="#222" stroke-width="0.18">10</text>
<text x="75.80" y="355.90" font-size="4.4" fill="#222" stroke="#222" stroke-width="0.12">3</text>
<text x="88.30" y="358.21" font-size="7.0" text-anchor="end" fill="#222" stroke="#222" stroke-width="0.18">10</text>
<text x="89.10" y="355.90" font-size="4.4" fill="#222" stroke="#222" stroke-width="0.12">4</text>
<text x="102.70" y="358.21" font-size="7.0" text-anchor="end" fill="#222" stroke="#222" stroke-width="0.18">10</text>
<text x="103.50" y="355.90" font-size="4.4" fill="#222" stroke="#222" stroke-width="0.12">5</text>
<g fill="none" stroke-width="0.5">
<path d="M163.2,331.2 160.4,331.3 157.4,330.8 154.4,329.8 150.9,328.0 148.4,326.3 146.2,324.4 144.5,322.1 142.9,319.3 142.2,318.6 141.2,318.5 139.5,318.9 136.4,320.5 134.9,320.9 132.9,320.7 130.9,319.7 129.7,318.5 128.8,316.9 127.5,310.1 127.4,308.4 127.7,306.9 128.7,304.6 130.2,303.2 131.4,302.6 132.9,302.3 134.4,302.6 135.7,303.2 136.7,304.1 137.6,305.4 138.9,307.9 139.4,308.5 139.9,308.6 140.7,308.3 142.9,306.7 144.7,306.0 150.7,304.5 154.2,304.0 157.2,304.0 159.9,304.5 162.4,305.5 164.4,306.7 166.6,308.9 168.0,311.1 168.9,313.6 169.1,316.6 168.3,321.1 168.5,325.4 168.0,327.6 167.3,328.9 166.2,330.0 164.7,330.8 163.2,331.2" stroke="#b9b9b9"/>
<path d="M163.2,330.9 160.2,331.1 157.2,330.5 154.2,329.5 150.9,327.8 148.4,326.1 146.3,324.1 144.5,321.9 142.9,318.9 142.2,318.3 141.2,318.2 139.4,318.6 135.9,320.0 134.7,320.3 132.7,320.1 130.9,319.2 129.7,317.9 128.9,316.4 127.6,309.6 127.8,306.9 128.3,305.6 129.1,304.4 130.4,303.2 131.4,302.7 133.2,302.5 134.7,302.8 135.9,303.6 136.7,304.4 137.8,306.1 138.7,308.7 139.0,309.1 139.7,309.4 140.9,309.1 143.0,307.4 145.2,306.3 150.7,304.8 153.9,304.2 156.9,304.2 159.4,304.6 161.9,305.5 164.4,307.0 166.5,309.1 167.8,311.4 168.7,314.1 168.9,316.6 168.1,321.1 168.3,325.4 167.9,327.4 167.1,328.6 166.1,329.6 164.7,330.5 163.2,330.9" stroke="#acacac"/>
<path d="M163.2,330.7 160.2,330.9 157.2,330.3 154.2,329.3 150.7,327.5 148.2,325.7 146.3,323.9 144.8,321.9 143.2,318.8 142.2,317.9 141.2,317.9 139.7,318.1 134.4,319.8 132.7,319.6 131.2,318.8 130.0,317.6 129.3,316.4 128.7,312.9 127.8,310.1 127.8,307.4 128.3,305.9 129.0,304.6 130.2,303.5 131.7,302.7 133.2,302.6 134.9,303.0 135.9,303.7 137.0,304.9 138.0,307.1 138.5,309.4 138.9,309.8 139.7,310.0 141.7,309.5 143.8,307.6 146.2,306.5 150.2,305.2 153.7,304.5 156.7,304.4 159.2,304.8 161.7,305.7 163.9,307.0 165.9,308.9 167.4,311.1 168.3,313.6 168.6,316.4 167.9,320.9 168.0,325.1 167.7,327.1 167.0,328.4 165.9,329.5 164.7,330.2 163.2,330.7" stroke="#9f9f9f"/>
<path d="M161.4,330.7 158.9,330.5 155.9,329.8 152.9,328.5 149.9,326.8 147.9,325.2 146.1,323.4 144.7,321.4 143.2,318.4 142.2,317.5 140.4,317.6 134.2,319.2 132.7,319.1 131.2,318.3 130.2,317.4 129.6,316.1 129.1,313.6 128.3,311.6 127.8,309.6 128.0,306.9 128.5,305.6 129.3,304.4 130.7,303.3 132.2,302.7 133.7,302.7 135.2,303.3 136.5,304.4 137.6,306.1 138.4,310.1 139.4,310.5 140.9,310.4 142.4,309.9 144.7,307.9 147.4,306.5 150.9,305.3 153.7,304.8 156.4,304.7 159.2,305.1 161.9,306.1 164.2,307.6 165.5,308.9 166.7,310.4 167.5,312.1 168.1,313.9 168.3,316.4 167.6,320.9 167.7,325.6 167.1,327.6 165.7,329.3 163.7,330.3 161.4,330.7" stroke="#929292"/>
<path d="M161.7,330.4 158.9,330.3 155.9,329.5 152.9,328.3 149.9,326.5 147.9,324.9 146.2,323.1 144.8,321.1 143.2,317.9 141.9,316.9 140.7,316.8 134.2,318.7 132.4,318.5 131.2,317.8 129.9,316.1 129.4,313.6 128.5,311.9 127.9,310.1 127.8,308.6 128.0,307.1 129.2,304.6 130.4,303.5 132.2,302.8 133.7,302.8 135.4,303.5 136.8,304.9 137.6,306.4 138.0,308.1 138.2,310.6 139.4,311.1 140.9,311.0 142.4,310.6 143.4,310.0 145.3,308.1 147.2,307.1 150.4,305.8 153.7,305.1 156.4,305.0 159.2,305.4 161.7,306.3 163.9,307.8 165.3,309.1 166.4,310.6 167.3,312.4 167.7,314.1 167.9,316.4 167.4,320.6 167.5,325.4 166.9,327.4 165.7,328.9 163.9,329.9 161.7,330.4" stroke="#868686"/>
<path d="M161.4,330.2 158.4,330.0 155.2,329.1 151.9,327.6 149.2,325.7 147.4,324.1 145.7,322.1 143.4,317.7 140.9,314.3 140.4,314.5 139.7,315.6 139.0,316.4 135.7,317.9 133.4,318.3 132.4,318.1 131.4,317.5 130.3,316.1 129.7,313.9 128.5,311.6 128.0,310.1 128.0,307.4 128.5,305.9 129.3,304.6 130.7,303.5 132.2,302.9 133.9,303.0 135.7,303.8 136.8,305.1 137.6,306.6 137.9,308.6 137.9,311.1 138.7,311.8 140.2,312.3 141.2,312.1 143.2,311.0 145.7,308.6 147.4,307.4 149.9,306.4 152.4,305.7 155.4,305.4 158.4,305.6 161.2,306.5 163.4,307.9 164.8,309.1 165.9,310.6 166.7,312.1 167.3,313.9 167.5,316.1 167.1,320.1 167.2,325.1 166.7,327.1 165.5,328.6 163.7,329.7 161.4,330.2" stroke="#797979"/>
<path d="M134.9,317.7 132.9,317.8 131.9,317.4 131.2,316.8 130.5,315.6 130.1,314.1 128.6,311.6 128.0,309.9 128.1,307.6 128.7,305.6 130.4,303.8 132.2,303.0 133.9,303.1 135.7,303.9 137.1,305.6 137.8,307.6 137.9,309.4 137.6,312.1 138.0,313.9 137.9,315.4 137.0,316.6 134.9,317.7M133.6,305.1 132.2,305.1 133.6,305.1M130.5,306.6 131.7,305.5 132.1,305.4 131.6,305.4 130.9,305.9 130.4,306.9 130.5,306.6M134.5,305.6 133.8,305.4 134.5,305.6M161.2,329.9 158.9,329.8 156.7,329.3 152.2,327.5 148.4,324.8 146.8,323.1 145.5,321.4 143.0,316.1 142.7,314.9 142.7,313.1 143.5,311.6 145.9,309.1 147.4,308.0 149.9,306.8 152.4,306.1 155.2,305.8 157.7,306.0 159.9,306.5 162.2,307.6 164.1,309.1 165.5,310.9 166.5,313.1 167.0,315.4 166.8,319.9 167.0,324.1 166.8,325.9 166.1,327.4 164.9,328.7 163.2,329.6 161.2,329.9M130.2,307.4 130.2,307.0 130.2,307.4M129.9,308.1 129.9,307.7 129.9,308.1" stroke="#6c6c6c"/>
<path d="M133.9,317.4 132.4,317.2 131.2,316.1 130.5,314.4 128.8,311.9 128.1,309.4 128.3,306.9 129.3,304.9 130.9,303.5 132.7,303.0 134.4,303.3 136.2,304.5 137.3,306.4 137.8,308.4 137.6,310.9 136.9,313.1 137.0,314.6 136.7,315.6 135.7,316.8 133.9,317.4M130.8,311.4 130.5,309.1 130.7,307.9 131.4,306.7 132.4,306.1 133.7,306.2 134.6,306.9 135.3,308.1 135.5,310.1 135.7,310.4 135.9,310.2 136.2,309.1 136.2,307.6 135.7,306.4 134.4,305.1 133.2,304.8 131.9,304.9 131.0,305.4 130.2,306.4 129.6,307.6 129.6,309.4 129.9,310.6 130.4,311.3 130.8,311.4M162.4,329.4 160.7,329.6 158.7,329.5 156.4,329.0 153.9,328.1 149.7,325.6 148.0,324.1 146.5,322.4 145.2,320.4 143.8,316.9 143.3,314.4 143.5,313.1 144.0,312.1 147.2,308.8 149.2,307.6 151.7,306.8 154.2,306.4 156.7,306.4 159.0,306.9 161.2,307.8 163.1,309.1 164.5,310.6 165.6,312.6 166.2,314.9 166.6,324.9 166.1,326.6 165.3,327.9 163.9,328.9 162.4,329.4" stroke="#606060"/>
<path d="M133.9,316.9 132.7,316.8 131.7,316.0 130.8,314.4 129.0,312.1 128.2,309.6 128.3,307.4 129.1,305.4 130.7,303.8 132.4,303.2 134.2,303.3 135.7,304.2 137.0,305.9 137.6,307.9 137.5,310.6 136.2,313.6 136.0,315.4 135.2,316.4 133.9,316.9M131.7,311.9 131.4,308.6 131.8,307.6 132.4,307.2 133.4,307.1 134.2,307.9 134.6,308.9 134.6,310.6 134.9,311.4 135.7,311.0 136.2,310.1 136.4,308.2 135.9,306.6 134.9,305.3 133.6,304.6 132.2,304.6 131.1,305.1 130.2,306.1 129.6,307.4 129.4,308.9 129.7,310.4 130.7,311.9 131.2,312.1 131.7,311.9M161.9,329.2 159.9,329.3 157.9,329.1 153.7,327.7 149.9,325.5 146.8,322.4 145.0,319.1 144.0,316.4 143.9,314.6 144.1,313.4 144.7,312.1 147.4,309.4 149.2,308.3 151.4,307.5 153.7,307.1 156.2,307.2 158.4,307.6 160.4,308.4 162.2,309.6 163.7,311.2 164.7,312.9 165.2,314.6 166.2,321.4 166.3,324.4 165.9,326.1 164.9,327.6 163.7,328.6 161.9,329.2" stroke="#535353"/>
<path d="M134.4,316.2 133.2,316.3 132.2,315.8 131.4,314.6 129.3,312.4 128.3,309.9 128.3,307.6 129.1,305.6 130.4,304.1 132.2,303.3 133.9,303.4 135.7,304.3 136.7,305.6 137.5,307.6 137.6,309.4 137.2,311.1 135.6,314.1 135.2,315.4 134.4,316.2M132.4,312.4 133.2,312.1 134.4,312.1 135.4,311.6 136.2,310.6 136.5,309.1 136.4,307.5 135.7,305.9 134.6,304.9 133.2,304.4 131.7,304.6 130.6,305.4 129.7,306.8 129.3,308.4 129.4,310.1 130.2,311.6 131.2,312.4 132.4,312.4M160.7,328.9 156.9,328.6 152.9,327.1 149.4,324.7 146.8,321.9 145.1,318.4 144.5,316.4 144.4,314.9 144.6,313.6 145.2,312.4 147.7,310.0 149.4,309.0 151.7,308.4 153.9,308.2 155.9,308.5 157.8,309.1 159.5,310.1 161.1,311.6 162.7,313.6 164.2,316.1 165.3,318.9 165.9,321.6 165.8,324.4 165.3,326.1 164.2,327.6 162.7,328.5 160.7,328.9" stroke="#464646"/>
<path d="M133.9,315.4 132.9,315.4 130.2,313.3 128.9,311.4 128.4,309.6 128.5,307.4 129.4,305.4 130.7,304.1 132.4,303.4 134.2,303.6 135.7,304.5 136.9,306.2 137.4,308.1 137.4,309.9 136.8,311.9 135.9,313.3 133.9,315.4M133.9,312.6 135.2,312.1 136.2,310.9 136.6,309.4 136.6,307.9 136.1,306.4 135.1,305.1 133.9,304.4 132.4,304.3 131.0,304.9 129.8,306.1 129.2,307.9 129.2,309.6 129.8,311.4 130.8,312.4 132.2,312.8 133.9,312.6M160.9,328.4 157.7,328.3 153.9,327.2 150.7,325.3 147.8,322.6 145.8,319.4 144.9,315.6 145.0,314.4 145.4,313.1 147.2,311.2 148.7,310.2 150.4,309.7 152.2,309.6 153.9,310.0 156.2,311.0 159.4,313.0 161.7,314.8 163.2,316.4 164.4,318.2 165.2,320.1 165.5,322.4 165.3,324.4 164.8,325.9 163.9,327.1 162.7,327.9 160.9,328.4" stroke="#3a3a3a"/>
<path d="M133.7,314.7 132.2,314.5 130.4,313.3 129.2,311.6 128.6,309.6 128.7,307.5 129.4,305.6 130.9,304.1 132.4,303.6 134.4,303.9 135.5,304.6 136.7,306.1 137.2,307.9 137.2,310.1 136.7,311.9 135.2,313.8 133.7,314.7M133.9,312.9 135.2,312.3 136.2,311.1 136.8,309.6 136.8,307.6 136.2,306.1 135.2,304.9 133.9,304.2 132.4,304.1 130.9,304.7 129.6,306.1 129.0,307.9 129.0,309.9 129.8,311.6 130.9,312.6 132.2,313.0 133.9,312.9M159.2,327.9 155.9,327.5 152.9,326.3 150.0,324.4 147.7,321.9 146.1,318.9 145.5,315.6 146.1,313.4 147.7,311.7 149.2,310.9 150.7,310.6 152.4,310.7 154.4,311.3 157.2,312.6 159.7,314.1 161.8,315.9 163.4,317.7 164.4,319.4 164.9,321.1 165.0,322.9 164.6,324.6 163.9,325.9 162.7,327.0 161.1,327.6 159.2,327.9M159.5,324.9 160.4,324.1 160.6,322.6 159.9,320.8 158.4,318.8 156.4,317.4 154.7,316.7 152.9,316.7 151.7,317.4 151.2,318.1 151.2,318.9 151.7,319.9 152.4,320.7 156.9,324.4 158.2,324.9 159.5,324.9" stroke="#2d2d2d"/>
<path d="M136.4,311.7 136.4,311.4 136.4,311.7M157.7,326.7 156.9,326.9 155.4,326.7 152.7,325.7 150.1,323.9 148.1,321.6 146.9,319.1 146.2,315.9 146.7,313.9 148.2,312.4 149.7,311.7 151.2,311.5 153.2,311.8 155.2,312.4 157.7,313.6 159.9,315.1 161.7,316.6 163.1,318.4 164.0,320.1 164.3,321.9 163.9,323.4 163.4,324.0 162.9,324.1 162.4,323.6 161.3,321.1 160.2,319.4 158.8,317.9 157.0,316.6 154.9,315.8 152.9,315.5 151.2,315.9 150.2,316.8 149.8,318.4 150.7,320.4 152.4,322.1 157.4,326.1 157.7,326.7M134.2,314.2 133.2,314.4 132.2,314.2 131.1,313.6 130.6,312.9 132.2,313.3 133.7,313.2 134.9,312.8 136.2,311.7 136.3,311.9 135.7,312.9 134.2,314.2" stroke="#202020"/>
<path d="M162.2,319.6 158.7,316.5 155.9,315.0 153.9,314.5 151.7,314.4 150.2,314.8 148.2,315.9 147.9,315.4 148.0,314.6 148.9,313.4 150.4,312.7 152.2,312.6 154.3,313.1 157.1,314.4 159.7,316.1 161.7,318.2 162.2,319.1 162.2,319.6M133.9,313.9 132.9,314.0 132.3,313.9 132.2,313.6 134.6,313.4 133.9,313.9M153.2,324.8 152.0,324.4 150.7,323.4 149.7,322.1 149.4,321.2 152.5,323.6 153.2,324.4 153.3,324.6 153.2,324.8" stroke="#141414"/>
</g>
<line x1="141.6" y1="288.4" x2="141.6" y2="347.4" stroke="#555" stroke-width="0.9"/>
<line x1="125.4" y1="315.59999999999997" x2="184.4" y2="315.59999999999997" stroke="#555" stroke-width="0.9"/>
<rect x="125.4" y="288.4" width="59" height="59" fill="none" stroke="#1a1a1a" stroke-width="1.1"/>
<text x="126.50" y="298.13" font-size="8.0" text-anchor="start" fill="#d2283f" font-weight="normal" textLength="14.8" lengthAdjust="spacingAndGlyphs" stroke="#d2283f" stroke-width="0.2">20.4</text>
<text x="178.60" y="298.13" font-size="8.0" text-anchor="end" fill="#d2283f" font-weight="normal" textLength="14.8" lengthAdjust="spacingAndGlyphs" stroke="#d2283f" stroke-width="0.2">31.4</text>
<text x="126.50" y="342.58" font-size="8.0" text-anchor="start" fill="#d2283f" font-weight="normal" textLength="14.8" lengthAdjust="spacingAndGlyphs" stroke="#d2283f" stroke-width="0.2">7.59</text>
<text x="178.60" y="342.58" font-size="8.0" text-anchor="end" fill="#d2283f" font-weight="normal" textLength="14.8" lengthAdjust="spacingAndGlyphs" stroke="#d2283f" stroke-width="0.2">40.6</text>
<line x1="122.60000000000001" y1="293.7" x2="125.4" y2="293.7" stroke="#333" stroke-width="0.6"/>
<text x="118.40" y="296.21" font-size="7.0" text-anchor="end" fill="#222" stroke="#222" stroke-width="0.18">10</text>
<text x="119.20" y="293.90" font-size="4.4" fill="#222" stroke="#222" stroke-width="0.12">5</text>
<line x1="122.60000000000001" y1="307.4" x2="125.4" y2="307.4" stroke="#333" stroke-width="0.6"/>
<text x="118.40" y="309.91" font-size="7.0" text-anchor="end" fill="#222" stroke="#222" stroke-width="0.18">10</text>
<text x="119.20" y="307.60" font-size="4.4" fill="#222" stroke="#222" stroke-width="0.12">4</text>
<line x1="122.60000000000001" y1="320.4" x2="125.4" y2="320.4" stroke="#333" stroke-width="0.6"/>
<text x="118.40" y="322.91" font-size="7.0" text-anchor="end" fill="#222" stroke="#222" stroke-width="0.18">10</text>
<text x="119.20" y="320.60" font-size="4.4" fill="#222" stroke="#222" stroke-width="0.12">3</text>
<line x1="122.60000000000001" y1="333.7" x2="125.4" y2="333.7" stroke="#333" stroke-width="0.6"/>
<text x="118.40" y="336.21" font-size="7.0" text-anchor="end" fill="#222" stroke="#222" stroke-width="0.18">10</text>
<text x="119.20" y="333.90" font-size="4.4" fill="#222" stroke="#222" stroke-width="0.12">2</text>
<line x1="122.60000000000001" y1="345.0" x2="125.4" y2="345.0" stroke="#333" stroke-width="0.6"/>
<text x="118.40" y="347.52" font-size="7.0" text-anchor="end" fill="#222" font-weight="normal" stroke="#222" stroke-width="0.18">0</text>
<line x1="124.0" y1="296.4" x2="125.4" y2="296.4" stroke="#555" stroke-width="0.4"/>
<line x1="124.0" y1="298.4" x2="125.4" y2="298.4" stroke="#555" stroke-width="0.4"/>
<line x1="124.0" y1="300.4" x2="125.4" y2="300.4" stroke="#555" stroke-width="0.4"/>
<line x1="124.0" y1="310.4" x2="125.4" y2="310.4" stroke="#555" stroke-width="0.4"/>
<line x1="124.0" y1="312.4" x2="125.4" y2="312.4" stroke="#555" stroke-width="0.4"/>
<line x1="124.0" y1="314.4" x2="125.4" y2="314.4" stroke="#555" stroke-width="0.4"/>
<line x1="124.0" y1="323.4" x2="125.4" y2="323.4" stroke="#555" stroke-width="0.4"/>
<line x1="124.0" y1="325.4" x2="125.4" y2="325.4" stroke="#555" stroke-width="0.4"/>
<line x1="124.0" y1="327.4" x2="125.4" y2="327.4" stroke="#555" stroke-width="0.4"/>
<line x1="124.0" y1="336.4" x2="125.4" y2="336.4" stroke="#555" stroke-width="0.4"/>
<line x1="124.0" y1="338.4" x2="125.4" y2="338.4" stroke="#555" stroke-width="0.4"/>
<line x1="124.0" y1="341.4" x2="125.4" y2="341.4" stroke="#555" stroke-width="0.4"/>
<line x1="131.0" y1="347.4" x2="131.0" y2="350.0" stroke="#333" stroke-width="0.6"/>
<line x1="151.70000000000002" y1="347.4" x2="151.70000000000002" y2="350.0" stroke="#333" stroke-width="0.6"/>
<line x1="165.60000000000002" y1="347.4" x2="165.60000000000002" y2="350.0" stroke="#333" stroke-width="0.6"/>
<line x1="178.9" y1="347.4" x2="178.9" y2="350.0" stroke="#333" stroke-width="0.6"/>
<line x1="139.4" y1="347.4" x2="139.4" y2="348.7" stroke="#555" stroke-width="0.4"/>
<line x1="142.4" y1="347.4" x2="142.4" y2="348.7" stroke="#555" stroke-width="0.4"/>
<line x1="144.4" y1="347.4" x2="144.4" y2="348.7" stroke="#555" stroke-width="0.4"/>
<line x1="146.4" y1="347.4" x2="146.4" y2="348.7" stroke="#555" stroke-width="0.4"/>
<line x1="148.4" y1="347.4" x2="148.4" y2="348.7" stroke="#555" stroke-width="0.4"/>
<line x1="154.4" y1="347.4" x2="154.4" y2="348.7" stroke="#555" stroke-width="0.4"/>
<line x1="156.4" y1="347.4" x2="156.4" y2="348.7" stroke="#555" stroke-width="0.4"/>
<line x1="158.4" y1="347.4" x2="158.4" y2="348.7" stroke="#555" stroke-width="0.4"/>
<line x1="160.4" y1="347.4" x2="160.4" y2="348.7" stroke="#555" stroke-width="0.4"/>
<line x1="162.4" y1="347.4" x2="162.4" y2="348.7" stroke="#555" stroke-width="0.4"/>
<line x1="168.4" y1="347.4" x2="168.4" y2="348.7" stroke="#555" stroke-width="0.4"/>
<line x1="170.4" y1="347.4" x2="170.4" y2="348.7" stroke="#555" stroke-width="0.4"/>
<line x1="172.4" y1="347.4" x2="172.4" y2="348.7" stroke="#555" stroke-width="0.4"/>
<line x1="174.4" y1="347.4" x2="174.4" y2="348.7" stroke="#555" stroke-width="0.4"/>
<line x1="176.4" y1="347.4" x2="176.4" y2="348.7" stroke="#555" stroke-width="0.4"/>
<text x="131.80" y="356.22" font-size="7.0" text-anchor="middle" fill="#222" font-weight="normal" stroke="#222" stroke-width="0.18">0</text>
<text x="154.60" y="358.21" font-size="7.0" text-anchor="end" fill="#222" stroke="#222" stroke-width="0.18">10</text>
<text x="155.40" y="355.90" font-size="4.4" fill="#222" stroke="#222" stroke-width="0.12">3</text>
<text x="167.90" y="358.21" font-size="7.0" text-anchor="end" fill="#222" stroke="#222" stroke-width="0.18">10</text>
<text x="168.70" y="355.90" font-size="4.4" fill="#222" stroke="#222" stroke-width="0.12">4</text>
<text x="182.30" y="358.21" font-size="7.0" text-anchor="end" fill="#222" stroke="#222" stroke-width="0.18">10</text>
<text x="183.10" y="355.90" font-size="4.4" fill="#222" stroke="#222" stroke-width="0.12">5</text>
<g fill="none" stroke-width="0.5">
<path d="M205.6,302.8 207.1,301.1 208.8,299.9 210.8,299.2 212.8,299.0 215.3,299.5 217.6,300.9 219.4,302.9 221.3,306.1 222.1,306.6 223.3,306.5 228.3,304.8 231.3,304.3 235.6,304.2 239.3,304.8 243.1,306.0 246.1,308.0 247.3,309.1 248.1,310.4 248.7,311.9 248.8,313.1 248.6,314.9 247.4,318.9 247.8,322.6 247.6,324.4 246.3,326.4 244.3,327.6 242.6,328.0 240.6,328.1 238.6,327.8 236.6,327.1 233.8,325.7 229.2,322.4 221.8,318.6 220.3,318.2 219.6,318.5 218.7,319.1 216.4,321.4 215.5,322.6 215.0,324.1 214.4,329.6 213.8,332.6 212.7,335.1 211.3,336.7 210.6,337.1 209.6,337.2 208.6,336.7 207.8,335.9 206.5,333.4 205.6,329.8" stroke="#b9b9b9"/>
<path d="M205.6,303.7 207.1,301.8 208.8,300.5 210.8,299.7 212.8,299.5 215.1,300.0 217.3,301.4 219.2,303.4 220.9,306.4 221.8,307.1 223.1,307.0 227.8,305.2 231.1,304.6 235.1,304.4 239.1,305.0 242.8,306.2 245.8,308.1 247.7,310.4 248.2,311.6 248.4,313.1 248.2,314.9 246.8,319.1 247.0,322.6 246.6,324.4 246.0,325.4 245.1,326.3 242.6,327.3 239.6,327.3 236.6,326.5 234.3,325.4 230.4,322.6 221.6,318.0 220.3,317.6 219.3,318.0 216.1,320.9 215.1,322.4 214.6,324.3 214.0,329.9 213.4,332.4 212.1,335.1 211.3,335.8 210.3,336.3 209.1,336.1 208.1,335.3 207.2,333.9 206.4,331.9 205.7,327.6 205.6,319.8" stroke="#adadad"/>
<path d="M205.6,304.6 207.0,302.6 208.6,301.3 210.6,300.4 212.6,300.1 214.8,300.5 217.1,301.8 219.0,303.9 220.8,307.3 221.6,307.7 222.8,307.5 227.6,305.6 230.3,305.0 234.3,304.7 238.3,305.1 242.1,306.2 245.3,308.1 247.2,310.4 247.7,311.6 248.0,313.1 247.7,315.1 246.1,319.4 246.1,322.6 245.8,323.9 245.2,324.9 244.3,325.7 243.1,326.3 241.8,326.6 239.3,326.6 236.6,325.8 230.9,322.4 224.8,319.5 221.3,317.3 220.3,317.0 219.3,317.3 215.9,320.4 214.8,321.7 214.3,323.4 213.8,328.9 213.0,332.1 211.6,334.6 210.8,335.2 210.1,335.4 209.1,335.2 208.1,334.3 207.3,332.9 206.6,330.9 206.1,326.9 206.1,320.1 205.6,317.5" stroke="#a1a1a1"/>
<path d="M205.6,305.4 207.1,303.2 209.1,301.6 211.3,300.8 213.6,300.7 215.8,301.6 217.6,302.9 219.0,304.6 220.6,307.9 221.1,308.4 222.1,308.3 226.6,306.3 230.1,305.3 233.8,305.0 237.8,305.3 241.8,306.5 244.8,308.3 246.0,309.4 246.8,310.6 247.3,311.9 247.5,313.1 247.1,315.4 245.4,319.6 245.1,322.4 244.7,323.6 243.3,325.1 241.1,325.8 238.8,325.7 236.6,325.0 231.9,322.4 225.6,319.5 221.1,316.5 220.3,316.2 219.6,316.4 215.3,320.1 214.3,321.4 213.8,323.0 213.4,328.1 212.8,331.1 211.6,333.5 210.8,334.2 210.1,334.4 209.1,334.1 208.3,333.4 207.5,331.9 206.9,330.1 206.5,326.4 206.5,319.6 205.6,316.1" stroke="#969696"/>
<path d="M205.6,306.0 207.1,303.6 209.1,302.0 211.3,301.2 213.8,301.2 215.8,302.0 217.9,303.6 219.3,305.6 220.6,308.9 221.1,309.3 226.3,306.8 229.3,305.8 233.3,305.3 237.3,305.6 241.3,306.7 244.3,308.5 246.2,310.6 246.7,311.9 246.9,313.4 246.4,315.6 244.6,319.6 243.5,323.1 242.1,324.4 240.3,324.8 238.8,324.7 237.1,324.2 227.6,320.1 224.3,318.3 220.8,315.5 219.8,315.4 217.3,318.0 214.7,319.9 213.9,320.9 213.3,322.6 213.0,327.6 212.5,330.1 211.4,332.4 210.8,333.0 210.1,333.3 209.3,333.1 208.6,332.4 207.9,331.1 207.4,329.6 206.9,326.1 207.1,319.4 206.7,317.6 205.6,315.2" stroke="#8a8a8a"/>
<path d="M205.6,306.4 207.0,304.1 209.1,302.3 211.1,301.5 213.6,301.4 215.8,302.3 218.0,304.1 219.3,306.1 220.8,310.4 224.1,308.3 228.6,306.4 232.3,305.8 236.3,305.8 240.3,306.8 243.6,308.5 244.8,309.6 245.7,310.9 246.1,312.1 246.3,313.4 246.1,314.9 245.5,316.4 242.4,322.1 241.3,323.1 239.6,323.6 236.6,323.0 227.1,319.4 224.0,317.4 220.8,314.0 220.3,313.9 217.3,317.6 215.8,318.8 213.9,319.9 213.2,320.6 212.7,322.4 212.5,326.6 212.1,329.1 211.2,331.1 210.1,331.9 209.3,331.7 208.8,331.2 207.9,329.1 207.5,325.9 207.7,319.1 207.4,318.1 205.6,314.7" stroke="#7f7f7f"/>
<path d="M205.6,306.9 207.0,304.4 208.8,302.7 211.1,301.7 213.6,301.7 215.8,302.5 217.8,304.1 219.2,306.4 220.0,308.9 220.3,310.9 220.2,312.4 219.7,313.9 218.7,315.6 216.6,318.0 215.3,318.8 212.9,319.9 212.1,320.6 211.8,321.9 211.6,327.6 210.9,329.4 210.1,330.1 209.6,330.0 209.1,329.4 208.3,327.1 208.3,325.1 208.7,320.9 208.6,319.4 206.4,315.9 205.6,314.2M239.6,322.2 237.3,322.2 233.3,321.3 229.1,319.7 225.8,318.0 223.9,316.4 222.4,314.4 221.7,311.9 222.0,310.4 223.1,309.3 225.1,308.2 229.1,306.8 232.1,306.3 234.8,306.2 237.6,306.5 240.1,307.2 242.4,308.4 244.0,309.6 245.0,311.1 245.5,312.6 245.4,314.4 244.5,316.9 242.6,319.8 241.1,321.4 239.6,322.2" stroke="#737373"/>
<path d="M205.6,307.4 207.0,304.6 209.1,302.8 211.6,301.8 214.1,302.0 216.6,303.2 218.5,305.4 219.7,308.1 220.0,310.9 220.0,312.1 219.5,313.9 217.8,316.6 215.3,318.6 212.6,319.5 210.6,319.7 209.3,319.0 206.9,316.4 205.6,313.7M238.6,321.2 236.1,321.2 232.8,320.5 229.3,319.2 226.5,317.6 224.3,315.6 222.7,312.6 222.3,311.4 222.8,310.1 223.9,309.1 225.8,308.3 230.3,307.1 232.8,306.8 235.3,306.8 237.8,307.2 240.1,307.9 241.9,308.9 243.3,310.1 244.3,311.6 244.6,313.1 244.4,314.9 243.5,317.1 241.8,319.3 240.3,320.5 238.6,321.2" stroke="#686868"/>
<path d="M205.6,307.9 206.7,305.4 208.6,303.3 210.8,302.2 212.1,302.0 213.6,302.1 216.1,303.1 218.0,304.9 219.3,307.4 219.8,310.6 219.7,312.1 219.2,313.9 217.8,316.4 215.6,318.2 212.8,319.2 210.6,319.1 208.6,318.0 206.7,315.6 205.6,313.1M238.3,320.2 236.1,320.4 233.6,320.0 230.6,319.0 228.0,317.6 225.9,315.9 223.3,312.4 222.9,311.4 223.2,310.4 224.3,309.3 226.3,308.5 228.6,308.0 233.1,307.6 237.3,307.9 239.1,308.5 240.8,309.4 242.3,310.6 243.1,311.9 243.4,313.4 243.3,314.9 242.6,316.6 241.4,318.4 239.8,319.6 238.3,320.2" stroke="#5c5c5c"/>
<path d="M205.6,308.6 206.7,305.6 208.3,303.7 210.6,302.5 211.8,302.2 213.3,302.2 215.6,303.0 217.8,304.9 219.2,307.6 219.7,310.6 219.2,313.4 217.7,316.1 215.6,318.0 212.8,319.0 210.6,318.8 208.3,317.4 206.7,315.4 205.6,312.5M208.9,312.6 208.9,310.1 209.3,308.4 210.3,306.8 211.7,305.9 210.1,306.4 209.1,307.4 208.6,308.2 208.2,310.6 208.3,311.8 208.9,312.6M215.0,314.4 215.8,313.7 216.6,312.2 216.8,311.1 216.8,309.6 216.3,308.1 215.6,307.0 214.5,306.1 213.2,305.9 213.6,306.0 214.9,307.1 216.0,309.4 216.0,311.6 215.5,313.1 214.7,314.4 215.0,314.4M236.3,319.4 232.8,318.8 229.4,317.1 228.2,316.1 226.8,314.4 224.3,312.6 223.8,311.6 224.1,310.7 225.1,309.6 226.4,308.9 229.6,308.4 236.3,309.2 238.1,309.7 239.6,310.6 240.7,311.6 241.4,312.9 241.7,314.4 241.4,315.9 240.6,317.4 239.6,318.4 238.1,319.1 236.3,319.4M227.3,311.4 228.2,310.6 228.0,310.1 226.3,309.9 225.0,310.4 225.1,310.9 225.8,311.4 227.3,311.4" stroke="#515151"/>
<path d="M205.6,309.7 206.3,306.9 207.9,304.4 209.1,303.4 210.3,302.8 212.8,302.4 215.3,303.1 217.5,304.9 219.0,307.6 219.5,310.6 218.9,313.6 217.5,316.1 215.3,317.9 214.1,318.5 212.6,318.7 211.3,318.7 210.1,318.3 207.9,316.6 206.3,314.1 205.6,311.3M213.2,315.9 215.1,315.1 216.3,313.8 217.1,312.1 217.3,309.9 216.8,308.1 215.6,306.3 213.8,305.2 212.1,305.0 210.2,305.6 208.8,306.9 207.8,309.1 207.7,311.1 208.3,313.2 209.5,314.6 211.2,315.6 213.2,315.9M212.3,313.4 211.6,313.2 210.8,312.6 210.4,311.6 210.3,310.4 210.5,309.4 211.1,308.5 211.8,308.0 212.6,307.9 213.3,308.1 214.1,308.8 214.6,310.6 214.4,311.6 213.8,312.6 213.1,313.2 212.3,313.4M231.1,313.7 227.8,313.7 226.3,313.1 225.8,312.6 228.6,312.3 230.0,311.6 230.4,311.1 230.5,310.6 229.1,309.1 231.1,309.1 233.1,310.1 233.6,310.6 233.8,311.4 233.6,312.1 232.8,313.0 231.1,313.7M236.8,317.7 235.1,317.8 233.3,317.1 232.3,316.1 232.3,315.1 233.1,314.4 234.3,314.0 236.1,314.0 237.4,314.4 238.2,315.1 238.4,316.1 237.8,317.1 236.8,317.7" stroke="#454545"/>
<path d="M213.3,318.4 211.8,318.5 210.6,318.2 208.3,316.8 207.3,315.6 206.5,314.1 205.8,311.1 206.1,308.1 207.3,305.4 208.3,304.3 209.6,303.4 212.1,302.6 214.6,303.0 216.8,304.5 218.5,306.9 219.3,309.9 219.0,312.9 217.8,315.4 215.8,317.4 213.3,318.4M213.8,316.1 215.6,315.2 216.8,313.5 217.5,311.4 217.5,309.4 216.8,307.4 215.4,305.6 213.6,304.8 211.8,304.7 209.8,305.5 208.3,307.1 207.6,309.1 207.5,311.6 208.3,313.8 209.8,315.4 211.8,316.2 213.8,316.1" stroke="#3a3a3a"/>
<path d="M213.1,318.2 211.8,318.2 210.6,317.9 209.5,317.4 208.3,316.5 206.8,314.1 206.0,311.1 206.3,308.0 207.6,305.5 209.6,303.6 212.1,302.9 214.6,303.3 216.8,304.8 218.3,307.2 219.0,310.1 218.6,313.1 217.3,315.6 215.3,317.4 213.1,318.2M212.9,316.6 214.8,316.1 216.5,314.6 217.5,312.6 217.9,310.1 217.4,307.9 216.1,305.9 214.3,304.6 212.3,304.3 210.1,304.9 208.4,306.4 207.4,308.4 207.1,310.9 207.7,313.1 208.8,315.0 210.6,316.2 212.9,316.6" stroke="#2e2e2e"/>
<path d="M213.8,303.8 211.0,303.6 212.6,303.5 214.0,303.6 213.8,303.8M210.8,303.9 210.4,303.9 210.8,303.9M214.6,304.0 214.0,303.9 214.6,304.0M210.1,304.2 209.9,304.1 210.3,304.1 210.1,304.2M214.8,304.2 215.1,304.1 214.8,304.2M209.6,304.4 209.6,304.4M215.3,304.4 215.3,304.4M209.3,304.7 209.3,304.7M218.3,312.1 218.3,311.6 218.3,312.1M218.1,313.0 218.1,312.8 218.1,313.0M207.3,314.2 207.3,313.8 207.3,314.2M213.3,317.7 211.3,317.7 209.9,317.1 208.6,316.1 207.5,314.4 207.6,314.2 209.3,316.0 211.3,317.0 213.3,317.1 215.5,316.6 213.3,317.7M215.8,316.2 215.8,316.2M215.6,316.5 215.8,316.4 215.6,316.5" stroke="#232323"/>
</g>
<line x1="220.79999999999998" y1="288.4" x2="220.79999999999998" y2="347.4" stroke="#555" stroke-width="0.9"/>
<line x1="205.6" y1="315.59999999999997" x2="264.6" y2="315.59999999999997" stroke="#555" stroke-width="0.9"/>
<rect x="205.6" y="288.4" width="59" height="59" fill="none" stroke="#1a1a1a" stroke-width="1.1"/>
<text x="206.70" y="298.13" font-size="8.0" text-anchor="start" fill="#d2283f" font-weight="normal" textLength="14.8" lengthAdjust="spacingAndGlyphs" stroke="#d2283f" stroke-width="0.2">52.7</text>
<text x="258.80" y="298.13" font-size="8.0" text-anchor="end" fill="#d2283f" font-weight="normal" textLength="14.8" lengthAdjust="spacingAndGlyphs" stroke="#d2283f" stroke-width="0.2">20.4</text>
<text x="206.70" y="342.58" font-size="8.0" text-anchor="start" fill="#d2283f" font-weight="normal" textLength="14.8" lengthAdjust="spacingAndGlyphs" stroke="#d2283f" stroke-width="0.2">12.6</text>
<text x="258.80" y="342.58" font-size="8.0" text-anchor="end" fill="#d2283f" font-weight="normal" textLength="14.8" lengthAdjust="spacingAndGlyphs" stroke="#d2283f" stroke-width="0.2">14.4</text>
<line x1="202.79999999999998" y1="293.7" x2="205.6" y2="293.7" stroke="#333" stroke-width="0.6"/>
<text x="198.60" y="296.21" font-size="7.0" text-anchor="end" fill="#222" stroke="#222" stroke-width="0.18">10</text>
<text x="199.40" y="293.90" font-size="4.4" fill="#222" stroke="#222" stroke-width="0.12">5</text>
<line x1="202.79999999999998" y1="307.4" x2="205.6" y2="307.4" stroke="#333" stroke-width="0.6"/>
<text x="198.60" y="309.91" font-size="7.0" text-anchor="end" fill="#222" stroke="#222" stroke-width="0.18">10</text>
<text x="199.40" y="307.60" font-size="4.4" fill="#222" stroke="#222" stroke-width="0.12">4</text>
<line x1="202.79999999999998" y1="320.4" x2="205.6" y2="320.4" stroke="#333" stroke-width="0.6"/>
<text x="198.60" y="322.91" font-size="7.0" text-anchor="end" fill="#222" stroke="#222" stroke-width="0.18">10</text>
<text x="199.40" y="320.60" font-size="4.4" fill="#222" stroke="#222" stroke-width="0.12">3</text>
<line x1="202.79999999999998" y1="333.7" x2="205.6" y2="333.7" stroke="#333" stroke-width="0.6"/>
<text x="198.60" y="336.21" font-size="7.0" text-anchor="end" fill="#222" stroke="#222" stroke-width="0.18">10</text>
<text x="199.40" y="333.90" font-size="4.4" fill="#222" stroke="#222" stroke-width="0.12">2</text>
<line x1="202.79999999999998" y1="345.0" x2="205.6" y2="345.0" stroke="#333" stroke-width="0.6"/>
<text x="198.60" y="347.52" font-size="7.0" text-anchor="end" fill="#222" font-weight="normal" stroke="#222" stroke-width="0.18">0</text>
<line x1="204.2" y1="296.4" x2="205.6" y2="296.4" stroke="#555" stroke-width="0.4"/>
<line x1="204.2" y1="298.4" x2="205.6" y2="298.4" stroke="#555" stroke-width="0.4"/>
<line x1="204.2" y1="300.4" x2="205.6" y2="300.4" stroke="#555" stroke-width="0.4"/>
<line x1="204.2" y1="310.4" x2="205.6" y2="310.4" stroke="#555" stroke-width="0.4"/>
<line x1="204.2" y1="312.4" x2="205.6" y2="312.4" stroke="#555" stroke-width="0.4"/>
<line x1="204.2" y1="314.4" x2="205.6" y2="314.4" stroke="#555" stroke-width="0.4"/>
<line x1="204.2" y1="323.4" x2="205.6" y2="323.4" stroke="#555" stroke-width="0.4"/>
<line x1="204.2" y1="325.4" x2="205.6" y2="325.4" stroke="#555" stroke-width="0.4"/>
<line x1="204.2" y1="327.4" x2="205.6" y2="327.4" stroke="#555" stroke-width="0.4"/>
<line x1="204.2" y1="336.4" x2="205.6" y2="336.4" stroke="#555" stroke-width="0.4"/>
<line x1="204.2" y1="338.4" x2="205.6" y2="338.4" stroke="#555" stroke-width="0.4"/>
<line x1="204.2" y1="341.4" x2="205.6" y2="341.4" stroke="#555" stroke-width="0.4"/>
<line x1="211.2" y1="347.4" x2="211.2" y2="350.0" stroke="#333" stroke-width="0.6"/>
<line x1="231.9" y1="347.4" x2="231.9" y2="350.0" stroke="#333" stroke-width="0.6"/>
<line x1="245.8" y1="347.4" x2="245.8" y2="350.0" stroke="#333" stroke-width="0.6"/>
<line x1="259.1" y1="347.4" x2="259.1" y2="350.0" stroke="#333" stroke-width="0.6"/>
<line x1="219.6" y1="347.4" x2="219.6" y2="348.7" stroke="#555" stroke-width="0.4"/>
<line x1="222.6" y1="347.4" x2="222.6" y2="348.7" stroke="#555" stroke-width="0.4"/>
<line x1="224.6" y1="347.4" x2="224.6" y2="348.7" stroke="#555" stroke-width="0.4"/>
<line x1="226.6" y1="347.4" x2="226.6" y2="348.7" stroke="#555" stroke-width="0.4"/>
<line x1="228.6" y1="347.4" x2="228.6" y2="348.7" stroke="#555" stroke-width="0.4"/>
<line x1="234.6" y1="347.4" x2="234.6" y2="348.7" stroke="#555" stroke-width="0.4"/>
<line x1="236.6" y1="347.4" x2="236.6" y2="348.7" stroke="#555" stroke-width="0.4"/>
<line x1="238.6" y1="347.4" x2="238.6" y2="348.7" stroke="#555" stroke-width="0.4"/>
<line x1="240.6" y1="347.4" x2="240.6" y2="348.7" stroke="#555" stroke-width="0.4"/>
<line x1="242.6" y1="347.4" x2="242.6" y2="348.7" stroke="#555" stroke-width="0.4"/>
<line x1="248.6" y1="347.4" x2="248.6" y2="348.7" stroke="#555" stroke-width="0.4"/>
<line x1="250.6" y1="347.4" x2="250.6" y2="348.7" stroke="#555" stroke-width="0.4"/>
<line x1="252.6" y1="347.4" x2="252.6" y2="348.7" stroke="#555" stroke-width="0.4"/>
<line x1="254.6" y1="347.4" x2="254.6" y2="348.7" stroke="#555" stroke-width="0.4"/>
<line x1="256.6" y1="347.4" x2="256.6" y2="348.7" stroke="#555" stroke-width="0.4"/>
<text x="212.00" y="356.22" font-size="7.0" text-anchor="middle" fill="#222" font-weight="normal" stroke="#222" stroke-width="0.18">0</text>
<text x="234.80" y="358.21" font-size="7.0" text-anchor="end" fill="#222" stroke="#222" stroke-width="0.18">10</text>
<text x="235.60" y="355.90" font-size="4.4" fill="#222" stroke="#222" stroke-width="0.12">3</text>
<text x="248.10" y="358.21" font-size="7.0" text-anchor="end" fill="#222" stroke="#222" stroke-width="0.18">10</text>
<text x="248.90" y="355.90" font-size="4.4" fill="#222" stroke="#222" stroke-width="0.12">4</text>
<text x="262.50" y="358.21" font-size="7.0" text-anchor="end" fill="#222" stroke="#222" stroke-width="0.18">10</text>
<text x="263.30" y="355.90" font-size="4.4" fill="#222" stroke="#222" stroke-width="0.12">5</text>
<line x1="24.6" y1="364.2" x2="24.6" y2="315" stroke="#111" stroke-width="1.4"/>
<polygon points="24.6,311.6 22.2,317 27,317" fill="#111"/>
<line x1="23.9" y1="363.5" x2="75" y2="363.5" stroke="#111" stroke-width="1.4"/>
<polygon points="78.8,363.5 73.4,361.1 73.4,365.9" fill="#111"/>
<text x="0" y="2.8" font-size="7.8" fill="#222" text-anchor="middle" textLength="31.8" lengthAdjust="spacingAndGlyphs" transform="translate(18.5 337.1) rotate(-90)">CD34-PE</text>
<text x="32.80" y="373.01" font-size="7.8" text-anchor="start" fill="#222" font-weight="normal" textLength="38" lengthAdjust="spacingAndGlyphs" >CD41-APC</text>
<text x="286.30" y="15.54" font-size="10.4" text-anchor="start" fill="#111" font-weight="bold" textLength="6.8" lengthAdjust="spacingAndGlyphs" >B</text>
<path d="M322.90,67.70 L322.90,41.20 A26.5,26.5 0 0 1 349.35,66.04 Z" fill="#1b4f8b"/>
<path d="M322.90,67.70 L349.35,66.04 A26.5,26.5 0 0 1 331.09,92.90 Z" fill="#c8233a"/>
<path d="M320.32,69.23 L328.51,94.43 A26.5,26.5 0 0 1 302.18,49.91 Z" fill="#3db54b"/>
<path d="M322.90,67.70 L304.76,48.38 A26.5,26.5 0 0 1 322.90,41.20 Z" fill="#5c2b7c"/>
<text x="321.60" y="38.04" font-size="7.6" text-anchor="middle" fill="#222" font-weight="normal" >TPO3</text>
<text x="334.40" y="60.68" font-size="8.0" text-anchor="middle" fill="#fff" font-weight="normal" >24%</text>
<text x="336.70" y="77.68" font-size="8.0" text-anchor="middle" fill="#fff" font-weight="normal" >21%</text>
<text x="307.10" y="81.08" font-size="8.0" text-anchor="middle" fill="#fff" font-weight="normal" >43%</text>
<text x="293.70" y="49.08" font-size="8.0" text-anchor="middle" fill="#333" font-weight="normal" >12%</text>
<path d="M401.90,68.40 L401.90,41.80 A26.6,26.6 0 0 1 428.29,65.07 Z" fill="#1b4f8b"/>
<path d="M401.90,68.40 L428.29,65.07 A26.6,26.6 0 0 1 406.88,94.53 Z" fill="#c8233a"/>
<path d="M399.15,69.59 L404.13,95.72 A26.6,26.6 0 0 1 383.51,48.07 Z" fill="#3db54b"/>
<path d="M401.90,68.40 L386.26,46.88 A26.6,26.6 0 0 1 401.90,41.80 Z" fill="#5c2b7c"/>
<text x="405.00" y="37.64" font-size="7.6" text-anchor="middle" fill="#222" font-weight="normal" >TPO50</text>
<text x="413.80" y="57.88" font-size="8.0" text-anchor="middle" fill="#fff" font-weight="normal" >23%</text>
<text x="415.30" y="79.08" font-size="8.0" text-anchor="middle" fill="#fff" font-weight="normal" >24%</text>
<text x="384.00" y="78.88" font-size="8.0" text-anchor="middle" fill="#fff" font-weight="normal" >43%</text>
<text x="371.50" y="46.28" font-size="8.0" text-anchor="middle" fill="#333" font-weight="normal" >10%</text>
<line x1="364.90" y1="46.80" x2="378.10" y2="46.80" stroke="#333" stroke-width="0.75"/>
<line x1="381.5" y1="43" x2="391" y2="43" stroke="#777" stroke-width="0.7"/>
<path d="M323.00,154.60 L323.00,128.00 A26.6,26.6 0 0 1 347.73,164.39 Z" fill="#1b4f8b"/>
<path d="M323.00,154.60 L347.73,164.39 A26.6,26.6 0 0 1 316.38,180.36 Z" fill="#c8233a"/>
<path d="M320.55,155.48 L313.94,181.25 A26.6,26.6 0 0 1 299.03,139.85 Z" fill="#3db54b"/>
<path d="M323.00,154.60 L301.48,138.96 A26.6,26.6 0 0 1 323.00,128.00 Z" fill="#5c2b7c"/>
<text x="321.50" y="124.04" font-size="7.6" text-anchor="middle" fill="#222" font-weight="normal" >TPO3 + Elt 6</text>
<text x="335.00" y="149.18" font-size="8.0" text-anchor="middle" fill="#fff" font-weight="normal" >31%</text>
<line x1="328.40" y1="149.70" x2="341.60" y2="149.70" stroke="#fff" stroke-width="0.75"/>
<text x="331.20" y="171.38" font-size="8.0" text-anchor="middle" fill="#fff" font-weight="normal" >23%</text>
<line x1="324.60" y1="171.90" x2="337.80" y2="171.90" stroke="#fff" stroke-width="0.75"/>
<text x="307.10" y="164.58" font-size="8.0" text-anchor="middle" fill="#fff" font-weight="normal" >31%</text>
<line x1="300.50" y1="165.10" x2="313.70" y2="165.10" stroke="#fff" stroke-width="0.75"/>
<text x="314.20" y="138.68" font-size="8.0" text-anchor="middle" fill="#fff" font-weight="normal" >15%</text>
<line x1="307.60" y1="139.20" x2="320.80" y2="139.20" stroke="#fff" stroke-width="0.75"/>
<path d="M402.90,154.00 L402.90,127.60 A26.4,26.4 0 1 1 383.66,172.07 Z" fill="#1b4f8b"/>
<path d="M402.90,154.00 L383.66,172.07 A26.4,26.4 0 0 1 376.55,152.34 Z" fill="#c8233a"/>
<path d="M398.02,152.91 L371.67,151.25 A26.4,26.4 0 0 1 373.47,143.19 Z" fill="#3db54b"/>
<path d="M402.90,154.00 L378.35,144.28 A26.4,26.4 0 0 1 402.90,127.60 Z" fill="#5c2b7c"/>
<text x="400.40" y="124.04" font-size="7.6" text-anchor="middle" fill="#222" font-weight="normal" >TPO3 + Elt 30</text>
<text x="414.40" y="160.78" font-size="8.0" text-anchor="middle" fill="#fff" font-weight="normal" >63%</text>
<line x1="407.80" y1="161.30" x2="421.00" y2="161.30" stroke="#fff" stroke-width="0.75"/>
<text x="385.60" y="160.78" font-size="8.0" text-anchor="middle" fill="#fff" font-weight="normal" >13%</text>
<line x1="379.00" y1="161.30" x2="392.20" y2="161.30" stroke="#fff" stroke-width="0.75"/>
<text x="364.00" y="149.18" font-size="8.0" text-anchor="middle" fill="#333" font-weight="normal" >5%</text>
<line x1="359.60" y1="149.70" x2="368.40" y2="149.70" stroke="#333" stroke-width="0.75"/>
<text x="393.30" y="143.08" font-size="8.0" text-anchor="middle" fill="#fff" font-weight="normal" >19%</text>
<line x1="386.70" y1="143.60" x2="399.90" y2="143.60" stroke="#fff" stroke-width="0.75"/>
<path d="M323.30,239.80 L323.30,213.20 A26.6,26.6 0 0 1 349.85,241.47 Z" fill="#1b4f8b"/>
<path d="M323.30,239.80 L349.85,241.47 A26.6,26.6 0 0 1 318.32,265.93 Z" fill="#c8233a"/>
<path d="M320.76,240.37 L315.78,266.50 A26.6,26.6 0 0 1 305.13,218.85 Z" fill="#3db54b"/>
<path d="M323.30,239.80 L307.66,218.28 A26.6,26.6 0 0 1 323.30,213.20 Z" fill="#5c2b7c"/>
<text x="321.40" y="208.14" font-size="7.6" text-anchor="middle" fill="#222" font-weight="normal" >TPO3 + DFO6</text>
<text x="334.00" y="232.48" font-size="8.0" text-anchor="middle" fill="#fff" font-weight="normal" >26%</text>
<text x="333.20" y="253.28" font-size="8.0" text-anchor="middle" fill="#fff" font-weight="normal" >27%</text>
<line x1="326.60" y1="253.80" x2="339.80" y2="253.80" stroke="#fff" stroke-width="0.75"/>
<text x="307.20" y="246.38" font-size="8.0" text-anchor="middle" fill="#fff" font-weight="normal" >37%</text>
<line x1="300.60" y1="246.90" x2="313.80" y2="246.90" stroke="#fff" stroke-width="0.75"/>
<text x="296.00" y="216.88" font-size="8.0" text-anchor="middle" fill="#333" font-weight="normal" >10%</text>
<line x1="289.40" y1="217.40" x2="302.60" y2="217.40" stroke="#333" stroke-width="0.75"/>
<path d="M402.40,239.00 L402.40,212.70 A26.3,26.3 0 0 1 417.86,260.28 Z" fill="#1b4f8b"/>
<path d="M402.40,239.00 L417.86,260.28 A26.3,26.3 0 0 1 386.94,260.28 Z" fill="#c8233a"/>
<path d="M399.04,239.53 L383.58,260.81 A26.3,26.3 0 0 1 377.76,224.07 Z" fill="#3db54b"/>
<path d="M402.40,239.00 L381.12,223.54 A26.3,26.3 0 0 1 402.40,212.70 Z" fill="#5c2b7c"/>
<text x="400.50" y="208.14" font-size="7.6" text-anchor="middle" fill="#222" font-weight="normal" >TPO3 + DFO30</text>
<text x="416.60" y="239.38" font-size="8.0" text-anchor="middle" fill="#fff" font-weight="normal" >40%</text>
<line x1="410.00" y1="239.90" x2="423.20" y2="239.90" stroke="#fff" stroke-width="0.75"/>
<text x="402.00" y="259.28" font-size="8.0" text-anchor="middle" fill="#fff" font-weight="normal" >20%</text>
<text x="383.70" y="244.28" font-size="8.0" text-anchor="middle" fill="#fff" font-weight="normal" >25%</text>
<line x1="377.10" y1="244.80" x2="390.30" y2="244.80" stroke="#fff" stroke-width="0.75"/>
<text x="393.30" y="226.48" font-size="8.0" text-anchor="middle" fill="#fff" font-weight="normal" >15%</text>
<path d="M485.00,240.00 L485.00,213.70 A26.3,26.3 0 1 1 480.07,265.83 Z" fill="#1b4f8b"/>
<path d="M485.00,240.00 L480.07,265.83 A26.3,26.3 0 0 1 459.53,246.54 Z" fill="#c8233a"/>
<path d="M480.00,240.16 L454.53,246.70 A26.3,26.3 0 0 1 454.17,235.23 Z" fill="#3db54b"/>
<path d="M485.00,240.00 L459.17,235.07 A26.3,26.3 0 0 1 485.00,213.70 Z" fill="#5c2b7c"/>
<text x="481.60" y="208.14" font-size="7.6" text-anchor="middle" fill="#222" font-weight="normal" >TPO3 + DFO100</text>
<text x="497.50" y="244.58" font-size="8.0" text-anchor="middle" fill="#fff" font-weight="normal" >53%</text>
<line x1="490.90" y1="245.10" x2="504.10" y2="245.10" stroke="#fff" stroke-width="0.75"/>
<text x="472.40" y="255.88" font-size="8.0" text-anchor="middle" fill="#fff" font-weight="normal" >18%</text>
<text x="446.40" y="244.28" font-size="8.0" text-anchor="middle" fill="#333" font-weight="normal" >7%</text>
<line x1="442.00" y1="244.80" x2="450.80" y2="244.80" stroke="#333" stroke-width="0.75"/>
<text x="474.70" y="230.38" font-size="8.0" text-anchor="middle" fill="#fff" font-weight="normal" >22%</text>
<path d="M323.30,322.00 L323.30,295.20 A26.8,26.8 0 0 1 349.63,316.98 Z" fill="#1b4f8b"/>
<path d="M323.30,322.00 L349.63,316.98 A26.8,26.8 0 0 1 331.58,347.49 Z" fill="#c8233a"/>
<path d="M320.77,323.61 L329.05,349.10 A26.8,26.8 0 0 1 301.23,305.26 Z" fill="#3db54b"/>
<path d="M323.30,322.00 L303.76,303.65 A26.8,26.8 0 0 1 323.30,295.20 Z" fill="#5c2b7c"/>
<text x="321.40" y="290.54" font-size="7.6" text-anchor="middle" fill="#222" font-weight="normal" >TPO3 + DFP6</text>
<text x="334.00" y="313.68" font-size="8.0" text-anchor="middle" fill="#fff" font-weight="normal" >22%</text>
<text x="336.60" y="333.08" font-size="8.0" text-anchor="middle" fill="#fff" font-weight="normal" >23%</text>
<text x="309.00" y="333.88" font-size="8.0" text-anchor="middle" fill="#fff" font-weight="normal" >42%</text>
<text x="314.10" y="306.28" font-size="8.0" text-anchor="middle" fill="#fff" font-weight="normal" >13%</text>
<path d="M401.90,321.70 L401.90,295.20 A26.5,26.5 0 0 1 428.19,318.38 Z" fill="#1b4f8b"/>
<path d="M401.90,321.70 L428.19,318.38 A26.5,26.5 0 0 1 408.49,347.37 Z" fill="#c8233a"/>
<path d="M399.27,323.15 L405.86,348.81 A26.5,26.5 0 0 1 381.13,303.83 Z" fill="#3db54b"/>
<path d="M401.90,321.70 L383.76,302.38 A26.5,26.5 0 0 1 401.90,295.20 Z" fill="#5c2b7c"/>
<text x="400.50" y="290.54" font-size="7.6" text-anchor="middle" fill="#222" font-weight="normal" >TPO3 + DFP30</text>
<text x="413.20" y="312.28" font-size="8.0" text-anchor="middle" fill="#fff" font-weight="normal" >23%</text>
<text x="414.00" y="332.68" font-size="8.0" text-anchor="middle" fill="#fff" font-weight="normal" >23%</text>
<text x="388.00" y="333.88" font-size="8.0" text-anchor="middle" fill="#fff" font-weight="normal" >42%</text>
<text x="369.90" y="299.88" font-size="8.0" text-anchor="middle" fill="#333" font-weight="normal" >12%</text>
<line x1="379.8" y1="297" x2="392.4" y2="297" stroke="#777" stroke-width="0.7"/>
<path d="M484.50,322.70 L484.50,295.90 A26.8,26.8 0 1 1 467.42,343.35 Z" fill="#1b4f8b"/>
<path d="M484.50,322.70 L467.42,343.35 A26.8,26.8 0 0 1 457.91,319.34 Z" fill="#c8233a"/>
<path d="M479.73,320.63 L453.14,317.28 A26.8,26.8 0 0 1 459.08,303.55 Z" fill="#3db54b"/>
<path d="M484.50,322.70 L463.85,305.62 A26.8,26.8 0 0 1 484.50,295.90 Z" fill="#5c2b7c"/>
<text x="481.60" y="290.54" font-size="7.6" text-anchor="middle" fill="#222" font-weight="normal" >TPO3 + DFP100</text>
<text x="495.80" y="332.18" font-size="8.0" text-anchor="middle" fill="#fff" font-weight="normal" >61%</text>
<line x1="489.20" y1="332.70" x2="502.40" y2="332.70" stroke="#fff" stroke-width="0.75"/>
<text x="469.50" y="329.58" font-size="8.0" text-anchor="middle" fill="#fff" font-weight="normal" >16%</text>
<text x="447.80" y="308.48" font-size="8.0" text-anchor="middle" fill="#333" font-weight="normal" >9%</text>
<line x1="443.40" y1="309.00" x2="452.20" y2="309.00" stroke="#333" stroke-width="0.75"/>
<text x="476.70" y="307.08" font-size="8.0" text-anchor="middle" fill="#fff" font-weight="normal" >14%</text>
<rect x="454.2" y="102.6" width="4" height="4" fill="#c8233a"/>
<text x="460.80" y="107.34" font-size="7.6" text-anchor="start" fill="#333" font-weight="normal" >CD34+/CD41+</text>
<rect x="454.2" y="116.0" width="4" height="4" fill="#1b4f8b"/>
<text x="460.80" y="120.74" font-size="7.6" text-anchor="start" fill="#333" font-weight="normal" >CD34+CD41−</text>
<rect x="454.2" y="128.8" width="4" height="4" fill="#3db54b"/>
<text x="460.80" y="133.54" font-size="7.6" text-anchor="start" fill="#333" font-weight="normal" >CD34−CD41+</text>
<rect x="454.2" y="141.5" width="4" height="4" fill="#5c2b7c"/>
<text x="460.80" y="146.24" font-size="7.6" text-anchor="start" fill="#333" font-weight="normal" >CD34−/CD41−</text>
<text x="8.00" y="399.04" font-size="10.4" text-anchor="start" fill="#111" font-weight="bold" textLength="7.2" lengthAdjust="spacingAndGlyphs" >C</text>
<line x1="51.2" y1="395.8" x2="51.2" y2="518.8" stroke="#222" stroke-width="1.3"/>
<line x1="48.0" y1="518.8" x2="172.5" y2="518.8" stroke="#222" stroke-width="1.3"/>
<line x1="47.800000000000004" y1="428" x2="51.2" y2="428" stroke="#222" stroke-width="1"/>
<line x1="47.800000000000004" y1="473.4" x2="51.2" y2="473.4" stroke="#222" stroke-width="1"/>
<line x1="65.80" y1="518.8" x2="65.80" y2="521.2" stroke="#222" stroke-width="1"/>
<text x="65.80" y="530.06" font-size="7.4" text-anchor="middle" fill="#333" font-weight="normal" textLength="4.4" lengthAdjust="spacingAndGlyphs" >0</text>
<line x1="96.43" y1="518.8" x2="96.43" y2="521.2" stroke="#222" stroke-width="1"/>
<text x="96.43" y="530.06" font-size="7.4" text-anchor="middle" fill="#333" font-weight="normal" textLength="8.8" lengthAdjust="spacingAndGlyphs" >10</text>
<line x1="127.07" y1="518.8" x2="127.07" y2="521.2" stroke="#222" stroke-width="1"/>
<text x="127.07" y="530.06" font-size="7.4" text-anchor="middle" fill="#333" font-weight="normal" textLength="8.8" lengthAdjust="spacingAndGlyphs" >20</text>
<line x1="157.70" y1="518.8" x2="157.70" y2="521.2" stroke="#222" stroke-width="1"/>
<text x="157.70" y="530.06" font-size="7.4" text-anchor="middle" fill="#333" font-weight="normal" textLength="8.8" lengthAdjust="spacingAndGlyphs" >30</text>
<text x="111.50" y="542.14" font-size="7.6" text-anchor="middle" fill="#222" font-weight="normal" textLength="27.7" lengthAdjust="spacingAndGlyphs" >ELT (µM)</text>
<text x="41.9" y="432.88" font-size="8" fill="#333" text-anchor="end" textLength="9" lengthAdjust="spacingAndGlyphs">10</text>
<text x="42.2" y="429.80" font-size="5.2" fill="#333">3</text>
<text x="41.9" y="477.68" font-size="8" fill="#333" text-anchor="end" textLength="9" lengthAdjust="spacingAndGlyphs">10</text>
<text x="42.2" y="474.60" font-size="5.2" fill="#333">2</text>
<text x="41.9" y="521.48" font-size="8" fill="#333" text-anchor="end" textLength="9" lengthAdjust="spacingAndGlyphs">10</text>
<text x="42.2" y="518.40" font-size="5.2" fill="#333">1</text>
<text x="0" y="0" font-size="8.4" fill="#222" text-anchor="middle" textLength="35" lengthAdjust="spacingAndGlyphs" transform="translate(15.0 457.4) rotate(-90)">Cell number</text>
<text x="0" y="0" font-size="8.4" fill="#222" text-anchor="middle" textLength="63.5" lengthAdjust="spacingAndGlyphs" transform="translate(27.3 457.9) rotate(-90)">(per 1000 CD34<tspan font-size="5.2" dy="-3">+</tspan><tspan dy="3"> cells)</tspan></text>
<line x1="65.80" y1="412.5" x2="157.70" y2="502.3" stroke="#3db54b" stroke-width="1.5"/>
<line x1="65.80" y1="422" x2="157.70" y2="480" stroke="#1b4f8b" stroke-width="1.5"/>
<line x1="65.80" y1="425.5" x2="157.70" y2="450.5" stroke="#c8233a" stroke-width="1.5"/>
<line x1="65.80" y1="418" x2="65.80" y2="432" stroke="#222" stroke-width="0.8"/>
<line x1="63.60" y1="418" x2="68.00" y2="418" stroke="#222" stroke-width="0.9"/>
<line x1="63.60" y1="432" x2="68.00" y2="432" stroke="#222" stroke-width="0.9"/>
<line x1="157.70" y1="447.5" x2="157.70" y2="453.5" stroke="#222" stroke-width="0.8"/>
<line x1="155.50" y1="447.5" x2="159.90" y2="447.5" stroke="#222" stroke-width="0.9"/>
<line x1="155.50" y1="453.5" x2="159.90" y2="453.5" stroke="#222" stroke-width="0.9"/>
<line x1="65.80" y1="417.5" x2="65.80" y2="431" stroke="#222" stroke-width="0.8"/>
<line x1="63.60" y1="417.5" x2="68.00" y2="417.5" stroke="#222" stroke-width="0.9"/>
<line x1="63.60" y1="431" x2="68.00" y2="431" stroke="#222" stroke-width="0.9"/>
<line x1="157.70" y1="474.8" x2="157.70" y2="486" stroke="#222" stroke-width="0.8"/>
<line x1="155.50" y1="474.8" x2="159.90" y2="474.8" stroke="#222" stroke-width="0.9"/>
<line x1="155.50" y1="486" x2="159.90" y2="486" stroke="#222" stroke-width="0.9"/>
<line x1="65.80" y1="408.8" x2="65.80" y2="417" stroke="#222" stroke-width="0.8"/>
<line x1="63.60" y1="408.8" x2="68.00" y2="408.8" stroke="#222" stroke-width="0.9"/>
<line x1="63.60" y1="417" x2="68.00" y2="417" stroke="#222" stroke-width="0.9"/>
<line x1="157.70" y1="497" x2="157.70" y2="507.5" stroke="#222" stroke-width="0.8"/>
<line x1="155.50" y1="497" x2="159.90" y2="497" stroke="#222" stroke-width="0.9"/>
<line x1="155.50" y1="507.5" x2="159.90" y2="507.5" stroke="#222" stroke-width="0.9"/>
<polygon points="65.80,409.7 63.00,414.5 68.60,414.5" fill="#3db54b"/>
<polygon points="157.70,499.5 154.90,504.3 160.50,504.3" fill="#3db54b"/>
<rect x="63.70" y="419.9" width="4.2" height="4.2" fill="#1b4f8b"/>
<rect x="155.60" y="477.9" width="4.2" height="4.2" fill="#1b4f8b"/>
<circle cx="65.80" cy="425.5" r="2.6" fill="#c8233a"/>
<circle cx="157.70" cy="450.5" r="2.6" fill="#c8233a"/>
<line x1="205.6" y1="395.8" x2="205.6" y2="518.8" stroke="#222" stroke-width="1.3"/>
<line x1="202.4" y1="518.8" x2="328" y2="518.8" stroke="#222" stroke-width="1.3"/>
<line x1="202.2" y1="428" x2="205.6" y2="428" stroke="#222" stroke-width="1"/>
<line x1="202.2" y1="473.4" x2="205.6" y2="473.4" stroke="#222" stroke-width="1"/>
<line x1="216.70" y1="518.8" x2="216.70" y2="521.2" stroke="#222" stroke-width="1"/>
<text x="216.70" y="530.06" font-size="7.4" text-anchor="middle" fill="#333" font-weight="normal" textLength="4.4" lengthAdjust="spacingAndGlyphs" >0</text>
<line x1="242.15" y1="518.8" x2="242.15" y2="521.2" stroke="#222" stroke-width="1"/>
<text x="242.15" y="530.06" font-size="7.4" text-anchor="middle" fill="#333" font-weight="normal" textLength="8.8" lengthAdjust="spacingAndGlyphs" >25</text>
<line x1="267.60" y1="518.8" x2="267.60" y2="521.2" stroke="#222" stroke-width="1"/>
<text x="267.60" y="530.06" font-size="7.4" text-anchor="middle" fill="#333" font-weight="normal" textLength="8.8" lengthAdjust="spacingAndGlyphs" >50</text>
<line x1="293.05" y1="518.8" x2="293.05" y2="521.2" stroke="#222" stroke-width="1"/>
<text x="293.05" y="530.06" font-size="7.4" text-anchor="middle" fill="#333" font-weight="normal" textLength="8.8" lengthAdjust="spacingAndGlyphs" >75</text>
<line x1="318.50" y1="518.8" x2="318.50" y2="521.2" stroke="#222" stroke-width="1"/>
<text x="318.50" y="530.06" font-size="7.4" text-anchor="middle" fill="#333" font-weight="normal" textLength="13.200000000000001" lengthAdjust="spacingAndGlyphs" >100</text>
<text x="266.60" y="542.14" font-size="7.6" text-anchor="middle" fill="#222" font-weight="normal" textLength="31" lengthAdjust="spacingAndGlyphs" >DFO (µM)</text>
<line x1="216.70" y1="412.9" x2="318.50" y2="502.9" stroke="#3db54b" stroke-width="1.5"/>
<line x1="216.70" y1="423.3" x2="318.50" y2="484.9" stroke="#1b4f8b" stroke-width="1.5"/>
<line x1="216.70" y1="425" x2="318.50" y2="464.1" stroke="#c8233a" stroke-width="1.5"/>
<line x1="216.70" y1="418" x2="216.70" y2="432" stroke="#222" stroke-width="0.8"/>
<line x1="214.50" y1="418" x2="218.90" y2="418" stroke="#222" stroke-width="0.9"/>
<line x1="214.50" y1="432" x2="218.90" y2="432" stroke="#222" stroke-width="0.9"/>
<line x1="318.50" y1="460.3" x2="318.50" y2="469.3" stroke="#222" stroke-width="0.8"/>
<line x1="316.30" y1="460.3" x2="320.70" y2="460.3" stroke="#222" stroke-width="0.9"/>
<line x1="316.30" y1="469.3" x2="320.70" y2="469.3" stroke="#222" stroke-width="0.9"/>
<line x1="216.70" y1="417.5" x2="216.70" y2="431" stroke="#222" stroke-width="0.8"/>
<line x1="214.50" y1="417.5" x2="218.90" y2="417.5" stroke="#222" stroke-width="0.9"/>
<line x1="214.50" y1="431" x2="218.90" y2="431" stroke="#222" stroke-width="0.9"/>
<line x1="318.50" y1="479.3" x2="318.50" y2="494.2" stroke="#222" stroke-width="0.8"/>
<line x1="316.30" y1="479.3" x2="320.70" y2="479.3" stroke="#222" stroke-width="0.9"/>
<line x1="316.30" y1="494.2" x2="320.70" y2="494.2" stroke="#222" stroke-width="0.9"/>
<line x1="216.70" y1="408.7" x2="216.70" y2="417" stroke="#222" stroke-width="0.8"/>
<line x1="214.50" y1="408.7" x2="218.90" y2="408.7" stroke="#222" stroke-width="0.9"/>
<line x1="214.50" y1="417" x2="218.90" y2="417" stroke="#222" stroke-width="0.9"/>
<line x1="318.50" y1="498.7" x2="318.50" y2="509.8" stroke="#222" stroke-width="0.8"/>
<line x1="316.30" y1="498.7" x2="320.70" y2="498.7" stroke="#222" stroke-width="0.9"/>
<line x1="316.30" y1="509.8" x2="320.70" y2="509.8" stroke="#222" stroke-width="0.9"/>
<polygon points="216.70,410.09999999999997 213.90,414.9 219.50,414.9" fill="#3db54b"/>
<polygon points="318.50,500.09999999999997 315.70,504.9 321.30,504.9" fill="#3db54b"/>
<rect x="214.60" y="421.2" width="4.2" height="4.2" fill="#1b4f8b"/>
<rect x="316.40" y="482.79999999999995" width="4.2" height="4.2" fill="#1b4f8b"/>
<circle cx="216.70" cy="425" r="2.6" fill="#c8233a"/>
<circle cx="318.50" cy="464.1" r="2.6" fill="#c8233a"/>
<line x1="360.8" y1="395.8" x2="360.8" y2="518.8" stroke="#222" stroke-width="1.3"/>
<line x1="357.6" y1="518.8" x2="482.6" y2="518.8" stroke="#222" stroke-width="1.3"/>
<line x1="357.40000000000003" y1="428" x2="360.8" y2="428" stroke="#222" stroke-width="1"/>
<line x1="357.40000000000003" y1="473.4" x2="360.8" y2="473.4" stroke="#222" stroke-width="1"/>
<line x1="371.20" y1="518.8" x2="371.20" y2="521.2" stroke="#222" stroke-width="1"/>
<text x="371.20" y="530.06" font-size="7.4" text-anchor="middle" fill="#333" font-weight="normal" textLength="4.4" lengthAdjust="spacingAndGlyphs" >0</text>
<line x1="396.73" y1="518.8" x2="396.73" y2="521.2" stroke="#222" stroke-width="1"/>
<text x="396.73" y="530.06" font-size="7.4" text-anchor="middle" fill="#333" font-weight="normal" textLength="8.8" lengthAdjust="spacingAndGlyphs" >25</text>
<line x1="422.25" y1="518.8" x2="422.25" y2="521.2" stroke="#222" stroke-width="1"/>
<text x="422.25" y="530.06" font-size="7.4" text-anchor="middle" fill="#333" font-weight="normal" textLength="8.8" lengthAdjust="spacingAndGlyphs" >50</text>
<line x1="447.77" y1="518.8" x2="447.77" y2="521.2" stroke="#222" stroke-width="1"/>
<text x="447.77" y="530.06" font-size="7.4" text-anchor="middle" fill="#333" font-weight="normal" textLength="8.8" lengthAdjust="spacingAndGlyphs" >75</text>
<line x1="473.30" y1="518.8" x2="473.30" y2="521.2" stroke="#222" stroke-width="1"/>
<text x="473.30" y="530.06" font-size="7.4" text-anchor="middle" fill="#333" font-weight="normal" textLength="13.200000000000001" lengthAdjust="spacingAndGlyphs" >100</text>
<text x="422.00" y="542.14" font-size="7.6" text-anchor="middle" fill="#222" font-weight="normal" textLength="30" lengthAdjust="spacingAndGlyphs" >DFP (µM)</text>
<line x1="371.20" y1="412.9" x2="473.30" y2="483.8" stroke="#3db54b" stroke-width="1.5"/>
<line x1="371.20" y1="423.3" x2="473.30" y2="470" stroke="#1b4f8b" stroke-width="1.5"/>
<line x1="371.20" y1="425" x2="473.30" y2="447.5" stroke="#c8233a" stroke-width="1.5"/>
<line x1="371.20" y1="418" x2="371.20" y2="432" stroke="#222" stroke-width="0.8"/>
<line x1="369.00" y1="418" x2="373.40" y2="418" stroke="#222" stroke-width="0.9"/>
<line x1="369.00" y1="432" x2="373.40" y2="432" stroke="#222" stroke-width="0.9"/>
<line x1="473.30" y1="443.3" x2="473.30" y2="452" stroke="#222" stroke-width="0.8"/>
<line x1="471.10" y1="443.3" x2="475.50" y2="443.3" stroke="#222" stroke-width="0.9"/>
<line x1="471.10" y1="452" x2="475.50" y2="452" stroke="#222" stroke-width="0.9"/>
<line x1="371.20" y1="417.5" x2="371.20" y2="431" stroke="#222" stroke-width="0.8"/>
<line x1="369.00" y1="417.5" x2="373.40" y2="417.5" stroke="#222" stroke-width="0.9"/>
<line x1="369.00" y1="431" x2="373.40" y2="431" stroke="#222" stroke-width="0.9"/>
<line x1="473.30" y1="464.8" x2="473.30" y2="478.6" stroke="#222" stroke-width="0.8"/>
<line x1="471.10" y1="464.8" x2="475.50" y2="464.8" stroke="#222" stroke-width="0.9"/>
<line x1="471.10" y1="478.6" x2="475.50" y2="478.6" stroke="#222" stroke-width="0.9"/>
<line x1="371.20" y1="408.7" x2="371.20" y2="417" stroke="#222" stroke-width="0.8"/>
<line x1="369.00" y1="408.7" x2="373.40" y2="408.7" stroke="#222" stroke-width="0.9"/>
<line x1="369.00" y1="417" x2="373.40" y2="417" stroke="#222" stroke-width="0.9"/>
<line x1="473.30" y1="478" x2="473.30" y2="490" stroke="#222" stroke-width="0.8"/>
<line x1="471.10" y1="478" x2="475.50" y2="478" stroke="#222" stroke-width="0.9"/>
<line x1="471.10" y1="490" x2="475.50" y2="490" stroke="#222" stroke-width="0.9"/>
<polygon points="371.20,410.09999999999997 368.40,414.9 374.00,414.9" fill="#3db54b"/>
<polygon points="473.30,481.0 470.50,485.8 476.10,485.8" fill="#3db54b"/>
<rect x="369.10" y="421.2" width="4.2" height="4.2" fill="#1b4f8b"/>
<rect x="471.20" y="467.9" width="4.2" height="4.2" fill="#1b4f8b"/>
<circle cx="371.20" cy="425" r="2.6" fill="#c8233a"/>
<circle cx="473.30" cy="447.5" r="2.6" fill="#c8233a"/>
<line x1="425.8" y1="390.5" x2="438.2" y2="390.5" stroke="#c8233a" stroke-width="1.5"/>
<circle cx="432" cy="390.5" r="2.5" fill="#c8233a"/>
<text x="441.50" y="393.24" font-size="7.6" text-anchor="start" fill="#333" font-weight="normal" textLength="47" lengthAdjust="spacingAndGlyphs" >CD34+CD41−</text>
<line x1="425.8" y1="403.8" x2="438.2" y2="403.8" stroke="#1b4f8b" stroke-width="1.5"/>
<rect x="430" y="401.8" width="4" height="4" fill="#1b4f8b"/>
<text x="441.50" y="406.54" font-size="7.6" text-anchor="start" fill="#333" font-weight="normal" textLength="47" lengthAdjust="spacingAndGlyphs" >CD34+CD41+</text>
<line x1="425.8" y1="416.9" x2="438.2" y2="416.9" stroke="#3db54b" stroke-width="1.5"/>
<polygon points="432,414.4 429.4,418.7 434.6,418.7" fill="#3db54b"/>
<text x="441.50" y="419.64" font-size="7.6" text-anchor="start" fill="#333" font-weight="normal" textLength="47" lengthAdjust="spacingAndGlyphs" >CD34−CD41+</text>
</svg></body></html>
